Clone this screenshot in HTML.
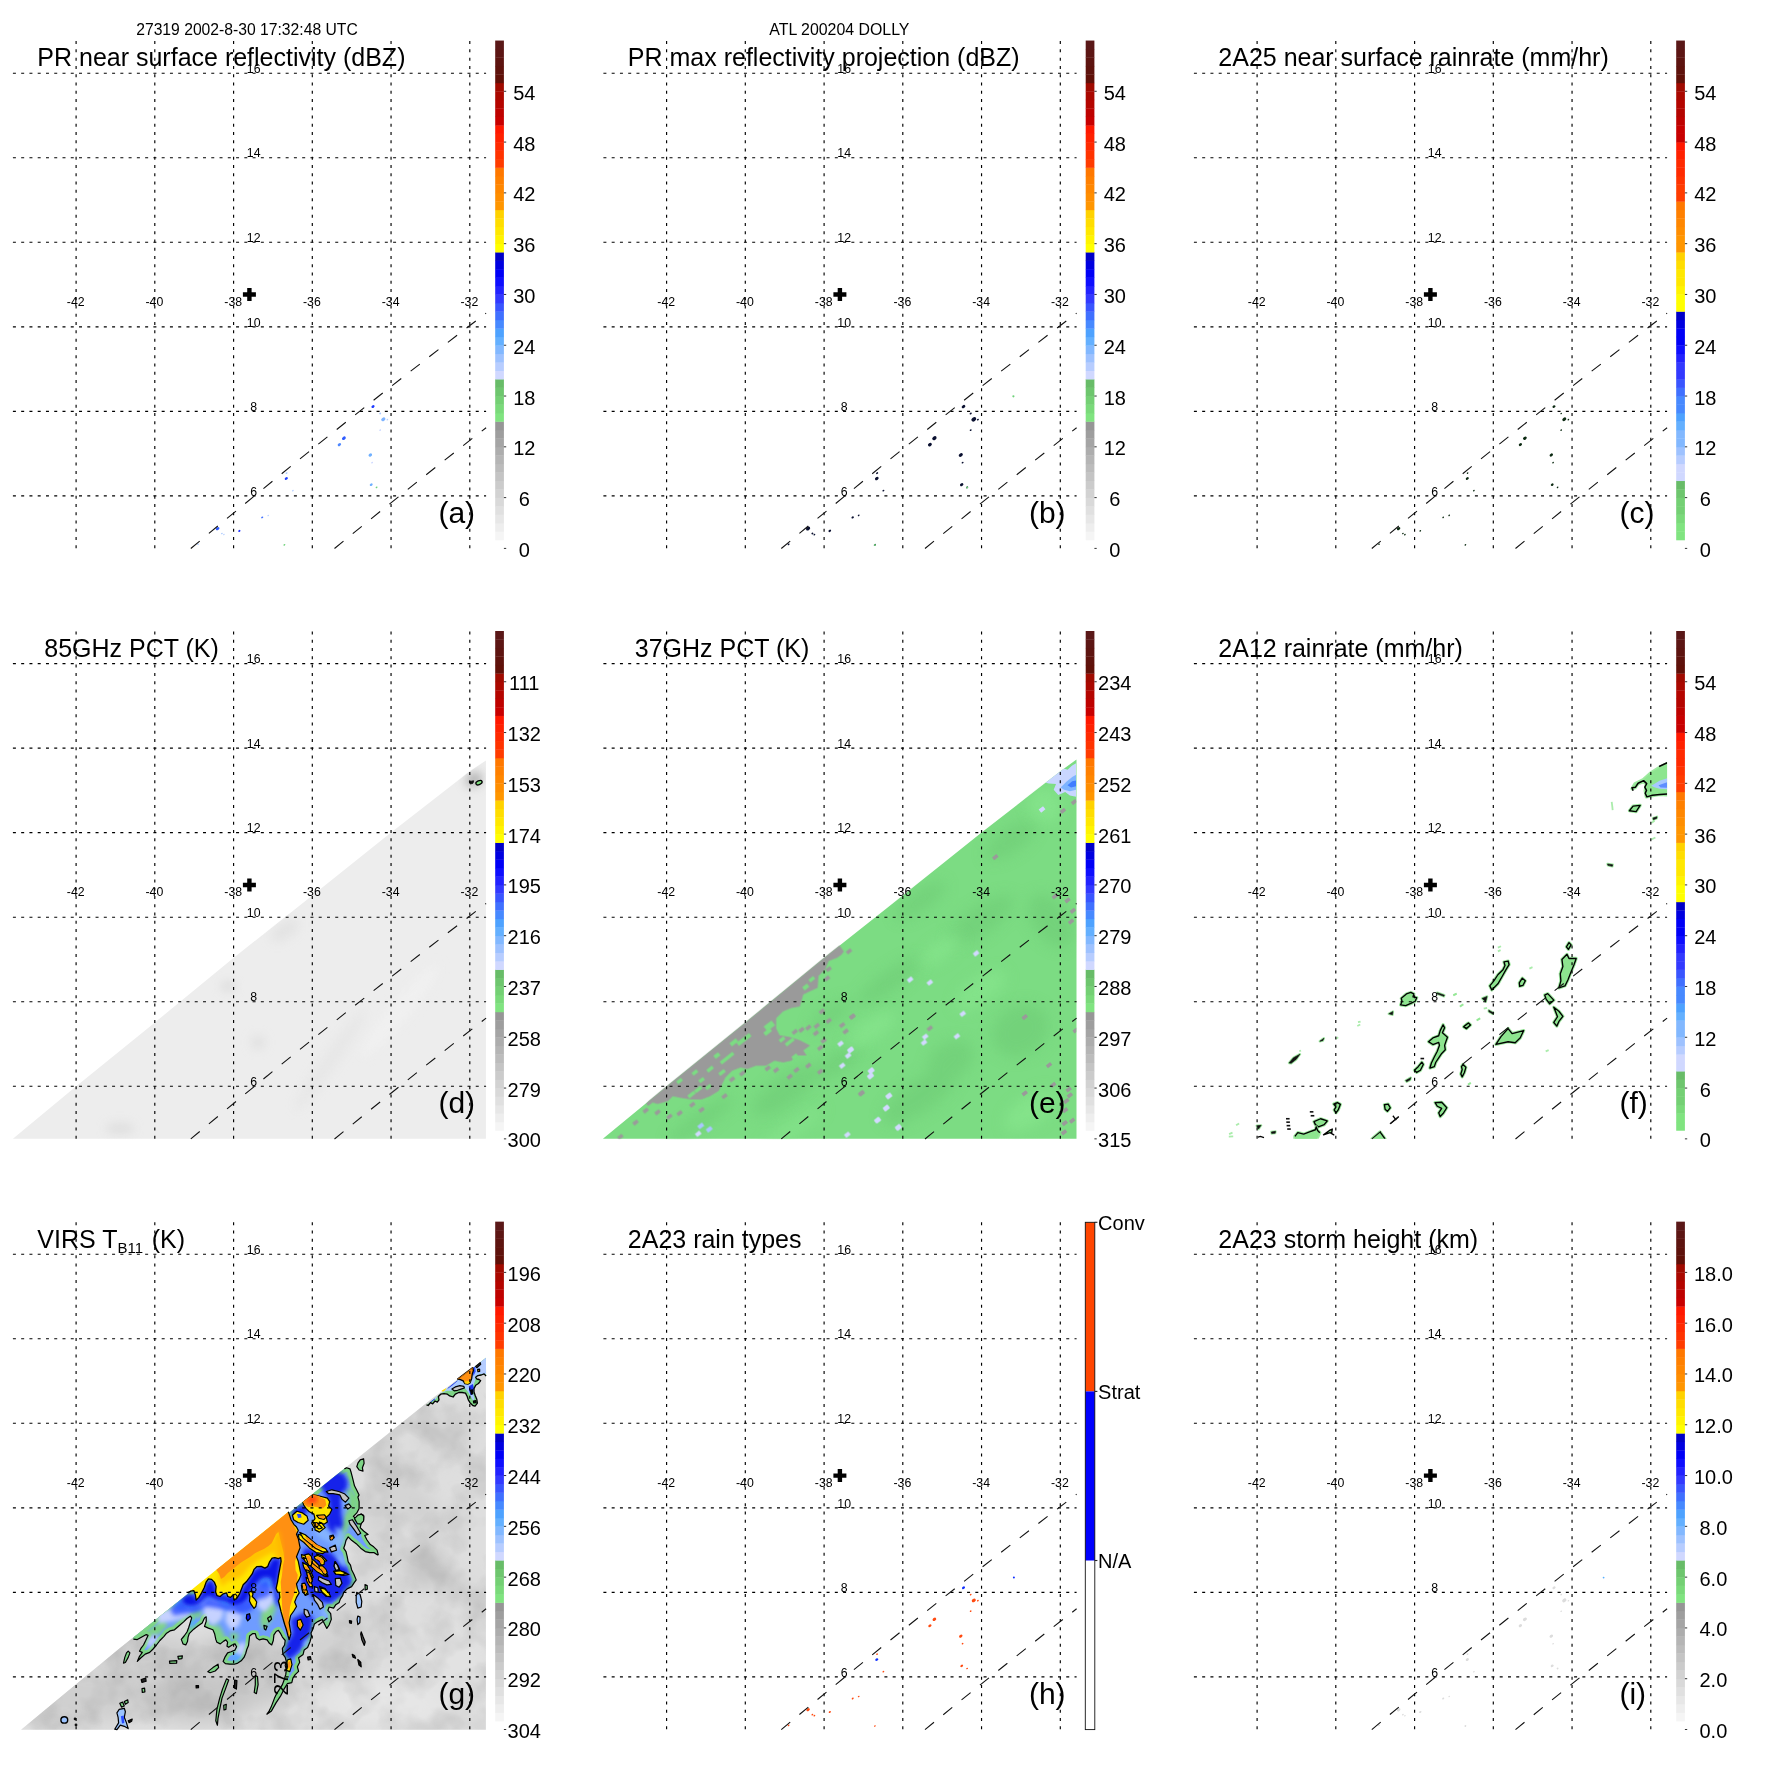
<!DOCTYPE html>
<html><head><meta charset="utf-8"><title>TRMM overpass ATL 200204 DOLLY</title>
<style>html,body{margin:0;padding:0;background:#fff;}svg{display:block;will-change:transform;}text{font-family:"Liberation Sans",sans-serif;fill:#000;}</style></head><body>
<svg width="1771" height="1771" viewBox="0 0 1771 1771">
<rect width="1771" height="1771" fill="#fff"/>
<text x="136.2" y="34.7" font-size="15.7">27319 2002-8-30 17:32:48 UTC</text>
<text x="769.3" y="34.7" font-size="15.9">ATL 200204 DOLLY</text>
<g transform="translate(0.00 0.00)"><!-- panel a -->
<ellipse cx="373.0" cy="406.6" rx="1.72" ry="1.27" fill="#1f3cff" transform="rotate(-35 373.0 406.6)"/>
<ellipse cx="380.2" cy="413.5" rx="1.03" ry="0.77" fill="#a8c8ff" transform="rotate(-35 380.2 413.5)"/>
<ellipse cx="383.3" cy="419.3" rx="2.30" ry="1.70" fill="#7fb4ff" transform="rotate(-35 383.3 419.3)"/>
<ellipse cx="387.4" cy="419.6" rx="0.92" ry="0.68" fill="#b8d0ff" transform="rotate(-35 387.4 419.6)"/>
<ellipse cx="380.2" cy="430.1" rx="0.92" ry="0.68" fill="#c8d4ff" transform="rotate(-35 380.2 430.1)"/>
<ellipse cx="343.9" cy="438.2" rx="2.07" ry="1.53" fill="#2f5cff" transform="rotate(-35 343.9 438.2)"/>
<ellipse cx="339.4" cy="444.6" rx="1.84" ry="1.36" fill="#4f88ff" transform="rotate(-35 339.4 444.6)"/>
<ellipse cx="370.3" cy="455.0" rx="1.95" ry="1.44" fill="#6fb0ff" transform="rotate(-35 370.3 455.0)"/>
<ellipse cx="372.1" cy="462.6" rx="0.92" ry="0.68" fill="#c8d4ff" transform="rotate(-35 372.1 462.6)"/>
<ellipse cx="286.6" cy="473.1" rx="1.03" ry="0.77" fill="#a8c8ff" transform="rotate(-35 286.6 473.1)"/>
<ellipse cx="286.3" cy="478.5" rx="1.72" ry="1.27" fill="#2040ff" transform="rotate(-35 286.3 478.5)"/>
<ellipse cx="292.9" cy="490.6" rx="0.92" ry="0.68" fill="#b8d0ff" transform="rotate(-35 292.9 490.6)"/>
<ellipse cx="371.2" cy="484.7" rx="1.61" ry="1.19" fill="#6fb0ff" transform="rotate(-35 371.2 484.7)"/>
<ellipse cx="376.6" cy="487.4" rx="1.03" ry="0.77" fill="#6fd27a" transform="rotate(-35 376.6 487.4)"/>
<ellipse cx="262.2" cy="517.4" rx="1.15" ry="0.85" fill="#3f70ff" transform="rotate(-35 262.2 517.4)"/>
<ellipse cx="268.2" cy="515.4" rx="0.86" ry="0.64" fill="#b8d0ff" transform="rotate(-35 268.2 515.4)"/>
<ellipse cx="217.6" cy="528.6" rx="1.95" ry="1.44" fill="#2f5cff" transform="rotate(-35 217.6 528.6)"/>
<ellipse cx="221.9" cy="533.5" rx="0.92" ry="0.68" fill="#a8c8ff" transform="rotate(-35 221.9 533.5)"/>
<ellipse cx="223.9" cy="534.6" rx="0.86" ry="0.64" fill="#b8d0ff" transform="rotate(-35 223.9 534.6)"/>
<ellipse cx="239.3" cy="530.9" rx="1.26" ry="0.94" fill="#2030ff" transform="rotate(-35 239.3 530.9)"/>
<ellipse cx="198.1" cy="544.3" rx="0.92" ry="0.68" fill="#a8c8ff" transform="rotate(-35 198.1 544.3)"/>
<ellipse cx="284.4" cy="544.9" rx="1.03" ry="0.77" fill="#6fd27a" transform="rotate(-35 284.4 544.9)"/>
<g stroke="#000" fill="none" stroke-width="1.15" stroke-dasharray="3.0 5.265">
<path d="M76.10 41.10V548.80"/>
<path d="M154.80 41.10V548.80"/>
<path d="M233.60 41.10V548.80"/>
<path d="M312.30 41.10V548.80"/>
<path d="M391.05 41.10V548.80"/>
<path d="M469.80 41.10V548.80"/>
<path d="M12.90 73.20H486.10"/>
<path d="M12.90 157.70H486.10"/>
<path d="M12.90 242.20H486.10"/>
<path d="M12.90 326.80H486.10"/>
<path d="M12.90 411.30H486.10"/>
<path d="M12.90 495.80H486.10"/>
</g>
<g stroke="#111" stroke-width="1.1" stroke-dasharray="11.6 11.94" fill="none">
<path d="M190.8 548.5Q335.8 427.5 486.1 313.1"/>
<path d="M334.5 548.5Q409.6 487.2 486.1 427.7"/>
</g>
<g font-size="12.3" text-anchor="middle">
<text x="75.70" y="306.0">-42</text>
<text x="154.40" y="306.0">-40</text>
<text x="233.20" y="306.0">-38</text>
<text x="311.90" y="306.0">-36</text>
<text x="390.65" y="306.0">-34</text>
<text x="469.40" y="306.0">-32</text>
<text x="253.7" y="72.90">16</text>
<text x="253.7" y="157.40">14</text>
<text x="253.7" y="241.90">12</text>
<text x="253.7" y="326.50">10</text>
<text x="253.7" y="411.00">8</text>
<text x="253.7" y="495.50">6</text>
</g>
<path d="M242.90 292.30h13.00v4.40h-13.00z M247.20 288.00h4.40v13.00h-4.40z" fill="#000"/>
<text x="37.30" y="65.90" font-size="25.0" xml:space="preserve">PR near surface reflectivity (dBZ)</text>
<text x="438.4" y="522.8" font-size="30">(a)</text>
<rect x="495.20" y="531.52" width="8.70" height="8.77" fill="#f5f5f5"/>
<rect x="495.20" y="523.06" width="8.70" height="8.77" fill="#eeeeee"/>
<rect x="495.20" y="514.59" width="8.70" height="8.77" fill="#e7e7e7"/>
<rect x="495.20" y="506.13" width="8.70" height="8.77" fill="#e0e0e0"/>
<rect x="495.20" y="497.66" width="8.70" height="8.77" fill="#d9d9d9"/>
<rect x="495.20" y="489.20" width="8.70" height="8.77" fill="#d2d2d2"/>
<rect x="495.20" y="480.73" width="8.70" height="8.77" fill="#cbcbcb"/>
<rect x="495.20" y="472.27" width="8.70" height="8.77" fill="#c4c4c4"/>
<rect x="495.20" y="463.80" width="8.70" height="8.77" fill="#bcbcbc"/>
<rect x="495.20" y="455.34" width="8.70" height="8.77" fill="#b5b5b5"/>
<rect x="495.20" y="446.87" width="8.70" height="8.77" fill="#adadad"/>
<rect x="495.20" y="438.41" width="8.70" height="8.77" fill="#a5a5a5"/>
<rect x="495.20" y="429.94" width="8.70" height="8.77" fill="#9e9e9e"/>
<rect x="495.20" y="421.48" width="8.70" height="8.77" fill="#969696"/>
<rect x="495.20" y="413.01" width="8.70" height="8.77" fill="#80e480"/>
<rect x="495.20" y="404.55" width="8.70" height="8.77" fill="#7ada7a"/>
<rect x="495.20" y="396.08" width="8.70" height="8.77" fill="#74d074"/>
<rect x="495.20" y="387.62" width="8.70" height="8.77" fill="#6ec66e"/>
<rect x="495.20" y="379.15" width="8.70" height="8.77" fill="#68bc68"/>
<rect x="495.20" y="370.69" width="8.70" height="8.77" fill="#d0d8ff"/>
<rect x="495.20" y="362.22" width="8.70" height="8.77" fill="#b7cdff"/>
<rect x="495.20" y="353.76" width="8.70" height="8.77" fill="#9ec2ff"/>
<rect x="495.20" y="345.29" width="8.70" height="8.77" fill="#82b8ff"/>
<rect x="495.20" y="336.83" width="8.70" height="8.77" fill="#64b0ff"/>
<rect x="495.20" y="328.36" width="8.70" height="8.77" fill="#4ea2ff"/>
<rect x="495.20" y="319.90" width="8.70" height="8.77" fill="#4789ff"/>
<rect x="495.20" y="311.43" width="8.70" height="8.77" fill="#4070ff"/>
<rect x="495.20" y="302.97" width="8.70" height="8.77" fill="#3955ff"/>
<rect x="495.20" y="294.50" width="8.70" height="8.77" fill="#3239ff"/>
<rect x="495.20" y="286.04" width="8.70" height="8.77" fill="#2222ff"/>
<rect x="495.20" y="277.57" width="8.70" height="8.77" fill="#0e0eff"/>
<rect x="495.20" y="269.11" width="8.70" height="8.77" fill="#0000f7"/>
<rect x="495.20" y="260.64" width="8.70" height="8.77" fill="#0000e0"/>
<rect x="495.20" y="252.18" width="8.70" height="8.77" fill="#0000c8"/>
<rect x="495.20" y="243.71" width="8.70" height="8.77" fill="#ffff00"/>
<rect x="495.20" y="235.25" width="8.70" height="8.77" fill="#fff400"/>
<rect x="495.20" y="226.78" width="8.70" height="8.77" fill="#ffe800"/>
<rect x="495.20" y="218.31" width="8.70" height="8.77" fill="#ffdd00"/>
<rect x="495.20" y="209.85" width="8.70" height="8.77" fill="#ffd200"/>
<rect x="495.20" y="201.38" width="8.70" height="8.77" fill="#ff9600"/>
<rect x="495.20" y="192.92" width="8.70" height="8.77" fill="#ff8e00"/>
<rect x="495.20" y="184.46" width="8.70" height="8.77" fill="#ff8700"/>
<rect x="495.20" y="175.99" width="8.70" height="8.77" fill="#ff8000"/>
<rect x="495.20" y="167.53" width="8.70" height="8.77" fill="#ff7800"/>
<rect x="495.20" y="159.06" width="8.70" height="8.77" fill="#ff3c00"/>
<rect x="495.20" y="150.60" width="8.70" height="8.77" fill="#ff3300"/>
<rect x="495.20" y="142.13" width="8.70" height="8.77" fill="#ff2a00"/>
<rect x="495.20" y="133.67" width="8.70" height="8.77" fill="#ff2100"/>
<rect x="495.20" y="125.20" width="8.70" height="8.77" fill="#ff1800"/>
<rect x="495.20" y="116.74" width="8.70" height="8.77" fill="#c80000"/>
<rect x="495.20" y="108.27" width="8.70" height="8.77" fill="#be0200"/>
<rect x="495.20" y="99.81" width="8.70" height="8.77" fill="#b40500"/>
<rect x="495.20" y="91.34" width="8.70" height="8.77" fill="#aa0800"/>
<rect x="495.20" y="82.88" width="8.70" height="8.77" fill="#a00a00"/>
<rect x="495.20" y="74.41" width="8.70" height="8.77" fill="#601008"/>
<rect x="495.20" y="65.95" width="8.70" height="8.77" fill="#5e120c"/>
<rect x="495.20" y="57.48" width="8.70" height="8.77" fill="#5d1410"/>
<rect x="495.20" y="49.02" width="8.70" height="8.77" fill="#5c1614"/>
<rect x="495.20" y="40.55" width="8.70" height="8.77" fill="#5a1818"/>
<rect x="503.90" y="547.90" width="2.3" height="1.0" fill="#333"/>
<text x="524.25" y="556.90" font-size="20.00" text-anchor="middle">0</text>
<rect x="503.90" y="497.11" width="2.3" height="1.0" fill="#333"/>
<text x="524.25" y="506.11" font-size="20.00" text-anchor="middle">6</text>
<rect x="503.90" y="446.32" width="2.3" height="1.0" fill="#333"/>
<text x="524.25" y="455.32" font-size="20.00" text-anchor="middle">12</text>
<rect x="503.90" y="395.53" width="2.3" height="1.0" fill="#333"/>
<text x="524.25" y="404.53" font-size="20.00" text-anchor="middle">18</text>
<rect x="503.90" y="344.74" width="2.3" height="1.0" fill="#333"/>
<text x="524.25" y="353.74" font-size="20.00" text-anchor="middle">24</text>
<rect x="503.90" y="293.95" width="2.3" height="1.0" fill="#333"/>
<text x="524.25" y="302.95" font-size="20.00" text-anchor="middle">30</text>
<rect x="503.90" y="243.16" width="2.3" height="1.0" fill="#333"/>
<text x="524.25" y="252.16" font-size="20.00" text-anchor="middle">36</text>
<rect x="503.90" y="192.37" width="2.3" height="1.0" fill="#333"/>
<text x="524.25" y="201.37" font-size="20.00" text-anchor="middle">42</text>
<rect x="503.90" y="141.58" width="2.3" height="1.0" fill="#333"/>
<text x="524.25" y="150.58" font-size="20.00" text-anchor="middle">48</text>
<rect x="503.90" y="90.79" width="2.3" height="1.0" fill="#333"/>
<text x="524.25" y="99.79" font-size="20.00" text-anchor="middle">54</text>
</g>
<g transform="translate(590.50 0.00)"><!-- panel b -->
<ellipse cx="373.0" cy="406.6" rx="1.98" ry="1.47" fill="#0a1030" transform="rotate(-35 373.0 406.6)"/>
<ellipse cx="380.2" cy="413.5" rx="1.19" ry="0.88" fill="#0a1030" transform="rotate(-35 380.2 413.5)"/>
<ellipse cx="383.3" cy="419.3" rx="2.64" ry="1.95" fill="#0a1030" transform="rotate(-35 383.3 419.3)"/>
<ellipse cx="387.4" cy="419.6" rx="1.06" ry="0.78" fill="#0a1030" transform="rotate(-35 387.4 419.6)"/>
<ellipse cx="380.2" cy="430.1" rx="1.06" ry="0.78" fill="#0a1030" transform="rotate(-35 380.2 430.1)"/>
<ellipse cx="343.9" cy="438.2" rx="2.38" ry="1.76" fill="#0a1030" transform="rotate(-35 343.9 438.2)"/>
<ellipse cx="339.4" cy="444.6" rx="2.12" ry="1.56" fill="#0a1030" transform="rotate(-35 339.4 444.6)"/>
<ellipse cx="370.3" cy="455.0" rx="2.25" ry="1.66" fill="#0a1030" transform="rotate(-35 370.3 455.0)"/>
<ellipse cx="372.1" cy="462.6" rx="1.06" ry="0.78" fill="#0a1030" transform="rotate(-35 372.1 462.6)"/>
<ellipse cx="286.6" cy="473.1" rx="1.19" ry="0.88" fill="#0a1030" transform="rotate(-35 286.6 473.1)"/>
<ellipse cx="286.3" cy="478.5" rx="1.98" ry="1.47" fill="#0a1030" transform="rotate(-35 286.3 478.5)"/>
<ellipse cx="292.9" cy="490.6" rx="1.06" ry="0.78" fill="#0a1030" transform="rotate(-35 292.9 490.6)"/>
<ellipse cx="371.2" cy="484.7" rx="1.85" ry="1.37" fill="#0a1030" transform="rotate(-35 371.2 484.7)"/>
<ellipse cx="376.6" cy="487.4" rx="1.19" ry="0.88" fill="#0a1030" transform="rotate(-35 376.6 487.4)"/>
<ellipse cx="262.2" cy="517.4" rx="1.32" ry="0.98" fill="#0a1030" transform="rotate(-35 262.2 517.4)"/>
<ellipse cx="268.2" cy="515.4" rx="0.99" ry="0.73" fill="#0a1030" transform="rotate(-35 268.2 515.4)"/>
<ellipse cx="217.6" cy="528.6" rx="2.25" ry="1.66" fill="#0a1030" transform="rotate(-35 217.6 528.6)"/>
<ellipse cx="221.9" cy="533.5" rx="1.06" ry="0.78" fill="#0a1030" transform="rotate(-35 221.9 533.5)"/>
<ellipse cx="223.9" cy="534.6" rx="0.99" ry="0.73" fill="#0a1030" transform="rotate(-35 223.9 534.6)"/>
<ellipse cx="239.3" cy="530.9" rx="1.45" ry="1.08" fill="#0a1030" transform="rotate(-35 239.3 530.9)"/>
<ellipse cx="198.1" cy="544.3" rx="1.06" ry="0.78" fill="#0a1030" transform="rotate(-35 198.1 544.3)"/>
<ellipse cx="284.4" cy="544.9" rx="1.19" ry="0.88" fill="#0a1030" transform="rotate(-35 284.4 544.9)"/>
<circle cx="422.9" cy="396.3" r="1.1" fill="#6fd27a"/>
<circle cx="376.6" cy="487.4" r="1.0" fill="#6fd27a"/>
<circle cx="284.4" cy="544.9" r="1.0" fill="#6fd27a"/>
<g stroke="#000" fill="none" stroke-width="1.15" stroke-dasharray="3.0 5.265">
<path d="M76.10 41.10V548.80"/>
<path d="M154.80 41.10V548.80"/>
<path d="M233.60 41.10V548.80"/>
<path d="M312.30 41.10V548.80"/>
<path d="M391.05 41.10V548.80"/>
<path d="M469.80 41.10V548.80"/>
<path d="M12.90 73.20H486.10"/>
<path d="M12.90 157.70H486.10"/>
<path d="M12.90 242.20H486.10"/>
<path d="M12.90 326.80H486.10"/>
<path d="M12.90 411.30H486.10"/>
<path d="M12.90 495.80H486.10"/>
</g>
<g stroke="#111" stroke-width="1.1" stroke-dasharray="11.6 11.94" fill="none">
<path d="M190.8 548.5Q335.8 427.5 486.1 313.1"/>
<path d="M334.5 548.5Q409.6 487.2 486.1 427.7"/>
</g>
<g font-size="12.3" text-anchor="middle">
<text x="75.70" y="306.0">-42</text>
<text x="154.40" y="306.0">-40</text>
<text x="233.20" y="306.0">-38</text>
<text x="311.90" y="306.0">-36</text>
<text x="390.65" y="306.0">-34</text>
<text x="469.40" y="306.0">-32</text>
<text x="253.7" y="72.90">16</text>
<text x="253.7" y="157.40">14</text>
<text x="253.7" y="241.90">12</text>
<text x="253.7" y="326.50">10</text>
<text x="253.7" y="411.00">8</text>
<text x="253.7" y="495.50">6</text>
</g>
<path d="M242.90 292.30h13.00v4.40h-13.00z M247.20 288.00h4.40v13.00h-4.40z" fill="#000"/>
<text x="37.30" y="65.90" font-size="25.0" xml:space="preserve">PR max reflectivity projection (dBZ)</text>
<text x="438.4" y="522.8" font-size="30">(b)</text>
<rect x="495.20" y="531.52" width="8.70" height="8.77" fill="#f5f5f5"/>
<rect x="495.20" y="523.06" width="8.70" height="8.77" fill="#eeeeee"/>
<rect x="495.20" y="514.59" width="8.70" height="8.77" fill="#e7e7e7"/>
<rect x="495.20" y="506.13" width="8.70" height="8.77" fill="#e0e0e0"/>
<rect x="495.20" y="497.66" width="8.70" height="8.77" fill="#d9d9d9"/>
<rect x="495.20" y="489.20" width="8.70" height="8.77" fill="#d2d2d2"/>
<rect x="495.20" y="480.73" width="8.70" height="8.77" fill="#cbcbcb"/>
<rect x="495.20" y="472.27" width="8.70" height="8.77" fill="#c4c4c4"/>
<rect x="495.20" y="463.80" width="8.70" height="8.77" fill="#bcbcbc"/>
<rect x="495.20" y="455.34" width="8.70" height="8.77" fill="#b5b5b5"/>
<rect x="495.20" y="446.87" width="8.70" height="8.77" fill="#adadad"/>
<rect x="495.20" y="438.41" width="8.70" height="8.77" fill="#a5a5a5"/>
<rect x="495.20" y="429.94" width="8.70" height="8.77" fill="#9e9e9e"/>
<rect x="495.20" y="421.48" width="8.70" height="8.77" fill="#969696"/>
<rect x="495.20" y="413.01" width="8.70" height="8.77" fill="#80e480"/>
<rect x="495.20" y="404.55" width="8.70" height="8.77" fill="#7ada7a"/>
<rect x="495.20" y="396.08" width="8.70" height="8.77" fill="#74d074"/>
<rect x="495.20" y="387.62" width="8.70" height="8.77" fill="#6ec66e"/>
<rect x="495.20" y="379.15" width="8.70" height="8.77" fill="#68bc68"/>
<rect x="495.20" y="370.69" width="8.70" height="8.77" fill="#d0d8ff"/>
<rect x="495.20" y="362.22" width="8.70" height="8.77" fill="#b7cdff"/>
<rect x="495.20" y="353.76" width="8.70" height="8.77" fill="#9ec2ff"/>
<rect x="495.20" y="345.29" width="8.70" height="8.77" fill="#82b8ff"/>
<rect x="495.20" y="336.83" width="8.70" height="8.77" fill="#64b0ff"/>
<rect x="495.20" y="328.36" width="8.70" height="8.77" fill="#4ea2ff"/>
<rect x="495.20" y="319.90" width="8.70" height="8.77" fill="#4789ff"/>
<rect x="495.20" y="311.43" width="8.70" height="8.77" fill="#4070ff"/>
<rect x="495.20" y="302.97" width="8.70" height="8.77" fill="#3955ff"/>
<rect x="495.20" y="294.50" width="8.70" height="8.77" fill="#3239ff"/>
<rect x="495.20" y="286.04" width="8.70" height="8.77" fill="#2222ff"/>
<rect x="495.20" y="277.57" width="8.70" height="8.77" fill="#0e0eff"/>
<rect x="495.20" y="269.11" width="8.70" height="8.77" fill="#0000f7"/>
<rect x="495.20" y="260.64" width="8.70" height="8.77" fill="#0000e0"/>
<rect x="495.20" y="252.18" width="8.70" height="8.77" fill="#0000c8"/>
<rect x="495.20" y="243.71" width="8.70" height="8.77" fill="#ffff00"/>
<rect x="495.20" y="235.25" width="8.70" height="8.77" fill="#fff400"/>
<rect x="495.20" y="226.78" width="8.70" height="8.77" fill="#ffe800"/>
<rect x="495.20" y="218.31" width="8.70" height="8.77" fill="#ffdd00"/>
<rect x="495.20" y="209.85" width="8.70" height="8.77" fill="#ffd200"/>
<rect x="495.20" y="201.38" width="8.70" height="8.77" fill="#ff9600"/>
<rect x="495.20" y="192.92" width="8.70" height="8.77" fill="#ff8e00"/>
<rect x="495.20" y="184.46" width="8.70" height="8.77" fill="#ff8700"/>
<rect x="495.20" y="175.99" width="8.70" height="8.77" fill="#ff8000"/>
<rect x="495.20" y="167.53" width="8.70" height="8.77" fill="#ff7800"/>
<rect x="495.20" y="159.06" width="8.70" height="8.77" fill="#ff3c00"/>
<rect x="495.20" y="150.60" width="8.70" height="8.77" fill="#ff3300"/>
<rect x="495.20" y="142.13" width="8.70" height="8.77" fill="#ff2a00"/>
<rect x="495.20" y="133.67" width="8.70" height="8.77" fill="#ff2100"/>
<rect x="495.20" y="125.20" width="8.70" height="8.77" fill="#ff1800"/>
<rect x="495.20" y="116.74" width="8.70" height="8.77" fill="#c80000"/>
<rect x="495.20" y="108.27" width="8.70" height="8.77" fill="#be0200"/>
<rect x="495.20" y="99.81" width="8.70" height="8.77" fill="#b40500"/>
<rect x="495.20" y="91.34" width="8.70" height="8.77" fill="#aa0800"/>
<rect x="495.20" y="82.88" width="8.70" height="8.77" fill="#a00a00"/>
<rect x="495.20" y="74.41" width="8.70" height="8.77" fill="#601008"/>
<rect x="495.20" y="65.95" width="8.70" height="8.77" fill="#5e120c"/>
<rect x="495.20" y="57.48" width="8.70" height="8.77" fill="#5d1410"/>
<rect x="495.20" y="49.02" width="8.70" height="8.77" fill="#5c1614"/>
<rect x="495.20" y="40.55" width="8.70" height="8.77" fill="#5a1818"/>
<rect x="503.90" y="547.90" width="2.3" height="1.0" fill="#333"/>
<text x="524.25" y="556.90" font-size="20.00" text-anchor="middle">0</text>
<rect x="503.90" y="497.11" width="2.3" height="1.0" fill="#333"/>
<text x="524.25" y="506.11" font-size="20.00" text-anchor="middle">6</text>
<rect x="503.90" y="446.32" width="2.3" height="1.0" fill="#333"/>
<text x="524.25" y="455.32" font-size="20.00" text-anchor="middle">12</text>
<rect x="503.90" y="395.53" width="2.3" height="1.0" fill="#333"/>
<text x="524.25" y="404.53" font-size="20.00" text-anchor="middle">18</text>
<rect x="503.90" y="344.74" width="2.3" height="1.0" fill="#333"/>
<text x="524.25" y="353.74" font-size="20.00" text-anchor="middle">24</text>
<rect x="503.90" y="293.95" width="2.3" height="1.0" fill="#333"/>
<text x="524.25" y="302.95" font-size="20.00" text-anchor="middle">30</text>
<rect x="503.90" y="243.16" width="2.3" height="1.0" fill="#333"/>
<text x="524.25" y="252.16" font-size="20.00" text-anchor="middle">36</text>
<rect x="503.90" y="192.37" width="2.3" height="1.0" fill="#333"/>
<text x="524.25" y="201.37" font-size="20.00" text-anchor="middle">42</text>
<rect x="503.90" y="141.58" width="2.3" height="1.0" fill="#333"/>
<text x="524.25" y="150.58" font-size="20.00" text-anchor="middle">48</text>
<rect x="503.90" y="90.79" width="2.3" height="1.0" fill="#333"/>
<text x="524.25" y="99.79" font-size="20.00" text-anchor="middle">54</text>
</g>
<g transform="translate(1181.00 0.00)"><!-- panel c -->
<ellipse cx="373.0" cy="406.6" rx="1.64" ry="1.21" fill="#0c2a12" transform="rotate(-35 373.0 406.6)"/>
<ellipse cx="380.2" cy="413.5" rx="0.92" ry="0.68" fill="#0c2a12" transform="rotate(-35 380.2 413.5)"/>
<ellipse cx="383.3" cy="419.3" rx="2.18" ry="1.61" fill="#0c2a12" transform="rotate(-35 383.3 419.3)"/>
<ellipse cx="387.4" cy="419.6" rx="0.92" ry="0.68" fill="#0c2a12" transform="rotate(-35 387.4 419.6)"/>
<ellipse cx="380.2" cy="430.1" rx="0.92" ry="0.68" fill="#0c2a12" transform="rotate(-35 380.2 430.1)"/>
<ellipse cx="343.9" cy="438.2" rx="1.97" ry="1.45" fill="#0c2a12" transform="rotate(-35 343.9 438.2)"/>
<ellipse cx="339.4" cy="444.6" rx="1.75" ry="1.29" fill="#0c2a12" transform="rotate(-35 339.4 444.6)"/>
<ellipse cx="370.3" cy="455.0" rx="1.86" ry="1.37" fill="#0c2a12" transform="rotate(-35 370.3 455.0)"/>
<ellipse cx="372.1" cy="462.6" rx="0.92" ry="0.68" fill="#0c2a12" transform="rotate(-35 372.1 462.6)"/>
<ellipse cx="286.6" cy="473.1" rx="0.92" ry="0.68" fill="#0c2a12" transform="rotate(-35 286.6 473.1)"/>
<ellipse cx="286.3" cy="478.5" rx="1.64" ry="1.21" fill="#0c2a12" transform="rotate(-35 286.3 478.5)"/>
<ellipse cx="292.9" cy="490.6" rx="0.92" ry="0.68" fill="#0c2a12" transform="rotate(-35 292.9 490.6)"/>
<ellipse cx="371.2" cy="484.7" rx="1.53" ry="1.13" fill="#0c2a12" transform="rotate(-35 371.2 484.7)"/>
<ellipse cx="376.6" cy="487.4" rx="0.92" ry="0.68" fill="#0c2a12" transform="rotate(-35 376.6 487.4)"/>
<ellipse cx="262.2" cy="517.4" rx="0.92" ry="0.68" fill="#0c2a12" transform="rotate(-35 262.2 517.4)"/>
<ellipse cx="268.2" cy="515.4" rx="0.92" ry="0.68" fill="#0c2a12" transform="rotate(-35 268.2 515.4)"/>
<ellipse cx="217.6" cy="528.6" rx="1.86" ry="1.37" fill="#0c2a12" transform="rotate(-35 217.6 528.6)"/>
<ellipse cx="221.9" cy="533.5" rx="0.92" ry="0.68" fill="#0c2a12" transform="rotate(-35 221.9 533.5)"/>
<ellipse cx="223.9" cy="534.6" rx="0.92" ry="0.68" fill="#0c2a12" transform="rotate(-35 223.9 534.6)"/>
<ellipse cx="239.3" cy="530.9" rx="0.92" ry="0.68" fill="#0c2a12" transform="rotate(-35 239.3 530.9)"/>
<ellipse cx="198.1" cy="544.3" rx="0.92" ry="0.68" fill="#0c2a12" transform="rotate(-35 198.1 544.3)"/>
<ellipse cx="284.4" cy="544.9" rx="0.92" ry="0.68" fill="#0c2a12" transform="rotate(-35 284.4 544.9)"/>
<g stroke="#000" fill="none" stroke-width="1.15" stroke-dasharray="3.0 5.265">
<path d="M76.10 41.10V548.80"/>
<path d="M154.80 41.10V548.80"/>
<path d="M233.60 41.10V548.80"/>
<path d="M312.30 41.10V548.80"/>
<path d="M391.05 41.10V548.80"/>
<path d="M469.80 41.10V548.80"/>
<path d="M12.90 73.20H486.10"/>
<path d="M12.90 157.70H486.10"/>
<path d="M12.90 242.20H486.10"/>
<path d="M12.90 326.80H486.10"/>
<path d="M12.90 411.30H486.10"/>
<path d="M12.90 495.80H486.10"/>
</g>
<g stroke="#111" stroke-width="1.1" stroke-dasharray="11.6 11.94" fill="none">
<path d="M190.8 548.5Q335.8 427.5 486.1 313.1"/>
<path d="M334.5 548.5Q409.6 487.2 486.1 427.7"/>
</g>
<g font-size="12.3" text-anchor="middle">
<text x="75.70" y="306.0">-42</text>
<text x="154.40" y="306.0">-40</text>
<text x="233.20" y="306.0">-38</text>
<text x="311.90" y="306.0">-36</text>
<text x="390.65" y="306.0">-34</text>
<text x="469.40" y="306.0">-32</text>
<text x="253.7" y="72.90">16</text>
<text x="253.7" y="157.40">14</text>
<text x="253.7" y="241.90">12</text>
<text x="253.7" y="326.50">10</text>
<text x="253.7" y="411.00">8</text>
<text x="253.7" y="495.50">6</text>
</g>
<path d="M242.90 292.30h13.00v4.40h-13.00z M247.20 288.00h4.40v13.00h-4.40z" fill="#000"/>
<text x="37.30" y="65.90" font-size="25.0" xml:space="preserve">2A25 near surface rainrate (mm/hr)</text>
<text x="438.4" y="522.8" font-size="30">(c)</text>
<rect x="495.20" y="531.52" width="8.70" height="8.77" fill="#80e480"/>
<rect x="495.20" y="523.06" width="8.70" height="8.77" fill="#80e480"/>
<rect x="495.20" y="514.59" width="8.70" height="8.77" fill="#7ada7a"/>
<rect x="495.20" y="506.13" width="8.70" height="8.77" fill="#74d074"/>
<rect x="495.20" y="497.66" width="8.70" height="8.77" fill="#74d074"/>
<rect x="495.20" y="489.20" width="8.70" height="8.77" fill="#6ec66e"/>
<rect x="495.20" y="480.73" width="8.70" height="8.77" fill="#68bc68"/>
<rect x="495.20" y="472.27" width="8.70" height="8.77" fill="#d0d8ff"/>
<rect x="495.20" y="463.80" width="8.70" height="8.77" fill="#d0d8ff"/>
<rect x="495.20" y="455.34" width="8.70" height="8.77" fill="#b7cdff"/>
<rect x="495.20" y="446.87" width="8.70" height="8.77" fill="#9ec2ff"/>
<rect x="495.20" y="438.41" width="8.70" height="8.77" fill="#82b8ff"/>
<rect x="495.20" y="429.94" width="8.70" height="8.77" fill="#82b8ff"/>
<rect x="495.20" y="421.48" width="8.70" height="8.77" fill="#64b0ff"/>
<rect x="495.20" y="413.01" width="8.70" height="8.77" fill="#4ea2ff"/>
<rect x="495.20" y="404.55" width="8.70" height="8.77" fill="#4789ff"/>
<rect x="495.20" y="396.08" width="8.70" height="8.77" fill="#4789ff"/>
<rect x="495.20" y="387.62" width="8.70" height="8.77" fill="#4070ff"/>
<rect x="495.20" y="379.15" width="8.70" height="8.77" fill="#3955ff"/>
<rect x="495.20" y="370.69" width="8.70" height="8.77" fill="#3239ff"/>
<rect x="495.20" y="362.22" width="8.70" height="8.77" fill="#3239ff"/>
<rect x="495.20" y="353.76" width="8.70" height="8.77" fill="#2222ff"/>
<rect x="495.20" y="345.29" width="8.70" height="8.77" fill="#0e0eff"/>
<rect x="495.20" y="336.83" width="8.70" height="8.77" fill="#0000f7"/>
<rect x="495.20" y="328.36" width="8.70" height="8.77" fill="#0000f7"/>
<rect x="495.20" y="319.90" width="8.70" height="8.77" fill="#0000e0"/>
<rect x="495.20" y="311.43" width="8.70" height="8.77" fill="#0000c8"/>
<rect x="495.20" y="302.97" width="8.70" height="8.77" fill="#ffff00"/>
<rect x="495.20" y="294.50" width="8.70" height="8.77" fill="#ffff00"/>
<rect x="495.20" y="286.04" width="8.70" height="8.77" fill="#fff400"/>
<rect x="495.20" y="277.57" width="8.70" height="8.77" fill="#ffe800"/>
<rect x="495.20" y="269.11" width="8.70" height="8.77" fill="#ffe800"/>
<rect x="495.20" y="260.64" width="8.70" height="8.77" fill="#ffdd00"/>
<rect x="495.20" y="252.18" width="8.70" height="8.77" fill="#ffd200"/>
<rect x="495.20" y="243.71" width="8.70" height="8.77" fill="#ff9600"/>
<rect x="495.20" y="235.25" width="8.70" height="8.77" fill="#ff9600"/>
<rect x="495.20" y="226.78" width="8.70" height="8.77" fill="#ff8e00"/>
<rect x="495.20" y="218.31" width="8.70" height="8.77" fill="#ff8700"/>
<rect x="495.20" y="209.85" width="8.70" height="8.77" fill="#ff8000"/>
<rect x="495.20" y="201.38" width="8.70" height="8.77" fill="#ff7800"/>
<rect x="495.20" y="192.92" width="8.70" height="8.77" fill="#ff3c00"/>
<rect x="495.20" y="184.46" width="8.70" height="8.77" fill="#ff3c00"/>
<rect x="495.20" y="175.99" width="8.70" height="8.77" fill="#ff3300"/>
<rect x="495.20" y="167.53" width="8.70" height="8.77" fill="#ff2a00"/>
<rect x="495.20" y="159.06" width="8.70" height="8.77" fill="#ff2a00"/>
<rect x="495.20" y="150.60" width="8.70" height="8.77" fill="#ff2100"/>
<rect x="495.20" y="142.13" width="8.70" height="8.77" fill="#ff1800"/>
<rect x="495.20" y="133.67" width="8.70" height="8.77" fill="#c80000"/>
<rect x="495.20" y="125.20" width="8.70" height="8.77" fill="#c80000"/>
<rect x="495.20" y="116.74" width="8.70" height="8.77" fill="#be0200"/>
<rect x="495.20" y="108.27" width="8.70" height="8.77" fill="#b40500"/>
<rect x="495.20" y="99.81" width="8.70" height="8.77" fill="#b40500"/>
<rect x="495.20" y="91.34" width="8.70" height="8.77" fill="#aa0800"/>
<rect x="495.20" y="82.88" width="8.70" height="8.77" fill="#a00a00"/>
<rect x="495.20" y="74.41" width="8.70" height="8.77" fill="#601008"/>
<rect x="495.20" y="65.95" width="8.70" height="8.77" fill="#5e120c"/>
<rect x="495.20" y="57.48" width="8.70" height="8.77" fill="#5d1410"/>
<rect x="495.20" y="49.02" width="8.70" height="8.77" fill="#5c1614"/>
<rect x="495.20" y="40.55" width="8.70" height="8.77" fill="#5a1818"/>
<rect x="503.90" y="547.90" width="2.3" height="1.0" fill="#333"/>
<text x="524.25" y="556.90" font-size="20.00" text-anchor="middle">0</text>
<rect x="503.90" y="497.11" width="2.3" height="1.0" fill="#333"/>
<text x="524.25" y="506.11" font-size="20.00" text-anchor="middle">6</text>
<rect x="503.90" y="446.32" width="2.3" height="1.0" fill="#333"/>
<text x="524.25" y="455.32" font-size="20.00" text-anchor="middle">12</text>
<rect x="503.90" y="395.53" width="2.3" height="1.0" fill="#333"/>
<text x="524.25" y="404.53" font-size="20.00" text-anchor="middle">18</text>
<rect x="503.90" y="344.74" width="2.3" height="1.0" fill="#333"/>
<text x="524.25" y="353.74" font-size="20.00" text-anchor="middle">24</text>
<rect x="503.90" y="293.95" width="2.3" height="1.0" fill="#333"/>
<text x="524.25" y="302.95" font-size="20.00" text-anchor="middle">30</text>
<rect x="503.90" y="243.16" width="2.3" height="1.0" fill="#333"/>
<text x="524.25" y="252.16" font-size="20.00" text-anchor="middle">36</text>
<rect x="503.90" y="192.37" width="2.3" height="1.0" fill="#333"/>
<text x="524.25" y="201.37" font-size="20.00" text-anchor="middle">42</text>
<rect x="503.90" y="141.58" width="2.3" height="1.0" fill="#333"/>
<text x="524.25" y="150.58" font-size="20.00" text-anchor="middle">48</text>
<rect x="503.90" y="90.79" width="2.3" height="1.0" fill="#333"/>
<text x="524.25" y="99.79" font-size="20.00" text-anchor="middle">54</text>
</g>
<g transform="translate(0.00 590.45)"><!-- panel d -->
<defs><filter id="bd" x="-20%" y="-20%" width="140%" height="140%"><feGaussianBlur stdDeviation="5"/></filter><clipPath id="cd"><path d="M12.9 548.4L75.9 496.0L154.3 432.5L233.4 367.5L312.3 305.1L391.1 242.0L469.5 181.1L485.9 170.0L485.9 548.4Z"/></clipPath></defs>
<path d="M12.9 548.4L75.9 496.0L154.3 432.5L233.4 367.5L312.3 305.1L391.1 242.0L469.5 181.1L485.9 170.0L485.9 548.4Z" fill="#ededed" />
<g clip-path="url(#cd)">
<g filter="url(#bd)">
<ellipse cx="474" cy="189" rx="9" ry="7" fill="#b4b4b4" transform="rotate(-35 474 189)"/>
<ellipse cx="285" cy="340" rx="16" ry="8" fill="#e3e3e3" transform="rotate(-35 285 340)"/>
<ellipse cx="228" cy="396" rx="7" ry="5" fill="#dcdcdc"/>
<ellipse cx="120" cy="538" rx="14" ry="6" fill="#dfdfdf"/>
<ellipse cx="258" cy="452" rx="7" ry="7" fill="#e1e1e1"/>
<ellipse cx="400" cy="420" rx="60" ry="10" fill="#f0f0f0" transform="rotate(-50 400 420)"/>
<ellipse cx="330" cy="470" rx="60" ry="8" fill="#e7e7e7" transform="rotate(-55 330 470)"/>
</g></g>
<ellipse cx="479" cy="192.2" rx="3.3" ry="1.9" fill="#7fdf7f" stroke="#000" stroke-width="1.3" transform="rotate(-25 479 192.2)"/>
<path d="M469.4 191.2l4.2-0.9l-0.6 2.4l-2.6 0.9z" fill="#111" stroke="#111" stroke-width="0.9" stroke-linejoin="round"/>
<g stroke="#000" fill="none" stroke-width="1.15" stroke-dasharray="3.0 5.265">
<path d="M76.10 41.10V548.80"/>
<path d="M154.80 41.10V548.80"/>
<path d="M233.60 41.10V548.80"/>
<path d="M312.30 41.10V548.80"/>
<path d="M391.05 41.10V548.80"/>
<path d="M469.80 41.10V548.80"/>
<path d="M12.90 73.20H486.10"/>
<path d="M12.90 157.70H486.10"/>
<path d="M12.90 242.20H486.10"/>
<path d="M12.90 326.80H486.10"/>
<path d="M12.90 411.30H486.10"/>
<path d="M12.90 495.80H486.10"/>
</g>
<g stroke="#111" stroke-width="1.1" stroke-dasharray="11.6 11.94" fill="none">
<path d="M190.8 548.5Q335.8 427.5 486.1 313.1"/>
<path d="M334.5 548.5Q409.6 487.2 486.1 427.7"/>
</g>
<g font-size="12.3" text-anchor="middle">
<text x="75.70" y="306.0">-42</text>
<text x="154.40" y="306.0">-40</text>
<text x="233.20" y="306.0">-38</text>
<text x="311.90" y="306.0">-36</text>
<text x="390.65" y="306.0">-34</text>
<text x="469.40" y="306.0">-32</text>
<text x="253.7" y="72.90">16</text>
<text x="253.7" y="157.40">14</text>
<text x="253.7" y="241.90">12</text>
<text x="253.7" y="326.50">10</text>
<text x="253.7" y="411.00">8</text>
<text x="253.7" y="495.50">6</text>
</g>
<path d="M242.90 292.30h13.00v4.40h-13.00z M247.20 288.00h4.40v13.00h-4.40z" fill="#000"/>
<text x="37.30" y="66.50" font-size="25.0" xml:space="preserve"> 85GHz PCT (K)</text>
<text x="438.4" y="522.8" font-size="30">(d)</text>
<rect x="495.20" y="531.52" width="8.70" height="8.77" fill="#f5f5f5"/>
<rect x="495.20" y="523.06" width="8.70" height="8.77" fill="#eeeeee"/>
<rect x="495.20" y="514.59" width="8.70" height="8.77" fill="#e7e7e7"/>
<rect x="495.20" y="506.13" width="8.70" height="8.77" fill="#e0e0e0"/>
<rect x="495.20" y="497.66" width="8.70" height="8.77" fill="#d9d9d9"/>
<rect x="495.20" y="489.20" width="8.70" height="8.77" fill="#d2d2d2"/>
<rect x="495.20" y="480.73" width="8.70" height="8.77" fill="#cbcbcb"/>
<rect x="495.20" y="472.27" width="8.70" height="8.77" fill="#c4c4c4"/>
<rect x="495.20" y="463.80" width="8.70" height="8.77" fill="#bcbcbc"/>
<rect x="495.20" y="455.34" width="8.70" height="8.77" fill="#b5b5b5"/>
<rect x="495.20" y="446.87" width="8.70" height="8.77" fill="#adadad"/>
<rect x="495.20" y="438.41" width="8.70" height="8.77" fill="#a5a5a5"/>
<rect x="495.20" y="429.94" width="8.70" height="8.77" fill="#9e9e9e"/>
<rect x="495.20" y="421.48" width="8.70" height="8.77" fill="#969696"/>
<rect x="495.20" y="413.01" width="8.70" height="8.77" fill="#80e480"/>
<rect x="495.20" y="404.55" width="8.70" height="8.77" fill="#7ada7a"/>
<rect x="495.20" y="396.08" width="8.70" height="8.77" fill="#74d074"/>
<rect x="495.20" y="387.62" width="8.70" height="8.77" fill="#6ec66e"/>
<rect x="495.20" y="379.15" width="8.70" height="8.77" fill="#68bc68"/>
<rect x="495.20" y="370.69" width="8.70" height="8.77" fill="#d0d8ff"/>
<rect x="495.20" y="362.22" width="8.70" height="8.77" fill="#b7cdff"/>
<rect x="495.20" y="353.76" width="8.70" height="8.77" fill="#9ec2ff"/>
<rect x="495.20" y="345.29" width="8.70" height="8.77" fill="#82b8ff"/>
<rect x="495.20" y="336.83" width="8.70" height="8.77" fill="#64b0ff"/>
<rect x="495.20" y="328.36" width="8.70" height="8.77" fill="#4ea2ff"/>
<rect x="495.20" y="319.90" width="8.70" height="8.77" fill="#4789ff"/>
<rect x="495.20" y="311.43" width="8.70" height="8.77" fill="#4070ff"/>
<rect x="495.20" y="302.97" width="8.70" height="8.77" fill="#3955ff"/>
<rect x="495.20" y="294.50" width="8.70" height="8.77" fill="#3239ff"/>
<rect x="495.20" y="286.04" width="8.70" height="8.77" fill="#2222ff"/>
<rect x="495.20" y="277.57" width="8.70" height="8.77" fill="#0e0eff"/>
<rect x="495.20" y="269.11" width="8.70" height="8.77" fill="#0000f7"/>
<rect x="495.20" y="260.64" width="8.70" height="8.77" fill="#0000e0"/>
<rect x="495.20" y="252.18" width="8.70" height="8.77" fill="#0000c8"/>
<rect x="495.20" y="243.71" width="8.70" height="8.77" fill="#ffff00"/>
<rect x="495.20" y="235.25" width="8.70" height="8.77" fill="#fff400"/>
<rect x="495.20" y="226.78" width="8.70" height="8.77" fill="#ffe800"/>
<rect x="495.20" y="218.31" width="8.70" height="8.77" fill="#ffdd00"/>
<rect x="495.20" y="209.85" width="8.70" height="8.77" fill="#ffd200"/>
<rect x="495.20" y="201.38" width="8.70" height="8.77" fill="#ff9600"/>
<rect x="495.20" y="192.92" width="8.70" height="8.77" fill="#ff8e00"/>
<rect x="495.20" y="184.46" width="8.70" height="8.77" fill="#ff8700"/>
<rect x="495.20" y="175.99" width="8.70" height="8.77" fill="#ff8000"/>
<rect x="495.20" y="167.53" width="8.70" height="8.77" fill="#ff7800"/>
<rect x="495.20" y="159.06" width="8.70" height="8.77" fill="#ff3c00"/>
<rect x="495.20" y="150.60" width="8.70" height="8.77" fill="#ff3300"/>
<rect x="495.20" y="142.13" width="8.70" height="8.77" fill="#ff2a00"/>
<rect x="495.20" y="133.67" width="8.70" height="8.77" fill="#ff2100"/>
<rect x="495.20" y="125.20" width="8.70" height="8.77" fill="#ff1800"/>
<rect x="495.20" y="116.74" width="8.70" height="8.77" fill="#c80000"/>
<rect x="495.20" y="108.27" width="8.70" height="8.77" fill="#be0200"/>
<rect x="495.20" y="99.81" width="8.70" height="8.77" fill="#b40500"/>
<rect x="495.20" y="91.34" width="8.70" height="8.77" fill="#aa0800"/>
<rect x="495.20" y="82.88" width="8.70" height="8.77" fill="#a00a00"/>
<rect x="495.20" y="74.41" width="8.70" height="8.77" fill="#601008"/>
<rect x="495.20" y="65.95" width="8.70" height="8.77" fill="#5e120c"/>
<rect x="495.20" y="57.48" width="8.70" height="8.77" fill="#5d1410"/>
<rect x="495.20" y="49.02" width="8.70" height="8.77" fill="#5c1614"/>
<rect x="495.20" y="40.55" width="8.70" height="8.77" fill="#5a1818"/>
<rect x="503.90" y="547.90" width="2.3" height="1.0" fill="#333"/>
<text x="524.25" y="556.90" font-size="20.00" text-anchor="middle">300</text>
<rect x="503.90" y="497.11" width="2.3" height="1.0" fill="#333"/>
<text x="524.25" y="506.11" font-size="20.00" text-anchor="middle">279</text>
<rect x="503.90" y="446.32" width="2.3" height="1.0" fill="#333"/>
<text x="524.25" y="455.32" font-size="20.00" text-anchor="middle">258</text>
<rect x="503.90" y="395.53" width="2.3" height="1.0" fill="#333"/>
<text x="524.25" y="404.53" font-size="20.00" text-anchor="middle">237</text>
<rect x="503.90" y="344.74" width="2.3" height="1.0" fill="#333"/>
<text x="524.25" y="353.74" font-size="20.00" text-anchor="middle">216</text>
<rect x="503.90" y="293.95" width="2.3" height="1.0" fill="#333"/>
<text x="524.25" y="302.95" font-size="20.00" text-anchor="middle">195</text>
<rect x="503.90" y="243.16" width="2.3" height="1.0" fill="#333"/>
<text x="524.25" y="252.16" font-size="20.00" text-anchor="middle">174</text>
<rect x="503.90" y="192.37" width="2.3" height="1.0" fill="#333"/>
<text x="524.25" y="201.37" font-size="20.00" text-anchor="middle">153</text>
<rect x="503.90" y="141.58" width="2.3" height="1.0" fill="#333"/>
<text x="524.25" y="150.58" font-size="20.00" text-anchor="middle">132</text>
<rect x="503.90" y="90.79" width="2.3" height="1.0" fill="#333"/>
<text x="524.25" y="99.79" font-size="20.00" text-anchor="middle">111</text>
</g>
<g transform="translate(590.50 590.45)"><!-- panel e -->
<defs><filter id="be" x="-20%" y="-20%" width="140%" height="140%"><feGaussianBlur stdDeviation="7"/></filter><clipPath id="ce"><path d="M12.4 548.4L75.9 496.0L154.3 432.5L233.4 367.5L312.3 305.1L391.1 242.0L469.5 181.1L486.0 169.0L486.0 548.4Z"/></clipPath></defs>
<path d="M12.4 548.4L75.9 496.0L154.3 432.5L233.4 367.5L312.3 305.1L391.1 242.0L469.5 181.1L486.0 169.0L486.0 548.4Z" fill="#7cdc83" />
<g clip-path="url(#ce)">
<g filter="url(#be)" fill="#72d079" opacity="0.85">
<ellipse cx="195" cy="500" rx="40" ry="14" transform="rotate(-35 195 500)"/>
<ellipse cx="330" cy="505" rx="45" ry="16" transform="rotate(-35 330 505)"/>
<ellipse cx="250" cy="470" rx="30" ry="10" transform="rotate(-35 250 470)"/>
<ellipse cx="390" cy="330" rx="40" ry="14" transform="rotate(-35 390 330)"/>
<ellipse cx="330" cy="310" rx="30" ry="10" transform="rotate(-35 330 310)"/>
<ellipse cx="420" cy="250" rx="30" ry="12" transform="rotate(-35 420 250)"/>
<ellipse cx="300" cy="390" rx="40" ry="10" transform="rotate(-35 300 390)"/>
<ellipse cx="430" cy="440" rx="30" ry="25" transform="rotate(-35 430 440)"/>
<ellipse cx="360" cy="470" rx="25" ry="18" transform="rotate(-35 360 470)"/>
<ellipse cx="110" cy="530" rx="40" ry="8" transform="rotate(-35 110 530)"/>
<ellipse cx="460" cy="330" rx="18" ry="30" transform="rotate(-35 460 330)"/>
<ellipse cx="240" cy="425" rx="25" ry="8" transform="rotate(-35 240 425)"/>
</g>
<g filter="url(#be)" fill="#86e58c" opacity="0.8">
<ellipse cx="280" cy="440" rx="30" ry="10" transform="rotate(-35 280 440)"/>
<ellipse cx="390" cy="400" rx="30" ry="12" transform="rotate(-35 390 400)"/>
<ellipse cx="200" cy="540" rx="40" ry="6" transform="rotate(-35 200 540)"/>
<ellipse cx="440" cy="520" rx="30" ry="14" transform="rotate(-35 440 520)"/>
<ellipse cx="350" cy="360" rx="25" ry="8" transform="rotate(-35 350 360)"/>
<ellipse cx="455" cy="215" rx="16" ry="18" transform="rotate(-35 455 215)"/>
</g>
<path d="M51.9 509.1L246.7 351.6L253.4 360.9L250.9 364.3L246.7 367.2L238.2 370.5L234.8 378.7L228.0 385.5L227.2 397.3L219.6 400.7L212.8 404.1L209.4 415.9L200.9 417.6L192.5 421.0L185.7 427.8L185.7 438.0L189.1 444.7L199.2 446.4L209.4 449.8L219.6 454.9L212.8 460.0L216.2 465.1L206.0 465.1L200.9 470.2L192.5 471.9L184.0 470.2L175.5 475.2L165.4 475.2L156.9 478.6L150.1 476.9L141.6 480.3L134.9 487.1L131.5 493.9L128.1 500.6L119.6 505.7L111.1 509.1L101.0 509.1L90.8 507.4L82.3 505.7L77.3 510.8L67.1 513.4Z" fill="#9a9a9a" />
<rect x="145.5" y="447.0" width="16.0" height="4.0" fill="#7cdc83" transform="rotate(-38 153.5 449.0)"/>
<rect x="139.3" y="449.9" width="8.0" height="4.0" fill="#7cdc83" transform="rotate(-38 143.3 451.9)"/>
<rect x="173.9" y="432.4" width="10.0" height="6.0" fill="#7cdc83" transform="rotate(-38 178.9 435.4)"/>
<rect x="173.2" y="439.4" width="8.0" height="4.0" fill="#7cdc83" transform="rotate(-38 177.2 441.4)"/>
<rect x="128.6" y="465.9" width="16.0" height="3.5" fill="#7cdc83" transform="rotate(-38 136.6 467.6)"/>
<rect x="123.4" y="463.1" width="6.0" height="4.0" fill="#7cdc83" transform="rotate(-38 126.4 465.1)"/>
<rect x="108.1" y="487.9" width="6.0" height="3.5" fill="#7cdc83" transform="rotate(-38 111.1 489.6)"/>
<rect x="101.4" y="480.3" width="6.0" height="3.5" fill="#7cdc83" transform="rotate(-38 104.4 482.0)"/>
<rect x="116.1" y="476.9" width="7.0" height="3.5" fill="#7cdc83" transform="rotate(-38 119.6 478.6)"/>
<rect x="103.8" y="497.2" width="8.0" height="3.5" fill="#7cdc83" transform="rotate(-38 107.8 499.0)"/>
<rect x="86.1" y="488.7" width="6.0" height="3.5" fill="#7cdc83" transform="rotate(-38 89.1 490.5)"/>
<rect x="114.9" y="494.7" width="6.0" height="3.5" fill="#7cdc83" transform="rotate(-38 117.9 496.4)"/>
<rect x="212.3" y="394.5" width="6.0" height="4.0" fill="#7cdc83" transform="rotate(-38 215.3 396.5)"/>
<rect x="218.3" y="387.1" width="6.0" height="3.5" fill="#7cdc83" transform="rotate(-38 221.3 388.8)"/>
<rect x="194.2" y="449.8" width="10.0" height="3.5" fill="#7cdc83" transform="rotate(-38 199.2 451.5)"/>
<rect x="188.6" y="447.2" width="6.0" height="3.5" fill="#7cdc83" transform="rotate(-38 191.6 449.0)"/>
<rect x="201.3" y="464.2" width="6.0" height="3.5" fill="#7cdc83" transform="rotate(-38 204.3 465.9)"/>
<rect x="128.0" y="480.3" width="7.0" height="3.5" fill="#7cdc83" transform="rotate(-38 131.5 482.0)"/>
<rect x="97.0" y="502.3" width="8.0" height="3.5" fill="#7cdc83" transform="rotate(-38 101.0 504.0)"/>
<rect x="228.7" y="419.2" width="5.5" height="3.6" fill="#9a9a9a" transform="rotate(-38 231.4 421.0)"/>
<rect x="235.4" y="428.5" width="5.5" height="3.6" fill="#9a9a9a" transform="rotate(-38 238.2 430.3)"/>
<rect x="259.2" y="424.3" width="5.5" height="3.6" fill="#9a9a9a" transform="rotate(-38 261.9 426.1)"/>
<rect x="249.0" y="432.8" width="5.5" height="3.6" fill="#9a9a9a" transform="rotate(-38 251.7 434.6)"/>
<rect x="223.6" y="433.6" width="5.5" height="3.6" fill="#9a9a9a" transform="rotate(-38 226.3 435.4)"/>
<rect x="215.1" y="435.3" width="5.5" height="3.6" fill="#9a9a9a" transform="rotate(-38 217.9 437.1)"/>
<rect x="208.3" y="437.5" width="5.5" height="3.6" fill="#9a9a9a" transform="rotate(-38 211.1 439.3)"/>
<rect x="201.6" y="439.6" width="5.5" height="3.6" fill="#9a9a9a" transform="rotate(-38 204.3 441.4)"/>
<rect x="252.4" y="439.2" width="5.5" height="3.6" fill="#9a9a9a" transform="rotate(-38 255.1 441.0)"/>
<rect x="222.7" y="440.9" width="5.5" height="3.6" fill="#9a9a9a" transform="rotate(-38 225.5 442.7)"/>
<rect x="230.4" y="448.4" width="5.5" height="3.6" fill="#9a9a9a" transform="rotate(-38 233.1 450.2)"/>
<rect x="227.0" y="455.7" width="5.5" height="3.6" fill="#9a9a9a" transform="rotate(-38 229.7 457.5)"/>
<rect x="215.1" y="473.4" width="5.5" height="3.6" fill="#9a9a9a" transform="rotate(-38 217.9 475.2)"/>
<rect x="227.0" y="479.4" width="5.5" height="3.6" fill="#9a9a9a" transform="rotate(-38 229.7 481.2)"/>
<rect x="203.3" y="477.7" width="5.5" height="3.6" fill="#9a9a9a" transform="rotate(-38 206.0 479.5)"/>
<rect x="196.5" y="484.4" width="5.5" height="3.6" fill="#9a9a9a" transform="rotate(-38 199.2 486.2)"/>
<rect x="182.9" y="477.7" width="5.5" height="3.6" fill="#9a9a9a" transform="rotate(-38 185.7 479.5)"/>
<rect x="174.5" y="476.0" width="5.5" height="3.6" fill="#9a9a9a" transform="rotate(-38 177.2 477.8)"/>
<rect x="149.1" y="481.1" width="5.5" height="3.6" fill="#9a9a9a" transform="rotate(-38 151.8 482.9)"/>
<rect x="138.9" y="487.0" width="5.5" height="3.6" fill="#9a9a9a" transform="rotate(-38 141.6 488.8)"/>
<rect x="131.3" y="503.9" width="5.5" height="3.6" fill="#9a9a9a" transform="rotate(-38 134.0 505.7)"/>
<rect x="108.4" y="517.5" width="5.5" height="3.6" fill="#9a9a9a" transform="rotate(-38 111.1 519.3)"/>
<rect x="99.1" y="512.4" width="5.5" height="3.6" fill="#9a9a9a" transform="rotate(-38 101.8 514.2)"/>
<rect x="86.4" y="520.9" width="5.5" height="3.6" fill="#9a9a9a" transform="rotate(-38 89.1 522.7)"/>
<rect x="76.2" y="524.3" width="5.5" height="3.6" fill="#9a9a9a" transform="rotate(-38 79.0 526.1)"/>
<rect x="64.3" y="520.0" width="5.5" height="3.6" fill="#9a9a9a" transform="rotate(-38 67.1 521.8)"/>
<rect x="55.9" y="510.7" width="5.5" height="3.6" fill="#9a9a9a" transform="rotate(-38 58.6 512.5)"/>
<rect x="52.5" y="518.3" width="5.5" height="3.6" fill="#9a9a9a" transform="rotate(-38 55.2 520.1)"/>
<rect x="42.3" y="530.2" width="5.5" height="3.6" fill="#9a9a9a" transform="rotate(-38 45.1 532.0)"/>
<rect x="268.5" y="500.9" width="5.5" height="3.6" fill="#9a9a9a" transform="rotate(-38 271.2 502.7)"/>
<rect x="255.8" y="359.1" width="5.5" height="3.6" fill="#9a9a9a" transform="rotate(-38 258.5 360.9)"/>
<rect x="235.4" y="376.9" width="5.5" height="3.6" fill="#9a9a9a" transform="rotate(-38 238.2 378.7)"/>
<rect x="233.8" y="386.2" width="5.5" height="3.6" fill="#9a9a9a" transform="rotate(-38 236.5 388.0)"/>
<rect x="27.1" y="544.6" width="5.5" height="3.6" fill="#9a9a9a" transform="rotate(-38 29.8 546.4)"/>
<rect x="247.3" y="451.2" width="5.5" height="4.0" fill="#d2d9ff" transform="rotate(-38 250.1 453.2)"/>
<rect x="257.5" y="457.1" width="5.5" height="4.0" fill="#d2d9ff" transform="rotate(-38 260.2 459.1)"/>
<rect x="254.9" y="463.1" width="5.5" height="4.0" fill="#d2d9ff" transform="rotate(-38 257.7 465.1)"/>
<rect x="249.0" y="473.2" width="5.5" height="4.0" fill="#d2d9ff" transform="rotate(-38 251.7 475.2)"/>
<rect x="277.8" y="478.3" width="5.5" height="4.0" fill="#d2d9ff" transform="rotate(-38 280.5 480.3)"/>
<rect x="277.5" y="483.4" width="5.5" height="4.0" fill="#d2d9ff" transform="rotate(-38 280.2 485.4)"/>
<rect x="295.6" y="503.7" width="5.5" height="4.0" fill="#d2d9ff" transform="rotate(-38 298.3 505.7)"/>
<rect x="293.0" y="515.6" width="5.5" height="4.0" fill="#d2d9ff" transform="rotate(-38 295.8 517.6)"/>
<rect x="284.6" y="527.8" width="5.5" height="4.0" fill="#d2d9ff" transform="rotate(-38 287.3 529.8)"/>
<rect x="254.1" y="542.2" width="5.5" height="4.0" fill="#d2d9ff" transform="rotate(-38 256.8 544.2)"/>
<rect x="304.9" y="534.6" width="5.5" height="4.0" fill="#d2d9ff" transform="rotate(-38 307.7 536.6)"/>
<rect x="105.0" y="541.3" width="5.5" height="4.0" fill="#d2d9ff" transform="rotate(-38 107.8 543.3)"/>
<rect x="107.3" y="533.4" width="6.0" height="4.0" fill="#a9c6ff" transform="rotate(-38 110.3 535.4)"/>
<rect x="115.8" y="536.8" width="6.0" height="4.0" fill="#a9c6ff" transform="rotate(-38 118.8 538.8)"/>
<rect x="382.9" y="360.9" width="5.5" height="4.0" fill="#d2d9ff" transform="rotate(-38 385.6 362.9)"/>
<rect x="316.9" y="387.1" width="5.5" height="4.0" fill="#d2d9ff" transform="rotate(-38 319.7 389.1)"/>
<rect x="336.6" y="390.1" width="5.5" height="4.0" fill="#d2d9ff" transform="rotate(-38 339.3 392.1)"/>
<rect x="369.5" y="421.3" width="5.5" height="4.0" fill="#d2d9ff" transform="rotate(-38 372.2 423.3)"/>
<rect x="332.0" y="444.2" width="5.5" height="4.0" fill="#d2d9ff" transform="rotate(-38 334.7 446.2)"/>
<rect x="330.8" y="450.0" width="5.5" height="4.0" fill="#d2d9ff" transform="rotate(-38 333.6 452.0)"/>
<rect x="363.7" y="443.8" width="5.5" height="4.0" fill="#d2d9ff" transform="rotate(-38 366.4 445.8)"/>
<rect x="278.0" y="478.0" width="5.5" height="4.0" fill="#d2d9ff" transform="rotate(-38 280.8 480.0)"/>
<rect x="277.1" y="483.6" width="5.5" height="4.0" fill="#d2d9ff" transform="rotate(-38 279.9 485.6)"/>
<rect x="295.6" y="503.3" width="5.5" height="4.0" fill="#d2d9ff" transform="rotate(-38 298.4 505.3)"/>
<rect x="293.1" y="515.5" width="5.5" height="4.0" fill="#d2d9ff" transform="rotate(-38 295.8 517.5)"/>
<rect x="284.1" y="527.6" width="5.5" height="4.0" fill="#d2d9ff" transform="rotate(-38 286.8 529.6)"/>
<rect x="305.3" y="535.2" width="5.5" height="4.0" fill="#d2d9ff" transform="rotate(-38 308.1 537.2)"/>
<rect x="257.2" y="457.7" width="5.5" height="4.0" fill="#d2d9ff" transform="rotate(-38 260.0 459.7)"/>
<rect x="448.8" y="217.0" width="5.5" height="4.0" fill="#d2d9ff" transform="rotate(-38 451.6 219.0)"/>
<rect x="402.1" y="264.9" width="5.5" height="3.6" fill="#9a9a9a" transform="rotate(-38 404.8 266.7)"/>
<rect x="461.6" y="304.2" width="5.5" height="3.6" fill="#9a9a9a" transform="rotate(-38 464.3 306.0)"/>
<rect x="474.3" y="308.1" width="5.5" height="3.6" fill="#9a9a9a" transform="rotate(-38 477.0 309.9)"/>
<rect x="479.6" y="318.5" width="5.5" height="3.6" fill="#9a9a9a" transform="rotate(-38 482.4 320.3)"/>
<rect x="477.8" y="329.4" width="5.5" height="3.6" fill="#9a9a9a" transform="rotate(-38 480.5 331.2)"/>
<rect x="431.5" y="424.8" width="5.5" height="3.6" fill="#9a9a9a" transform="rotate(-38 434.2 426.6)"/>
<rect x="336.6" y="436.1" width="5.5" height="3.6" fill="#9a9a9a" transform="rotate(-38 339.3 437.9)"/>
<rect x="259.1" y="424.3" width="5.5" height="3.6" fill="#9a9a9a" transform="rotate(-38 261.8 426.1)"/>
<rect x="455.8" y="472.9" width="5.5" height="3.6" fill="#9a9a9a" transform="rotate(-38 458.5 474.7)"/>
<rect x="459.9" y="492.6" width="5.5" height="3.6" fill="#9a9a9a" transform="rotate(-38 462.7 494.4)"/>
<rect x="431.5" y="501.1" width="5.5" height="3.6" fill="#9a9a9a" transform="rotate(-38 434.2 502.9)"/>
<rect x="267.9" y="501.1" width="5.5" height="3.6" fill="#9a9a9a" transform="rotate(-38 270.6 502.9)"/>
<rect x="482.4" y="438.2" width="5.5" height="3.6" fill="#9a9a9a" transform="rotate(-38 485.1 440.0)"/>
<rect x="475.4" y="497.2" width="5.5" height="3.6" fill="#9a9a9a" transform="rotate(-38 478.2 499.0)"/>
<rect x="473.1" y="508.8" width="5.5" height="3.6" fill="#9a9a9a" transform="rotate(-38 475.9 510.6)"/>
<rect x="472.0" y="518.0" width="5.5" height="3.6" fill="#9a9a9a" transform="rotate(-38 474.7 519.8)"/>
<rect x="471.5" y="530.8" width="5.5" height="3.6" fill="#9a9a9a" transform="rotate(-38 474.3 532.6)"/>
<rect x="478.9" y="528.4" width="5.5" height="3.6" fill="#9a9a9a" transform="rotate(-38 481.7 530.2)"/>
<rect x="470.8" y="540.0" width="5.5" height="3.6" fill="#9a9a9a" transform="rotate(-38 473.6 541.8)"/>
<rect x="480.8" y="209.8" width="5.5" height="3.6" fill="#9a9a9a" transform="rotate(-38 483.5 211.6)"/>
<rect x="469.7" y="218.6" width="5.5" height="3.6" fill="#9a9a9a" transform="rotate(-38 472.4 220.4)"/>
<rect x="476.6" y="503.0" width="5.5" height="3.6" fill="#9a9a9a" transform="rotate(-38 479.4 504.8)"/>
<path d="M455.1 192.4L463.2 184.3L471.3 177.3L477.0 179.2L481.7 175.0L485.6 172.7L485.6 206.2L479.4 205.1L474.7 201.6L467.8 204.6L463.2 199.3L465.5 193.5L458.5 193.1Z" fill="#c9d6ff" />
<path d="M470.1 197.0L475.9 191.2L481.7 186.6L485.6 184.3L485.6 199.3L479.4 200.9L473.6 199.3Z" fill="#7db4ff" />
<path d="M477.0 194.7L481.7 190.7L485.6 190.0L485.6 195.8L480.5 197.0Z" fill="#3f7dff" />
</g>
<g stroke="#000" fill="none" stroke-width="1.15" stroke-dasharray="3.0 5.265">
<path d="M76.10 41.10V548.80"/>
<path d="M154.80 41.10V548.80"/>
<path d="M233.60 41.10V548.80"/>
<path d="M312.30 41.10V548.80"/>
<path d="M391.05 41.10V548.80"/>
<path d="M469.80 41.10V548.80"/>
<path d="M12.90 73.20H486.10"/>
<path d="M12.90 157.70H486.10"/>
<path d="M12.90 242.20H486.10"/>
<path d="M12.90 326.80H486.10"/>
<path d="M12.90 411.30H486.10"/>
<path d="M12.90 495.80H486.10"/>
</g>
<g stroke="#111" stroke-width="1.1" stroke-dasharray="11.6 11.94" fill="none">
<path d="M190.8 548.5Q335.8 427.5 486.1 313.1"/>
<path d="M334.5 548.5Q409.6 487.2 486.1 427.7"/>
</g>
<g font-size="12.3" text-anchor="middle">
<text x="75.70" y="306.0">-42</text>
<text x="154.40" y="306.0">-40</text>
<text x="233.20" y="306.0">-38</text>
<text x="311.90" y="306.0">-36</text>
<text x="390.65" y="306.0">-34</text>
<text x="469.40" y="306.0">-32</text>
<text x="253.7" y="72.90">16</text>
<text x="253.7" y="157.40">14</text>
<text x="253.7" y="241.90">12</text>
<text x="253.7" y="326.50">10</text>
<text x="253.7" y="411.00">8</text>
<text x="253.7" y="495.50">6</text>
</g>
<path d="M242.90 292.30h13.00v4.40h-13.00z M247.20 288.00h4.40v13.00h-4.40z" fill="#000"/>
<text x="37.30" y="66.50" font-size="25.0" xml:space="preserve"> 37GHz PCT (K)</text>
<text x="438.4" y="522.8" font-size="30">(e)</text>
<rect x="495.20" y="531.52" width="8.70" height="8.77" fill="#f5f5f5"/>
<rect x="495.20" y="523.06" width="8.70" height="8.77" fill="#eeeeee"/>
<rect x="495.20" y="514.59" width="8.70" height="8.77" fill="#e7e7e7"/>
<rect x="495.20" y="506.13" width="8.70" height="8.77" fill="#e0e0e0"/>
<rect x="495.20" y="497.66" width="8.70" height="8.77" fill="#d9d9d9"/>
<rect x="495.20" y="489.20" width="8.70" height="8.77" fill="#d2d2d2"/>
<rect x="495.20" y="480.73" width="8.70" height="8.77" fill="#cbcbcb"/>
<rect x="495.20" y="472.27" width="8.70" height="8.77" fill="#c4c4c4"/>
<rect x="495.20" y="463.80" width="8.70" height="8.77" fill="#bcbcbc"/>
<rect x="495.20" y="455.34" width="8.70" height="8.77" fill="#b5b5b5"/>
<rect x="495.20" y="446.87" width="8.70" height="8.77" fill="#adadad"/>
<rect x="495.20" y="438.41" width="8.70" height="8.77" fill="#a5a5a5"/>
<rect x="495.20" y="429.94" width="8.70" height="8.77" fill="#9e9e9e"/>
<rect x="495.20" y="421.48" width="8.70" height="8.77" fill="#969696"/>
<rect x="495.20" y="413.01" width="8.70" height="8.77" fill="#80e480"/>
<rect x="495.20" y="404.55" width="8.70" height="8.77" fill="#7ada7a"/>
<rect x="495.20" y="396.08" width="8.70" height="8.77" fill="#74d074"/>
<rect x="495.20" y="387.62" width="8.70" height="8.77" fill="#6ec66e"/>
<rect x="495.20" y="379.15" width="8.70" height="8.77" fill="#68bc68"/>
<rect x="495.20" y="370.69" width="8.70" height="8.77" fill="#d0d8ff"/>
<rect x="495.20" y="362.22" width="8.70" height="8.77" fill="#b7cdff"/>
<rect x="495.20" y="353.76" width="8.70" height="8.77" fill="#9ec2ff"/>
<rect x="495.20" y="345.29" width="8.70" height="8.77" fill="#82b8ff"/>
<rect x="495.20" y="336.83" width="8.70" height="8.77" fill="#64b0ff"/>
<rect x="495.20" y="328.36" width="8.70" height="8.77" fill="#4ea2ff"/>
<rect x="495.20" y="319.90" width="8.70" height="8.77" fill="#4789ff"/>
<rect x="495.20" y="311.43" width="8.70" height="8.77" fill="#4070ff"/>
<rect x="495.20" y="302.97" width="8.70" height="8.77" fill="#3955ff"/>
<rect x="495.20" y="294.50" width="8.70" height="8.77" fill="#3239ff"/>
<rect x="495.20" y="286.04" width="8.70" height="8.77" fill="#2222ff"/>
<rect x="495.20" y="277.57" width="8.70" height="8.77" fill="#0e0eff"/>
<rect x="495.20" y="269.11" width="8.70" height="8.77" fill="#0000f7"/>
<rect x="495.20" y="260.64" width="8.70" height="8.77" fill="#0000e0"/>
<rect x="495.20" y="252.18" width="8.70" height="8.77" fill="#0000c8"/>
<rect x="495.20" y="243.71" width="8.70" height="8.77" fill="#ffff00"/>
<rect x="495.20" y="235.25" width="8.70" height="8.77" fill="#fff400"/>
<rect x="495.20" y="226.78" width="8.70" height="8.77" fill="#ffe800"/>
<rect x="495.20" y="218.31" width="8.70" height="8.77" fill="#ffdd00"/>
<rect x="495.20" y="209.85" width="8.70" height="8.77" fill="#ffd200"/>
<rect x="495.20" y="201.38" width="8.70" height="8.77" fill="#ff9600"/>
<rect x="495.20" y="192.92" width="8.70" height="8.77" fill="#ff8e00"/>
<rect x="495.20" y="184.46" width="8.70" height="8.77" fill="#ff8700"/>
<rect x="495.20" y="175.99" width="8.70" height="8.77" fill="#ff8000"/>
<rect x="495.20" y="167.53" width="8.70" height="8.77" fill="#ff7800"/>
<rect x="495.20" y="159.06" width="8.70" height="8.77" fill="#ff3c00"/>
<rect x="495.20" y="150.60" width="8.70" height="8.77" fill="#ff3300"/>
<rect x="495.20" y="142.13" width="8.70" height="8.77" fill="#ff2a00"/>
<rect x="495.20" y="133.67" width="8.70" height="8.77" fill="#ff2100"/>
<rect x="495.20" y="125.20" width="8.70" height="8.77" fill="#ff1800"/>
<rect x="495.20" y="116.74" width="8.70" height="8.77" fill="#c80000"/>
<rect x="495.20" y="108.27" width="8.70" height="8.77" fill="#be0200"/>
<rect x="495.20" y="99.81" width="8.70" height="8.77" fill="#b40500"/>
<rect x="495.20" y="91.34" width="8.70" height="8.77" fill="#aa0800"/>
<rect x="495.20" y="82.88" width="8.70" height="8.77" fill="#a00a00"/>
<rect x="495.20" y="74.41" width="8.70" height="8.77" fill="#601008"/>
<rect x="495.20" y="65.95" width="8.70" height="8.77" fill="#5e120c"/>
<rect x="495.20" y="57.48" width="8.70" height="8.77" fill="#5d1410"/>
<rect x="495.20" y="49.02" width="8.70" height="8.77" fill="#5c1614"/>
<rect x="495.20" y="40.55" width="8.70" height="8.77" fill="#5a1818"/>
<rect x="503.90" y="547.90" width="2.3" height="1.0" fill="#333"/>
<text x="524.25" y="556.90" font-size="20.00" text-anchor="middle">315</text>
<rect x="503.90" y="497.11" width="2.3" height="1.0" fill="#333"/>
<text x="524.25" y="506.11" font-size="20.00" text-anchor="middle">306</text>
<rect x="503.90" y="446.32" width="2.3" height="1.0" fill="#333"/>
<text x="524.25" y="455.32" font-size="20.00" text-anchor="middle">297</text>
<rect x="503.90" y="395.53" width="2.3" height="1.0" fill="#333"/>
<text x="524.25" y="404.53" font-size="20.00" text-anchor="middle">288</text>
<rect x="503.90" y="344.74" width="2.3" height="1.0" fill="#333"/>
<text x="524.25" y="353.74" font-size="20.00" text-anchor="middle">279</text>
<rect x="503.90" y="293.95" width="2.3" height="1.0" fill="#333"/>
<text x="524.25" y="302.95" font-size="20.00" text-anchor="middle">270</text>
<rect x="503.90" y="243.16" width="2.3" height="1.0" fill="#333"/>
<text x="524.25" y="252.16" font-size="20.00" text-anchor="middle">261</text>
<rect x="503.90" y="192.37" width="2.3" height="1.0" fill="#333"/>
<text x="524.25" y="201.37" font-size="20.00" text-anchor="middle">252</text>
<rect x="503.90" y="141.58" width="2.3" height="1.0" fill="#333"/>
<text x="524.25" y="150.58" font-size="20.00" text-anchor="middle">243</text>
<rect x="503.90" y="90.79" width="2.3" height="1.0" fill="#333"/>
<text x="524.25" y="99.79" font-size="20.00" text-anchor="middle">234</text>
</g>
<g transform="translate(1181.00 590.45)"><!-- panel f -->
<path d="M220.3 407.9L225.4 403.5L229.8 402.0L232.8 403.5L232.0 406.4L235.7 407.2L234.2 410.8L229.8 413.0L224.7 415.2L219.6 414.5L221.0 410.8Z" fill="#8de58f" stroke="#8de58f" stroke-width="3.2" stroke-linejoin="round" opacity="0.85"/>
<path d="M262.1 434.3L263.6 437.3L261.4 442.4L266.5 446.8L265.1 450.5L263.6 454.9L264.3 459.3L260.7 463.0L257.7 467.4L254.8 471.8L253.3 476.2L248.9 477.6L250.4 472.5L253.3 466.6L256.3 460.8L258.5 454.9L257.7 451.9L251.9 454.1L247.5 451.2L251.9 447.5L257.7 445.3L259.2 440.2Z" fill="#8de58f" stroke="#8de58f" stroke-width="3.2" stroke-linejoin="round" opacity="0.85"/>
<path d="M240.8 471.8L242.3 474.0L239.4 479.8L235.7 482.0L233.5 479.8L237.2 476.2Z" fill="#8de58f" stroke="#8de58f" stroke-width="3.2" stroke-linejoin="round" opacity="0.85"/>
<path d="M282.0 474.0L284.9 476.9L283.4 482.0L281.2 486.4L279.8 483.5L281.2 479.1L280.5 476.2Z" fill="#8de58f" stroke="#8de58f" stroke-width="3.2" stroke-linejoin="round" opacity="0.85"/>
<path d="M282.7 436.5L287.1 433.2L288.3 434.6L285.3 438.0Z" fill="#8de58f" stroke="#8de58f" stroke-width="3.2" stroke-linejoin="round" opacity="0.85"/>
<path d="M203.4 514.3L207.1 513.6L209.3 517.3L206.4 520.9L204.1 518.7Z" fill="#8de58f" stroke="#8de58f" stroke-width="3.2" stroke-linejoin="round" opacity="0.85"/>
<path d="M254.1 512.1L260.7 511.8L265.8 517.3L262.1 523.1L259.2 526.1L257.7 522.4L260.7 518.0L256.3 515.8Z" fill="#8de58f" stroke="#8de58f" stroke-width="3.2" stroke-linejoin="round" opacity="0.85"/>
<path d="M152.8 513.6L156.4 512.1L159.4 513.9L157.2 519.5L155.0 522.4L153.2 519.5L155.0 516.5Z" fill="#8de58f" stroke="#8de58f" stroke-width="3.2" stroke-linejoin="round" opacity="0.85"/>
<path d="M133.0 531.2L139.6 528.3L146.2 530.5L143.2 534.2L137.4 536.4L134.4 534.2Z" fill="#8de58f" stroke="#8de58f" stroke-width="3.2" stroke-linejoin="round" opacity="0.85"/>
<path d="M448.4 220.3L452.1 215.6L459.2 215.0L455.1 221.1Z" fill="#8de58f" stroke="#8de58f" stroke-width="3.2" stroke-linejoin="round" opacity="0.85"/>
<path d="M385.4 356.4L388.0 352.2L390.1 354.4L387.4 358.9Z" fill="#8de58f" stroke="#8de58f" stroke-width="3.2" stroke-linejoin="round" opacity="0.85"/>
<path d="M380.9 369.0L386.0 363.9L388.0 368.0L395.2 368.0L393.1 374.1L390.1 381.2L387.0 389.3L384.0 395.4L377.9 397.5L379.9 390.4L379.3 383.2L381.9 376.1Z" fill="#8de58f" stroke="#8de58f" stroke-width="3.2" stroke-linejoin="round" opacity="0.85"/>
<path d="M323.0 371.5L327.1 370.6L328.1 374.1L325.0 379.2L321.0 386.3L316.9 393.4L310.8 399.5L308.8 395.4L312.9 390.4L316.9 384.3L322.0 379.2L324.0 375.1Z" fill="#8de58f" stroke="#8de58f" stroke-width="3.2" stroke-linejoin="round" opacity="0.85"/>
<path d="M338.3 392.4L341.3 387.7L344.3 390.4L341.9 395.0L338.7 395.8Z" fill="#8de58f" stroke="#8de58f" stroke-width="3.2" stroke-linejoin="round" opacity="0.85"/>
<path d="M363.7 404.6L366.7 403.2L372.8 409.7L368.7 413.3L365.1 408.6Z" fill="#8de58f" stroke="#8de58f" stroke-width="3.2" stroke-linejoin="round" opacity="0.85"/>
<path d="M372.8 416.8L377.9 420.8L381.9 425.9L377.9 431.0L375.8 435.7L372.8 432.0L376.5 426.3L374.8 421.9Z" fill="#8de58f" stroke="#8de58f" stroke-width="3.2" stroke-linejoin="round" opacity="0.85"/>
<path d="M314.9 454.0L320.0 446.2L327.1 438.1L331.1 443.2L342.7 440.1L339.3 447.3L334.2 452.3L327.1 451.3Z" fill="#8de58f" stroke="#8de58f" stroke-width="3.2" stroke-linejoin="round" opacity="0.85"/>
<path d="M283.0 436.1L287.4 432.6L289.5 434.5L285.4 438.1Z" fill="#8de58f" stroke="#8de58f" stroke-width="3.2" stroke-linejoin="round" opacity="0.85"/>
<path d="M220.3 407.9L225.4 403.5L229.8 402.0L232.8 403.5L232.0 406.4L235.7 407.2L234.2 410.8L229.8 413.0L224.7 415.2L219.6 414.5L221.0 410.8Z" fill="#8de58f" stroke="#000" stroke-width="1.35" stroke-linejoin="round" />
<path d="M262.1 434.3L263.6 437.3L261.4 442.4L266.5 446.8L265.1 450.5L263.6 454.9L264.3 459.3L260.7 463.0L257.7 467.4L254.8 471.8L253.3 476.2L248.9 477.6L250.4 472.5L253.3 466.6L256.3 460.8L258.5 454.9L257.7 451.9L251.9 454.1L247.5 451.2L251.9 447.5L257.7 445.3L259.2 440.2Z" fill="#8de58f" stroke="#000" stroke-width="1.35" stroke-linejoin="round" />
<path d="M240.8 471.8L242.3 474.0L239.4 479.8L235.7 482.0L233.5 479.8L237.2 476.2Z" fill="#8de58f" stroke="#000" stroke-width="1.35" stroke-linejoin="round" />
<path d="M282.0 474.0L284.9 476.9L283.4 482.0L281.2 486.4L279.8 483.5L281.2 479.1L280.5 476.2Z" fill="#8de58f" stroke="#000" stroke-width="1.35" stroke-linejoin="round" />
<path d="M282.7 436.5L287.1 433.2L288.3 434.6L285.3 438.0Z" fill="#8de58f" stroke="#000" stroke-width="1.35" stroke-linejoin="round" />
<path d="M203.4 514.3L207.1 513.6L209.3 517.3L206.4 520.9L204.1 518.7Z" fill="#8de58f" stroke="#000" stroke-width="1.35" stroke-linejoin="round" />
<path d="M254.1 512.1L260.7 511.8L265.8 517.3L262.1 523.1L259.2 526.1L257.7 522.4L260.7 518.0L256.3 515.8Z" fill="#8de58f" stroke="#000" stroke-width="1.35" stroke-linejoin="round" />
<path d="M152.8 513.6L156.4 512.1L159.4 513.9L157.2 519.5L155.0 522.4L153.2 519.5L155.0 516.5Z" fill="#8de58f" stroke="#000" stroke-width="1.35" stroke-linejoin="round" />
<path d="M133.0 531.2L139.6 528.3L146.2 530.5L143.2 534.2L137.4 536.4L134.4 534.2Z" fill="#8de58f" stroke="#000" stroke-width="1.35" stroke-linejoin="round" />
<path d="M448.4 220.3L452.1 215.6L459.2 215.0L455.1 221.1Z" fill="#8de58f" stroke="#000" stroke-width="1.35" stroke-linejoin="round" />
<path d="M385.4 356.4L388.0 352.2L390.1 354.4L387.4 358.9Z" fill="#8de58f" stroke="#000" stroke-width="1.35" stroke-linejoin="round" />
<path d="M380.9 369.0L386.0 363.9L388.0 368.0L395.2 368.0L393.1 374.1L390.1 381.2L387.0 389.3L384.0 395.4L377.9 397.5L379.9 390.4L379.3 383.2L381.9 376.1Z" fill="#8de58f" stroke="#000" stroke-width="1.35" stroke-linejoin="round" />
<path d="M323.0 371.5L327.1 370.6L328.1 374.1L325.0 379.2L321.0 386.3L316.9 393.4L310.8 399.5L308.8 395.4L312.9 390.4L316.9 384.3L322.0 379.2L324.0 375.1Z" fill="#8de58f" stroke="#000" stroke-width="1.35" stroke-linejoin="round" />
<path d="M338.3 392.4L341.3 387.7L344.3 390.4L341.9 395.0L338.7 395.8Z" fill="#8de58f" stroke="#000" stroke-width="1.35" stroke-linejoin="round" />
<path d="M363.7 404.6L366.7 403.2L372.8 409.7L368.7 413.3L365.1 408.6Z" fill="#8de58f" stroke="#000" stroke-width="1.35" stroke-linejoin="round" />
<path d="M372.8 416.8L377.9 420.8L381.9 425.9L377.9 431.0L375.8 435.7L372.8 432.0L376.5 426.3L374.8 421.9Z" fill="#8de58f" stroke="#000" stroke-width="1.35" stroke-linejoin="round" />
<path d="M314.9 454.0L320.0 446.2L327.1 438.1L331.1 443.2L342.7 440.1L339.3 447.3L334.2 452.3L327.1 451.3Z" fill="#8de58f" stroke="#000" stroke-width="1.35" stroke-linejoin="round" />
<path d="M283.0 436.1L287.4 432.6L289.5 434.5L285.4 438.1Z" fill="#8de58f" stroke="#000" stroke-width="1.35" stroke-linejoin="round" />
<clipPath id="cf"><rect x="12" y="41" width="474.1" height="507.4"/></clipPath><g clip-path="url(#cf)">
<path d="M113.9 548.5L113.9 545.9L116.8 542.2L122.7 543.7L128.5 541.5L134.4 539.3L135.2 536.4L136.6 540.0L138.8 542.2L135.9 548.5Z" fill="#8de58f" stroke="#8de58f" stroke-width="3.2" stroke-linejoin="round" opacity="0.85"/>
<path d="M113.9 548.5L113.9 545.9L116.8 542.2L122.7 543.7L128.5 541.5L134.4 539.3L135.2 536.4L136.6 540.0L138.8 542.2L135.9 548.5Z" fill="#8de58f"/>
<path d="M113.9 545.9L116.8 542.2L122.7 543.7L128.5 541.5L134.4 539.3L135.2 536.4L136.6 540.0L138.8 542.2" fill="none" stroke="#000" stroke-width="1.35" stroke-linejoin="round"/>
<path d="M190.9 548.5L199.0 541.5L204.1 548.5Z" fill="#8de58f" stroke="#8de58f" stroke-width="3.2" stroke-linejoin="round" opacity="0.85"/>
<path d="M190.9 548.5L199.0 541.5L204.1 548.5Z" fill="#8de58f"/>
<path d="M199.0 541.5L204.1 548.5" fill="none" stroke="#000" stroke-width="1.35" stroke-linejoin="round"/>
<path d="M142.5 544.4L148.4 540.0L151.3 538.6L150.6 543.0L152.8 544.4L149.1 542.2Z" fill="#8de58f" stroke="#000" stroke-width="1.35" stroke-linejoin="round" />
<path d="M451.0 198.3L454.1 193.2L462.2 189.2L470.3 182.1L478.5 177.0L486.2 172.9L486.2 204.4L478.5 204.0L470.3 205.4L465.3 206.4L464.2 200.4L465.3 193.2L462.2 191.2L457.1 193.2L454.1 197.3Z" fill="#8de58f" stroke="#8de58f" stroke-width="3.2" stroke-linejoin="round" opacity="0.85"/>
<path d="M451.0 198.3L454.1 193.2L462.2 189.2L470.3 182.1L478.5 177.0L486.2 172.9L486.2 204.4L478.5 204.0L470.3 205.4L465.3 206.4L464.2 200.4L465.3 193.2L462.2 191.2L457.1 193.2L454.1 197.3Z" fill="#8de58f"/>
<path d="M470.3 195.3L478.5 190.2L486.2 187.8L486.2 198.7L478.5 198.3L473.4 196.7Z" fill="#a8c8ff" />
<path d="M477.5 194.7L486.2 191.8L486.2 197.3L479.5 197.1Z" fill="#5e8eff" />
<path d="M452.1 200.4L451.0 197.3L454.5 196.7L457.1 192.8L462.6 190.2L465.7 193.2L463.8 196.7L465.5 199.9L464.2 202.8L465.9 206.4L471.4 204.8L478.9 204.0L486.2 203.6" fill="none" stroke="#000" stroke-width="1.5" stroke-linejoin="round"/>
<path d="M478.1 176.0L486.2 172.3" fill="none" stroke="#000" stroke-width="1.5"/>
</g>
<path d="M207.8 423.3L211.9 421.1L211.5 424.3Z" fill="#8de58f" stroke="#8de58f" stroke-width="2.4" stroke-linejoin="round" opacity="0.8"/>
<path d="M207.8 423.3L211.9 421.1L211.5 424.3Z" fill="#111" stroke="#111" stroke-width="0.6" stroke-linejoin="round" />
<path d="M138.8 450.8L142.9 447.8L141.8 450.2Z" fill="#8de58f" stroke="#8de58f" stroke-width="2.4" stroke-linejoin="round" opacity="0.8"/>
<path d="M138.8 450.8L142.9 447.8L141.8 450.2Z" fill="#111" stroke="#111" stroke-width="0.6" stroke-linejoin="round" />
<path d="M108.0 472.5L112.4 467.4L119.0 463.7L115.3 468.8L110.2 472.8Z" fill="#8de58f" stroke="#8de58f" stroke-width="2.4" stroke-linejoin="round" opacity="0.8"/>
<path d="M108.0 472.5L112.4 467.4L119.0 463.7L115.3 468.8L110.2 472.8Z" fill="#111" stroke="#111" stroke-width="0.6" stroke-linejoin="round" />
<path d="M224.7 490.1L229.8 487.2L229.1 489.4L225.7 491.3Z" fill="#8de58f" stroke="#8de58f" stroke-width="2.4" stroke-linejoin="round" opacity="0.8"/>
<path d="M224.7 490.1L229.8 487.2L229.1 489.4L225.7 491.3Z" fill="#111" stroke="#111" stroke-width="0.6" stroke-linejoin="round" />
<path d="M75.7 535.3L80.1 534.9L77.5 538.6Z" fill="#8de58f" stroke="#8de58f" stroke-width="2.4" stroke-linejoin="round" opacity="0.8"/>
<path d="M75.7 535.3L80.1 534.9L77.5 538.6Z" fill="#111" stroke="#111" stroke-width="0.6" stroke-linejoin="round" />
<path d="M90.4 541.5L94.5 540.9L94.2 542.7L90.7 543.0Z" fill="#8de58f" stroke="#8de58f" stroke-width="2.4" stroke-linejoin="round" opacity="0.8"/>
<path d="M90.4 541.5L94.5 540.9L94.2 542.7L90.7 543.0Z" fill="#111" stroke="#111" stroke-width="0.6" stroke-linejoin="round" />
<path d="M256.3 402.3L263.3 404.7L262.9 405.9L256.6 403.5Z" fill="#8de58f" stroke="#8de58f" stroke-width="2.4" stroke-linejoin="round" opacity="0.8"/>
<path d="M256.3 402.3L263.3 404.7L262.9 405.9L256.6 403.5Z" fill="#111" stroke="#111" stroke-width="0.6" stroke-linejoin="round" />
<path d="M301.1 408.0L306.1 406.0L304.7 411.3Z" fill="#8de58f" stroke="#8de58f" stroke-width="2.4" stroke-linejoin="round" opacity="0.8"/>
<path d="M301.1 408.0L306.1 406.0L304.7 411.3Z" fill="#111" stroke="#111" stroke-width="0.6" stroke-linejoin="round" />
<path d="M426.6 273.5L431.7 274.3L431.3 275.9L426.9 274.9Z" fill="#8de58f" stroke="#8de58f" stroke-width="2.4" stroke-linejoin="round" opacity="0.8"/>
<path d="M426.6 273.5L431.7 274.3L431.3 275.9L426.9 274.9Z" fill="#111" stroke="#111" stroke-width="0.6" stroke-linejoin="round" />
<path d="M307.8 419.8L312.2 422.3L311.8 423.5L307.8 421.2Z" fill="#8de58f" stroke="#8de58f" stroke-width="2.4" stroke-linejoin="round" opacity="0.8"/>
<path d="M307.8 419.8L312.2 422.3L311.8 423.5L307.8 421.2Z" fill="#111" stroke="#111" stroke-width="0.6" stroke-linejoin="round" />
<path d="M472.0 227.6L476.0 226.4L475.6 228.0L472.4 229.2Z" fill="#8de58f" stroke="#8de58f" stroke-width="2.4" stroke-linejoin="round" opacity="0.8"/>
<path d="M472.0 227.6L476.0 226.4L475.6 228.0L472.4 229.2Z" fill="#111" stroke="#111" stroke-width="0.6" stroke-linejoin="round" />
<rect x="105.0" y="527.5" width="3.6" height="1.6" fill="#111"/>
<rect x="105.3" y="530.9" width="3.6" height="1.6" fill="#111"/>
<rect x="105.6" y="534.4" width="3.6" height="1.6" fill="#111"/>
<rect x="106.2" y="537.8" width="3.6" height="1.6" fill="#111"/>
<rect x="128.8" y="520.6" width="3.6" height="1.6" fill="#111"/>
<rect x="129.7" y="524.5" width="3.6" height="1.6" fill="#111"/>
<rect x="239.5" y="467.3" width="3.6" height="1.6" fill="#111"/>
<path d="M209.3 533.4L217.4 526.5" fill="none" stroke="#000" stroke-width="1.3"/>
<path d="M211.9 525.3L215.2 529.7" fill="none" stroke="#000" stroke-width="1.3"/>
<path d="M76.9 546.6L79.4 545.9L83.0 547.1" fill="none" stroke="#000" stroke-width="1.3"/>
<path d="M177.0 431.7L179.6 431.1" fill="none" stroke="#8de58f" stroke-width="1.8" opacity="0.75"/>
<path d="M176.3 435.5L179.2 434.0" fill="none" stroke="#8de58f" stroke-width="1.8" opacity="0.75"/>
<path d="M55.1 534.9L58.1 533.0" fill="none" stroke="#8de58f" stroke-width="1.8" opacity="0.75"/>
<path d="M48.1 543.7L51.5 542.2" fill="none" stroke="#8de58f" stroke-width="1.8" opacity="0.75"/>
<path d="M47.8 546.2L52.2 545.9" fill="none" stroke="#8de58f" stroke-width="1.8" opacity="0.75"/>
<path d="M155.0 448.3L157.2 446.8" fill="none" stroke="#8de58f" stroke-width="1.8" opacity="0.75"/>
<path d="M272.4 405.0L275.6 403.2" fill="none" stroke="#8de58f" stroke-width="1.8" opacity="0.75"/>
<path d="M279.0 416.4L282.0 414.1" fill="none" stroke="#8de58f" stroke-width="1.8" opacity="0.75"/>
<path d="M295.9 429.9L299.0 427.7" fill="none" stroke="#8de58f" stroke-width="1.8" opacity="0.75"/>
<path d="M287.1 494.2L289.7 492.3" fill="none" stroke="#8de58f" stroke-width="1.8" opacity="0.75"/>
<path d="M118.3 460.8L120.0 460.0" fill="none" stroke="#8de58f" stroke-width="1.8" opacity="0.75"/>
<path d="M316.9 357.2L320.0 355.8" fill="none" stroke="#8de58f" stroke-width="1.8" opacity="0.75"/>
<path d="M316.9 360.9L319.6 359.7" fill="none" stroke="#8de58f" stroke-width="1.8" opacity="0.75"/>
<path d="M348.4 378.2L351.5 376.7" fill="none" stroke="#8de58f" stroke-width="1.8" opacity="0.75"/>
<path d="M364.7 460.9L367.7 459.6" fill="none" stroke="#8de58f" stroke-width="1.8" opacity="0.75"/>
<path d="M287.0 494.0L289.9 492.6" fill="none" stroke="#8de58f" stroke-width="1.8" opacity="0.75"/>
<path d="M272.2 404.6L275.7 403.2" fill="none" stroke="#8de58f" stroke-width="1.8" opacity="0.75"/>
<path d="M278.9 415.8L282.4 413.7" fill="none" stroke="#8de58f" stroke-width="1.8" opacity="0.75"/>
<path d="M295.6 430.0L299.2 427.9" fill="none" stroke="#8de58f" stroke-width="1.8" opacity="0.75"/>
<path d="M470.3 249.1L474.4 247.1" fill="none" stroke="#8de58f" stroke-width="1.8" opacity="0.75"/>
<path d="M430.7 211.5L431.7 219.7" fill="none" stroke="#8de58f" stroke-width="1.8" opacity="0.75"/>
<path d="M470.3 232.5L473.6 230.4" fill="none" stroke="#8de58f" stroke-width="1.8" opacity="0.75"/>
<path d="M302.7 418.2L306.1 417.4" fill="none" stroke="#8de58f" stroke-width="1.8" opacity="0.75"/>
<g stroke="#000" fill="none" stroke-width="1.15" stroke-dasharray="3.0 5.265">
<path d="M76.10 41.10V548.80"/>
<path d="M154.80 41.10V548.80"/>
<path d="M233.60 41.10V548.80"/>
<path d="M312.30 41.10V548.80"/>
<path d="M391.05 41.10V548.80"/>
<path d="M469.80 41.10V548.80"/>
<path d="M12.90 73.20H486.10"/>
<path d="M12.90 157.70H486.10"/>
<path d="M12.90 242.20H486.10"/>
<path d="M12.90 326.80H486.10"/>
<path d="M12.90 411.30H486.10"/>
<path d="M12.90 495.80H486.10"/>
</g>
<g stroke="#111" stroke-width="1.1" stroke-dasharray="11.6 11.94" fill="none">
<path d="M190.8 548.5Q335.8 427.5 486.1 313.1"/>
<path d="M334.5 548.5Q409.6 487.2 486.1 427.7"/>
</g>
<g font-size="12.3" text-anchor="middle">
<text x="75.70" y="306.0">-42</text>
<text x="154.40" y="306.0">-40</text>
<text x="233.20" y="306.0">-38</text>
<text x="311.90" y="306.0">-36</text>
<text x="390.65" y="306.0">-34</text>
<text x="469.40" y="306.0">-32</text>
<text x="253.7" y="72.90">16</text>
<text x="253.7" y="157.40">14</text>
<text x="253.7" y="241.90">12</text>
<text x="253.7" y="326.50">10</text>
<text x="253.7" y="411.00">8</text>
<text x="253.7" y="495.50">6</text>
</g>
<path d="M242.90 292.30h13.00v4.40h-13.00z M247.20 288.00h4.40v13.00h-4.40z" fill="#000"/>
<text x="37.30" y="66.50" font-size="25.0" xml:space="preserve">2A12 rainrate (mm/hr)</text>
<text x="438.4" y="522.8" font-size="30">(f)</text>
<rect x="495.20" y="531.52" width="8.70" height="8.77" fill="#80e480"/>
<rect x="495.20" y="523.06" width="8.70" height="8.77" fill="#80e480"/>
<rect x="495.20" y="514.59" width="8.70" height="8.77" fill="#7ada7a"/>
<rect x="495.20" y="506.13" width="8.70" height="8.77" fill="#74d074"/>
<rect x="495.20" y="497.66" width="8.70" height="8.77" fill="#74d074"/>
<rect x="495.20" y="489.20" width="8.70" height="8.77" fill="#6ec66e"/>
<rect x="495.20" y="480.73" width="8.70" height="8.77" fill="#68bc68"/>
<rect x="495.20" y="472.27" width="8.70" height="8.77" fill="#d0d8ff"/>
<rect x="495.20" y="463.80" width="8.70" height="8.77" fill="#d0d8ff"/>
<rect x="495.20" y="455.34" width="8.70" height="8.77" fill="#b7cdff"/>
<rect x="495.20" y="446.87" width="8.70" height="8.77" fill="#9ec2ff"/>
<rect x="495.20" y="438.41" width="8.70" height="8.77" fill="#82b8ff"/>
<rect x="495.20" y="429.94" width="8.70" height="8.77" fill="#82b8ff"/>
<rect x="495.20" y="421.48" width="8.70" height="8.77" fill="#64b0ff"/>
<rect x="495.20" y="413.01" width="8.70" height="8.77" fill="#4ea2ff"/>
<rect x="495.20" y="404.55" width="8.70" height="8.77" fill="#4789ff"/>
<rect x="495.20" y="396.08" width="8.70" height="8.77" fill="#4789ff"/>
<rect x="495.20" y="387.62" width="8.70" height="8.77" fill="#4070ff"/>
<rect x="495.20" y="379.15" width="8.70" height="8.77" fill="#3955ff"/>
<rect x="495.20" y="370.69" width="8.70" height="8.77" fill="#3239ff"/>
<rect x="495.20" y="362.22" width="8.70" height="8.77" fill="#3239ff"/>
<rect x="495.20" y="353.76" width="8.70" height="8.77" fill="#2222ff"/>
<rect x="495.20" y="345.29" width="8.70" height="8.77" fill="#0e0eff"/>
<rect x="495.20" y="336.83" width="8.70" height="8.77" fill="#0000f7"/>
<rect x="495.20" y="328.36" width="8.70" height="8.77" fill="#0000f7"/>
<rect x="495.20" y="319.90" width="8.70" height="8.77" fill="#0000e0"/>
<rect x="495.20" y="311.43" width="8.70" height="8.77" fill="#0000c8"/>
<rect x="495.20" y="302.97" width="8.70" height="8.77" fill="#ffff00"/>
<rect x="495.20" y="294.50" width="8.70" height="8.77" fill="#ffff00"/>
<rect x="495.20" y="286.04" width="8.70" height="8.77" fill="#fff400"/>
<rect x="495.20" y="277.57" width="8.70" height="8.77" fill="#ffe800"/>
<rect x="495.20" y="269.11" width="8.70" height="8.77" fill="#ffe800"/>
<rect x="495.20" y="260.64" width="8.70" height="8.77" fill="#ffdd00"/>
<rect x="495.20" y="252.18" width="8.70" height="8.77" fill="#ffd200"/>
<rect x="495.20" y="243.71" width="8.70" height="8.77" fill="#ff9600"/>
<rect x="495.20" y="235.25" width="8.70" height="8.77" fill="#ff9600"/>
<rect x="495.20" y="226.78" width="8.70" height="8.77" fill="#ff8e00"/>
<rect x="495.20" y="218.31" width="8.70" height="8.77" fill="#ff8700"/>
<rect x="495.20" y="209.85" width="8.70" height="8.77" fill="#ff8000"/>
<rect x="495.20" y="201.38" width="8.70" height="8.77" fill="#ff7800"/>
<rect x="495.20" y="192.92" width="8.70" height="8.77" fill="#ff3c00"/>
<rect x="495.20" y="184.46" width="8.70" height="8.77" fill="#ff3c00"/>
<rect x="495.20" y="175.99" width="8.70" height="8.77" fill="#ff3300"/>
<rect x="495.20" y="167.53" width="8.70" height="8.77" fill="#ff2a00"/>
<rect x="495.20" y="159.06" width="8.70" height="8.77" fill="#ff2a00"/>
<rect x="495.20" y="150.60" width="8.70" height="8.77" fill="#ff2100"/>
<rect x="495.20" y="142.13" width="8.70" height="8.77" fill="#ff1800"/>
<rect x="495.20" y="133.67" width="8.70" height="8.77" fill="#c80000"/>
<rect x="495.20" y="125.20" width="8.70" height="8.77" fill="#c80000"/>
<rect x="495.20" y="116.74" width="8.70" height="8.77" fill="#be0200"/>
<rect x="495.20" y="108.27" width="8.70" height="8.77" fill="#b40500"/>
<rect x="495.20" y="99.81" width="8.70" height="8.77" fill="#b40500"/>
<rect x="495.20" y="91.34" width="8.70" height="8.77" fill="#aa0800"/>
<rect x="495.20" y="82.88" width="8.70" height="8.77" fill="#a00a00"/>
<rect x="495.20" y="74.41" width="8.70" height="8.77" fill="#601008"/>
<rect x="495.20" y="65.95" width="8.70" height="8.77" fill="#5e120c"/>
<rect x="495.20" y="57.48" width="8.70" height="8.77" fill="#5d1410"/>
<rect x="495.20" y="49.02" width="8.70" height="8.77" fill="#5c1614"/>
<rect x="495.20" y="40.55" width="8.70" height="8.77" fill="#5a1818"/>
<rect x="503.90" y="547.90" width="2.3" height="1.0" fill="#333"/>
<text x="524.25" y="556.90" font-size="20.00" text-anchor="middle">0</text>
<rect x="503.90" y="497.11" width="2.3" height="1.0" fill="#333"/>
<text x="524.25" y="506.11" font-size="20.00" text-anchor="middle">6</text>
<rect x="503.90" y="446.32" width="2.3" height="1.0" fill="#333"/>
<text x="524.25" y="455.32" font-size="20.00" text-anchor="middle">12</text>
<rect x="503.90" y="395.53" width="2.3" height="1.0" fill="#333"/>
<text x="524.25" y="404.53" font-size="20.00" text-anchor="middle">18</text>
<rect x="503.90" y="344.74" width="2.3" height="1.0" fill="#333"/>
<text x="524.25" y="353.74" font-size="20.00" text-anchor="middle">24</text>
<rect x="503.90" y="293.95" width="2.3" height="1.0" fill="#333"/>
<text x="524.25" y="302.95" font-size="20.00" text-anchor="middle">30</text>
<rect x="503.90" y="243.16" width="2.3" height="1.0" fill="#333"/>
<text x="524.25" y="252.16" font-size="20.00" text-anchor="middle">36</text>
<rect x="503.90" y="192.37" width="2.3" height="1.0" fill="#333"/>
<text x="524.25" y="201.37" font-size="20.00" text-anchor="middle">42</text>
<rect x="503.90" y="141.58" width="2.3" height="1.0" fill="#333"/>
<text x="524.25" y="150.58" font-size="20.00" text-anchor="middle">48</text>
<rect x="503.90" y="90.79" width="2.3" height="1.0" fill="#333"/>
<text x="524.25" y="99.79" font-size="20.00" text-anchor="middle">54</text>
</g>
<g transform="translate(0.00 1181.10)"><!-- panel g -->
<defs><filter id="bg2" x="-10%" y="-10%" width="120%" height="120%"><feGaussianBlur stdDeviation="2"/></filter><filter id="bg4" x="-10%" y="-10%" width="120%" height="120%"><feGaussianBlur stdDeviation="4"/></filter><filter id="bg9" x="-20%" y="-20%" width="140%" height="140%"><feGaussianBlur stdDeviation="9"/></filter><filter id="ng" x="0" y="0" width="100%" height="100%"><feTurbulence type="fractalNoise" baseFrequency="0.03" numOctaves="3" seed="7" result="n"/><feColorMatrix in="n" type="matrix" values="0 0 0 0 0  0 0 0 0 0  0 0 0 0 0  1.3 0 0 0 -0.5"/><feComposite in2="SourceGraphic" operator="in"/></filter><clipPath id="cg"><path d="M21.0 548.7L120.0 467.0L342.7 288.9L430.2 218.9L485.9 176.7L485.9 548.7Z"/></clipPath><clipPath id="cgo"><path d="M133.4 456.3L343.2 288.5L344.4 287.8L346.6 286.7L350.0 287.8L351.1 291.2L352.3 295.7L353.4 300.2L354.5 304.7L356.8 309.2L359.1 313.8L357.9 316.0L359.1 320.5L359.1 327.3L356.8 331.8L353.4 335.2L355.7 337.5L357.9 334.1L361.3 333.0L363.6 334.1L363.6 338.6L361.3 342.0L360.2 346.5L363.6 349.9L368.1 353.3L364.7 354.4L367.0 358.9L370.3 363.5L373.7 365.7L377.1 369.1L378.2 373.6L377.6 373.9L374.2 371.6L369.7 371.6L365.2 370.5L360.7 367.1L356.2 362.6L351.6 359.2L348.2 355.8L346.0 359.2L344.9 363.7L343.7 367.1L346.0 370.5L347.1 375.0L348.2 380.7L350.5 384.1L351.6 388.6L353.9 393.1L356.2 398.8L353.9 402.1L351.6 405.5L347.1 407.8L343.7 411.2L342.6 414.6L340.3 418.0L339.2 421.3L335.8 423.6L333.6 427.0L329.1 425.9L327.9 429.2L330.7 432.6L331.3 438.3L329.1 443.9L326.8 447.3L324.5 442.8L322.3 438.3L317.8 440.5L314.4 442.8L313.2 447.3L311.0 451.8L311.5 455.2L309.9 460.9L307.6 466.5L304.2 468.8L303.1 473.3L298.6 476.7L299.7 481.2L297.4 485.7L298.6 490.2L295.2 493.6L292.9 497.0L291.8 501.5L287.3 502.6L283.9 508.3L280.5 515.1L276.0 521.8L271.5 529.8L266.9 533.1L268.8 530.6L271.1 526.0L272.8 521.5L274.5 517.0L276.7 512.5L279.6 508.0L282.4 503.5L284.1 498.9L285.8 493.3L286.3 488.8L285.2 484.3L286.3 480.3L285.2 476.3L282.9 473.0L282.4 467.3L284.6 463.9L285.2 459.4L282.4 456.0L280.7 452.6L278.4 449.2L276.2 450.4L273.9 453.8L273.3 459.4L271.7 463.9L269.4 462.2L267.1 458.8L263.2 457.7L259.2 458.8L256.4 456.6L255.3 452.6L252.5 452.6L249.6 454.9L249.1 459.4L248.5 464.5L246.8 468.4L245.7 472.4L244.0 476.3L241.2 479.7L237.8 482.0L234.4 483.1L229.9 483.1L225.4 482.6L223.1 480.3L224.8 476.3L227.6 471.8L231.0 470.7L235.0 469.0L236.6 465.6L235.0 462.8L232.1 463.9L228.7 466.2L227.0 465.1L227.6 461.1L225.9 458.8L223.7 460.0L220.3 462.8L216.9 461.1L215.8 458.3L214.6 452.6L212.9 448.7L208.4 447.0L204.5 445.3L206.2 440.2L206.2 435.7L204.5 436.8L202.2 441.9L198.2 444.7L193.7 448.1L189.2 452.6L188.1 456.0L187.5 460.5L185.8 463.9L183.0 462.8L181.3 458.3L184.1 454.9L187.0 450.9L188.7 446.4L190.3 441.3L191.7 436.8L190.3 435.1L187.0 437.4L183.6 440.8L179.1 444.7L174.5 448.7L170.0 449.8L166.6 452.1L163.8 455.5L159.9 459.4L156.5 463.9L153.1 467.9L149.7 471.3L145.2 473.0L140.7 476.9L137.3 480.3L139.5 475.2L142.3 471.3L139.5 470.1L140.9 467.3L143.5 463.9L145.7 459.4L148.0 454.3L146.3 453.5L141.8 456.0L137.3 458.5L133.4 458.1Z"/></clipPath><clipPath id="cgy"><path d="M187.6 411.8L190.8 410.0L193.9 409.6L195.3 413.6L196.2 419.0L198.9 416.3L201.6 411.8L204.3 406.4L206.1 401.0L208.4 397.8L211.6 398.3L214.3 401.0L216.1 405.5L215.6 410.9L217.0 414.5L220.1 415.4L223.3 412.7L226.5 411.8L227.8 415.4L230.5 416.3L233.2 413.6L234.1 419.0L236.8 417.2L239.6 412.7L241.4 408.2L243.2 403.7L246.8 400.1L249.5 396.5L252.2 392.8L254.0 388.3L256.7 385.6L261.2 385.2L264.9 387.0L267.6 385.6L269.4 381.1L272.1 377.0L274.8 376.6L278.4 377.5L280.7 376.6L281.1 380.2L279.8 387.4L278.4 394.7L277.5 401.0L276.1 407.3L277.5 410.9L279.3 411.8L279.8 416.3L278.4 419.9L279.8 425.4L281.1 430.8L282.9 437.1L284.7 443.4L286.5 448.9L287.9 454.3L289.2 458.6L290.9 452.5L290.0 447.0L289.1 441.6L290.6 434.4L293.8 429.9L296.5 425.4L294.7 420.9L296.5 416.3L299.2 411.8L297.4 407.3L296.5 402.8L299.2 398.3L301.0 393.8L300.1 389.2L299.2 384.7L298.3 380.2L296.5 375.7L298.3 371.2L300.1 366.7L299.2 362.1L298.3 357.6L296.5 353.1L298.3 349.5L296.5 345.9L293.8 343.2L291.0 338.6L289.2 333.2L288.3 330.7Z"/></clipPath></defs>
<path d="M21.0 548.7L120.0 467.0L342.7 288.9L430.2 218.9L485.9 176.7L485.9 548.7Z" fill="#dedede" />
<g clip-path="url(#cg)">
<g filter="url(#bg9)">
<ellipse cx="90" cy="515" rx="70" ry="26" fill="#cfcfcf"/>
<ellipse cx="200" cy="515" rx="60" ry="26" fill="#c6c6c6"/>
<ellipse cx="150" cy="470" rx="50" ry="16" fill="#cdcdcd"/>
<ellipse cx="265" cy="490" rx="28" ry="36" fill="#cacaca"/>
<ellipse cx="330" cy="470" rx="30" ry="26" fill="#d2d2d2"/>
<ellipse cx="425" cy="385" rx="22" ry="22" fill="#c6c6c6"/>
<ellipse cx="445" cy="250" rx="30" ry="30" fill="#d6d6d6"/>
<ellipse cx="400" cy="300" rx="25" ry="20" fill="#d4d4d4"/>
<ellipse cx="390" cy="522" rx="70" ry="24" fill="#e6e6e6"/>
<ellipse cx="455" cy="480" rx="30" ry="50" fill="#e2e2e2"/>
<ellipse cx="300" cy="535" rx="40" ry="12" fill="#e2e2e2"/>
<ellipse cx="350" cy="440" rx="14" ry="20" fill="#d0d0d0"/>
<ellipse cx="420" cy="330" rx="18" ry="16" fill="#d0d0d0"/>
<ellipse cx="470" cy="420" rx="14" ry="30" fill="#dadada"/>
<ellipse cx="60" cy="540" rx="30" ry="8" fill="#d4d4d4"/>
<ellipse cx="230" cy="470" rx="30" ry="14" fill="#c4c4c4"/>
<ellipse cx="380" cy="330" rx="16" ry="30" fill="#d2d2d2"/>
</g>
<rect x="12" y="170" width="476" height="380" fill="#808080" filter="url(#ng)" opacity="0.17"/>
</g>
<path d="M133.4 456.3L343.2 288.5L344.4 287.8L346.6 286.7L350.0 287.8L351.1 291.2L352.3 295.7L353.4 300.2L354.5 304.7L356.8 309.2L359.1 313.8L357.9 316.0L359.1 320.5L359.1 327.3L356.8 331.8L353.4 335.2L355.7 337.5L357.9 334.1L361.3 333.0L363.6 334.1L363.6 338.6L361.3 342.0L360.2 346.5L363.6 349.9L368.1 353.3L364.7 354.4L367.0 358.9L370.3 363.5L373.7 365.7L377.1 369.1L378.2 373.6L377.6 373.9L374.2 371.6L369.7 371.6L365.2 370.5L360.7 367.1L356.2 362.6L351.6 359.2L348.2 355.8L346.0 359.2L344.9 363.7L343.7 367.1L346.0 370.5L347.1 375.0L348.2 380.7L350.5 384.1L351.6 388.6L353.9 393.1L356.2 398.8L353.9 402.1L351.6 405.5L347.1 407.8L343.7 411.2L342.6 414.6L340.3 418.0L339.2 421.3L335.8 423.6L333.6 427.0L329.1 425.9L327.9 429.2L330.7 432.6L331.3 438.3L329.1 443.9L326.8 447.3L324.5 442.8L322.3 438.3L317.8 440.5L314.4 442.8L313.2 447.3L311.0 451.8L311.5 455.2L309.9 460.9L307.6 466.5L304.2 468.8L303.1 473.3L298.6 476.7L299.7 481.2L297.4 485.7L298.6 490.2L295.2 493.6L292.9 497.0L291.8 501.5L287.3 502.6L283.9 508.3L280.5 515.1L276.0 521.8L271.5 529.8L266.9 533.1L268.8 530.6L271.1 526.0L272.8 521.5L274.5 517.0L276.7 512.5L279.6 508.0L282.4 503.5L284.1 498.9L285.8 493.3L286.3 488.8L285.2 484.3L286.3 480.3L285.2 476.3L282.9 473.0L282.4 467.3L284.6 463.9L285.2 459.4L282.4 456.0L280.7 452.6L278.4 449.2L276.2 450.4L273.9 453.8L273.3 459.4L271.7 463.9L269.4 462.2L267.1 458.8L263.2 457.7L259.2 458.8L256.4 456.6L255.3 452.6L252.5 452.6L249.6 454.9L249.1 459.4L248.5 464.5L246.8 468.4L245.7 472.4L244.0 476.3L241.2 479.7L237.8 482.0L234.4 483.1L229.9 483.1L225.4 482.6L223.1 480.3L224.8 476.3L227.6 471.8L231.0 470.7L235.0 469.0L236.6 465.6L235.0 462.8L232.1 463.9L228.7 466.2L227.0 465.1L227.6 461.1L225.9 458.8L223.7 460.0L220.3 462.8L216.9 461.1L215.8 458.3L214.6 452.6L212.9 448.7L208.4 447.0L204.5 445.3L206.2 440.2L206.2 435.7L204.5 436.8L202.2 441.9L198.2 444.7L193.7 448.1L189.2 452.6L188.1 456.0L187.5 460.5L185.8 463.9L183.0 462.8L181.3 458.3L184.1 454.9L187.0 450.9L188.7 446.4L190.3 441.3L191.7 436.8L190.3 435.1L187.0 437.4L183.6 440.8L179.1 444.7L174.5 448.7L170.0 449.8L166.6 452.1L163.8 455.5L159.9 459.4L156.5 463.9L153.1 467.9L149.7 471.3L145.2 473.0L140.7 476.9L137.3 480.3L139.5 475.2L142.3 471.3L139.5 470.1L140.9 467.3L143.5 463.9L145.7 459.4L148.0 454.3L146.3 453.5L141.8 456.0L137.3 458.5L133.4 458.1Z" fill="#7ed486" />
<g clip-path="url(#cgo)">
<path d="M133.4 456.3L343.2 288.5L344.4 287.8L346.6 286.7L350.0 287.8L351.1 291.2L352.3 295.7L353.4 300.2L354.5 304.7L356.8 309.2L359.1 313.8L357.9 316.0L359.1 320.5L359.1 327.3L356.8 331.8L353.4 335.2L355.7 337.5L357.9 334.1L361.3 333.0L363.6 334.1L363.6 338.6L361.3 342.0L360.2 346.5L363.6 349.9L368.1 353.3L364.7 354.4L367.0 358.9L370.3 363.5L373.7 365.7L377.1 369.1L378.2 373.6L377.6 373.9L374.2 371.6L369.7 371.6L365.2 370.5L360.7 367.1L356.2 362.6L351.6 359.2L348.2 355.8L346.0 359.2L344.9 363.7L343.7 367.1L346.0 370.5L347.1 375.0L348.2 380.7L350.5 384.1L351.6 388.6L353.9 393.1L356.2 398.8L353.9 402.1L351.6 405.5L347.1 407.8L343.7 411.2L342.6 414.6L340.3 418.0L339.2 421.3L335.8 423.6L333.6 427.0L329.1 425.9L327.9 429.2L330.7 432.6L331.3 438.3L329.1 443.9L326.8 447.3L324.5 442.8L322.3 438.3L317.8 440.5L314.4 442.8L313.2 447.3L311.0 451.8L311.5 455.2L309.9 460.9L307.6 466.5L304.2 468.8L303.1 473.3L298.6 476.7L299.7 481.2L297.4 485.7L298.6 490.2L295.2 493.6L292.9 497.0L291.8 501.5L287.3 502.6L283.9 508.3L280.5 515.1L276.0 521.8L271.5 529.8L266.9 533.1L268.8 530.6L271.1 526.0L272.8 521.5L274.5 517.0L276.7 512.5L279.6 508.0L282.4 503.5L284.1 498.9L285.8 493.3L286.3 488.8L285.2 484.3L286.3 480.3L285.2 476.3L282.9 473.0L282.4 467.3L284.6 463.9L285.2 459.4L282.4 456.0L280.7 452.6L278.4 449.2L276.2 450.4L273.9 453.8L273.3 459.4L271.7 463.9L269.4 462.2L267.1 458.8L263.2 457.7L259.2 458.8L256.4 456.6L255.3 452.6L252.5 452.6L249.6 454.9L249.1 459.4L248.5 464.5L246.8 468.4L245.7 472.4L244.0 476.3L241.2 479.7L237.8 482.0L234.4 483.1L229.9 483.1L225.4 482.6L223.1 480.3L224.8 476.3L227.6 471.8L231.0 470.7L235.0 469.0L236.6 465.6L235.0 462.8L232.1 463.9L228.7 466.2L227.0 465.1L227.6 461.1L225.9 458.8L223.7 460.0L220.3 462.8L216.9 461.1L215.8 458.3L214.6 452.6L212.9 448.7L208.4 447.0L204.5 445.3L206.2 440.2L206.2 435.7L204.5 436.8L202.2 441.9L198.2 444.7L193.7 448.1L189.2 452.6L188.1 456.0L187.5 460.5L185.8 463.9L183.0 462.8L181.3 458.3L184.1 454.9L187.0 450.9L188.7 446.4L190.3 441.3L191.7 436.8L190.3 435.1L187.0 437.4L183.6 440.8L179.1 444.7L174.5 448.7L170.0 449.8L166.6 452.1L163.8 455.5L159.9 459.4L156.5 463.9L153.1 467.9L149.7 471.3L145.2 473.0L140.7 476.9L137.3 480.3L139.5 475.2L142.3 471.3L139.5 470.1L140.9 467.3L143.5 463.9L145.7 459.4L148.0 454.3L146.3 453.5L141.8 456.0L137.3 458.5L133.4 458.1Z" fill="#6f9cff" stroke="#7ed486" stroke-width="7" stroke-linejoin="round"/>
<g fill="#7ed486" filter="url(#bg2)">
<path d="M133.4 457.1L154.2 444.7L163.2 438.0L167.8 444.7L158.7 453.8L148.6 454.9L142.9 460.5L137.3 460.5Z"/>
<path d="M167.8 449.2L190.3 431.2L201.6 428.9L201.6 435.7L190.3 438.0L179.1 447.0L172.3 451.5Z"/>
<path d="M205.0 442.5L219.7 444.7L224.2 453.8L228.7 460.5L224.2 465.1L216.3 460.5L212.9 449.2Z"/>
<path d="M261.5 431.2L271.7 419.9L276.2 426.7L271.7 438.0L267.1 444.7L262.6 449.2L260.4 440.2Z"/>
<path d="M212.9 436.8L217.4 435.7L217.4 440.2L212.9 440.2Z"/>
<path d="M229.9 451.5L238.9 452.6L236.6 460.5L231.0 458.3Z"/>
<path d="M338.7 309.2L352.3 308.1L357.9 316.0L357.9 327.3L352.3 337.5L347.8 347.6L343.2 358.9L336.5 364.6L338.7 352.2L343.2 338.6L347.8 327.3L347.8 318.3Z"/>
<path d="M343.2 288.9L352.3 291.2L356.8 307.0L352.3 309.2L347.8 298.0Z"/>
</g>
<g fill="#c6d2ff" filter="url(#bg2)">
<path d="M156.5 431.2L172.3 426.7L185.8 426.7L192.6 431.2L185.8 436.8L172.3 440.2L158.7 442.5Z"/>
<path d="M201.6 422.1L215.2 419.9L224.2 426.7L222.0 438.0L212.9 444.7L205.0 438.0Z"/>
<path d="M226.5 428.9L235.5 426.7L242.3 433.4L238.9 444.7L231.0 449.2L225.4 440.2Z"/>
<path d="M255.8 406.3L267.1 401.8L273.9 408.6L272.8 422.1L264.9 431.2L258.1 426.7L254.7 415.4Z"/>
<path d="M238.9 462.8L245.7 460.5L244.6 471.8L238.9 476.3L234.4 471.8Z"/>
<path d="M147.4 458.3L154.2 453.8L158.7 456.0L153.1 463.9L147.4 467.3Z"/>
</g>
<g fill="#55a8ff" filter="url(#bg2)">
<path d="M172.3 422.1L185.8 415.4L197.1 417.6L192.6 426.7L179.1 428.9Z"/>
<path d="M217.4 413.1L228.7 412.0L235.5 419.9L226.5 426.7L219.7 422.1Z"/>
<path d="M255.8 396.2L269.4 391.6L276.2 397.3L273.9 406.3L262.6 406.3Z"/>
<path d="M185.8 440.2L194.9 436.8L197.1 442.5L190.3 448.1Z"/>
<path d="M233.3 471.8L242.3 475.2L237.8 480.9L231.0 478.6Z"/>
</g>
<path d="M180.8 418.1L187.6 412.3L195.3 414.1L196.2 419.5L201.6 412.3L206.1 401.4L211.6 398.7L215.6 405.5L217.0 415.0L223.3 413.2L227.8 415.9L233.2 414.1L236.8 417.7L241.4 408.7L246.8 400.5L254.0 388.8L261.2 385.6L267.6 386.1L272.1 377.5L280.7 377.0L279.8 387.9L277.5 401.4L276.6 410.9L279.8 416.3L279.8 425.4L277.5 423.6L273.9 411.8L271.2 398.3L267.6 396.5L262.1 397.4L256.7 402.8L251.3 410.0L247.7 419.0L242.3 423.6L236.8 425.4L231.4 424.5L226.0 420.9L220.6 419.9L215.2 419.0L209.7 415.4L206.1 416.3L200.7 421.8L195.3 425.4L188.1 425.4L182.6 423.6Z" fill="#0b12e6" filter="url(#bg2)"/>
<path d="M170.0 427.2L180.8 419.0L188.1 426.3L200.7 423.6L207.9 417.2L220.6 420.9L233.2 425.4L247.7 419.9L256.7 403.7L267.6 397.4L272.1 411.8L265.8 416.3L256.7 419.0L251.3 429.9L240.5 432.6L227.8 429.0L217.0 427.2L206.1 425.4L197.1 430.8L184.5 432.6L173.6 434.4Z" fill="#2a4cff" filter="url(#bg2)" opacity="0.8"/>
<g fill="#1522ea" filter="url(#bg2)">
<path d="M317.3 300.2L334.2 290.0L343.2 292.3L347.8 300.2L345.5 311.5L343.2 322.8L341.0 331.8L343.2 343.1L338.7 354.4L333.1 360.1L328.6 348.8L325.2 336.3L329.7 327.3L328.6 318.3L322.9 309.2Z"/>
<path d="M291.3 329.6L302.6 322.8L309.4 327.3L302.6 336.3L294.7 340.9Z"/>
<path d="M290.7 438.3L304.2 431.5L313.2 436.0L311.0 451.8L304.2 463.1L297.4 472.2L288.4 478.9L283.9 472.2L287.3 460.9L292.9 451.8Z"/>
<path d="M304.2 367.1L329.1 370.5L347.1 386.3L351.6 402.1L340.3 415.7L329.1 422.5L313.2 418.0L301.9 402.1L299.7 384.1Z"/>
</g>
<g fill="#86b6ff" filter="url(#bg2)" opacity="0.9">
<path d="M313.2 350.2L322.3 345.7L333.6 352.5L342.6 363.7L338.1 368.3L329.1 361.5L320.0 357.0Z"/>
<path d="M335.8 372.8L343.7 376.2L347.1 386.3L340.3 384.1Z"/>
<path d="M303.1 460.9L308.7 456.3L309.9 463.1L304.2 468.8Z"/>
<path d="M320.0 424.7L329.1 431.5L327.9 440.5L322.3 436.0Z"/>
<path d="M343.2 309.2L348.9 312.6L347.8 322.8L343.2 331.8L341.0 320.5Z"/>
<path d="M334.2 345.4L343.2 348.8L345.5 361.2L338.7 364.6Z"/>
</g>
</g>
<path d="M187.6 411.8L190.8 410.0L193.9 409.6L195.3 413.6L196.2 419.0L198.9 416.3L201.6 411.8L204.3 406.4L206.1 401.0L208.4 397.8L211.6 398.3L214.3 401.0L216.1 405.5L215.6 410.9L217.0 414.5L220.1 415.4L223.3 412.7L226.5 411.8L227.8 415.4L230.5 416.3L233.2 413.6L234.1 419.0L236.8 417.2L239.6 412.7L241.4 408.2L243.2 403.7L246.8 400.1L249.5 396.5L252.2 392.8L254.0 388.3L256.7 385.6L261.2 385.2L264.9 387.0L267.6 385.6L269.4 381.1L272.1 377.0L274.8 376.6L278.4 377.5L280.7 376.6L281.1 380.2L279.8 387.4L278.4 394.7L277.5 401.0L276.1 407.3L277.5 410.9L279.3 411.8L279.8 416.3L278.4 419.9L279.8 425.4L281.1 430.8L282.9 437.1L284.7 443.4L286.5 448.9L287.9 454.3L289.2 458.6L290.9 452.5L290.0 447.0L289.1 441.6L290.6 434.4L293.8 429.9L296.5 425.4L294.7 420.9L296.5 416.3L299.2 411.8L297.4 407.3L296.5 402.8L299.2 398.3L301.0 393.8L300.1 389.2L299.2 384.7L298.3 380.2L296.5 375.7L298.3 371.2L300.1 366.7L299.2 362.1L298.3 357.6L296.5 353.1L298.3 349.5L296.5 345.9L293.8 343.2L291.0 338.6L289.2 333.2L288.3 330.7Z" fill="#ffe600" />
<g clip-path="url(#cgy)">
<path d="M218.8 389.2L233.2 380.2L251.3 369.4L269.4 360.3L279.3 349.5L283.8 362.1L284.7 380.2L282.0 398.3L273.9 371.2L267.6 373.9L256.7 380.2L249.5 385.6L242.3 394.7L235.0 398.3L227.8 400.1L222.4 405.5L218.8 398.3Z" fill="#ffc400" filter="url(#bg2)"/>
<path d="M216.1 388.5L288.3 330.7L289.2 335.0L292.0 341.4L296.5 349.5L298.3 357.6L299.6 366.7L296.5 375.7L295.1 380.2L295.6 389.2L297.8 393.8L296.5 402.8L294.7 411.8L292.0 419.0L290.1 425.4L289.2 434.4L288.5 441.6L289.4 448.0L289.4 457.0L287.4 452.5L285.6 445.2L283.8 438.0L282.5 430.8L282.0 423.6L281.6 416.3L281.1 407.3L280.7 401.0L282.0 393.8L282.9 384.7L284.3 378.4L283.4 371.2L281.6 363.9L279.8 356.7L278.4 350.8L276.1 353.1L273.9 357.6L271.6 362.1L268.5 364.8L263.9 368.0L259.4 369.8L254.9 372.1L250.4 375.7L245.9 378.4L241.4 381.1L236.8 384.7L232.3 388.3L227.8 391.9L224.2 396.0L221.0 397.8L219.2 392.8Z" fill="#ff9012"/>
<path d="M276.6 352.2L279.3 349.5L281.6 362.1L283.8 373.0L282.0 380.2L279.8 367.6L277.9 358.5Z" fill="#ffb000" filter="url(#bg2)"/>
</g>
<path d="M187.6 411.8L190.8 410.0L193.9 409.6L195.3 413.6L196.2 419.0L198.9 416.3L201.6 411.8L204.3 406.4L206.1 401.0L208.4 397.8L211.6 398.3L214.3 401.0L216.1 405.5L215.6 410.9L217.0 414.5L220.1 415.4L223.3 412.7L226.5 411.8L227.8 415.4L230.5 416.3L233.2 413.6L234.1 419.0L236.8 417.2L239.6 412.7L241.4 408.2L243.2 403.7L246.8 400.1L249.5 396.5L252.2 392.8L254.0 388.3L256.7 385.6L261.2 385.2L264.9 387.0L267.6 385.6L269.4 381.1L272.1 377.0L274.8 376.6L278.4 377.5L280.7 376.6L281.1 380.2L279.8 387.4L278.4 394.7L277.5 401.0L276.1 407.3L277.5 410.9L279.3 411.8L279.8 416.3L278.4 419.9L279.8 425.4L281.1 430.8L282.9 437.1L284.7 443.4L286.5 448.9L287.9 454.3L289.2 458.6L290.9 452.5" fill="none" stroke="#000" stroke-width="1.3" stroke-linejoin="round"/>
<path d="M290.9 452.5L290.0 447.0L289.1 441.6L290.6 434.4L293.8 429.9L296.5 425.4L294.7 420.9L296.5 416.3L299.2 411.8L297.4 407.3L296.5 402.8L299.2 398.3L301.0 393.8L300.1 389.2L299.2 384.7L298.3 380.2L296.5 375.7L298.3 371.2L300.1 366.7L299.2 362.1L298.3 357.6L296.5 353.1L298.3 349.5L296.5 345.9L293.8 343.2L291.0 338.6L289.2 333.2L288.3 330.7" fill="none" stroke="#000" stroke-width="1.2" stroke-linejoin="round"/>
<path d="M344.4 287.8L346.6 286.7L350.0 287.8L351.1 291.2L352.3 295.7L353.4 300.2L354.5 304.7L356.8 309.2L359.1 313.8L357.9 316.0L359.1 320.5L359.1 327.3L356.8 331.8L353.4 335.2L355.7 337.5L357.9 334.1L361.3 333.0L363.6 334.1L363.6 338.6L361.3 342.0L360.2 346.5L363.6 349.9L368.1 353.3L364.7 354.4L367.0 358.9L370.3 363.5L373.7 365.7L377.1 369.1L378.2 373.6L377.6 373.9L374.2 371.6L369.7 371.6L365.2 370.5L360.7 367.1L356.2 362.6L351.6 359.2L348.2 355.8L346.0 359.2L344.9 363.7L343.7 367.1L346.0 370.5L347.1 375.0L348.2 380.7L350.5 384.1L351.6 388.6L353.9 393.1L356.2 398.8L353.9 402.1L351.6 405.5L347.1 407.8L343.7 411.2L342.6 414.6L340.3 418.0L339.2 421.3L335.8 423.6L333.6 427.0L329.1 425.9L327.9 429.2L330.7 432.6L331.3 438.3L329.1 443.9L326.8 447.3L324.5 442.8L322.3 438.3L317.8 440.5L314.4 442.8L313.2 447.3L311.0 451.8L311.5 455.2L309.9 460.9L307.6 466.5L304.2 468.8L303.1 473.3L298.6 476.7L299.7 481.2L297.4 485.7L298.6 490.2L295.2 493.6L292.9 497.0L291.8 501.5L287.3 502.6L283.9 508.3L280.5 515.1L276.0 521.8L271.5 529.8L266.9 533.1L268.8 530.6L271.1 526.0L272.8 521.5L274.5 517.0L276.7 512.5L279.6 508.0L282.4 503.5L284.1 498.9L285.8 493.3L286.3 488.8L285.2 484.3L286.3 480.3L285.2 476.3L282.9 473.0L282.4 467.3L284.6 463.9L285.2 459.4L282.4 456.0L280.7 452.6L278.4 449.2L276.2 450.4L273.9 453.8L273.3 459.4L271.7 463.9L269.4 462.2L267.1 458.8L263.2 457.7L259.2 458.8L256.4 456.6L255.3 452.6L252.5 452.6L249.6 454.9L249.1 459.4L248.5 464.5L246.8 468.4L245.7 472.4L244.0 476.3L241.2 479.7L237.8 482.0L234.4 483.1L229.9 483.1L225.4 482.6L223.1 480.3L224.8 476.3L227.6 471.8L231.0 470.7L235.0 469.0L236.6 465.6L235.0 462.8L232.1 463.9L228.7 466.2L227.0 465.1L227.6 461.1L225.9 458.8L223.7 460.0L220.3 462.8L216.9 461.1L215.8 458.3L214.6 452.6L212.9 448.7L208.4 447.0L204.5 445.3L206.2 440.2L206.2 435.7L204.5 436.8L202.2 441.9L198.2 444.7L193.7 448.1L189.2 452.6L188.1 456.0L187.5 460.5L185.8 463.9L183.0 462.8L181.3 458.3L184.1 454.9L187.0 450.9L188.7 446.4L190.3 441.3L191.7 436.8L190.3 435.1L187.0 437.4L183.6 440.8L179.1 444.7L174.5 448.7L170.0 449.8L166.6 452.1L163.8 455.5L159.9 459.4L156.5 463.9L153.1 467.9L149.7 471.3L145.2 473.0L140.7 476.9L137.3 480.3L139.5 475.2L142.3 471.3L139.5 470.1L140.9 467.3L143.5 463.9L145.7 459.4L148.0 454.3L146.3 453.5L141.8 456.0L137.3 458.5L133.4 458.1" fill="none" stroke="#000" stroke-width="1.2" stroke-linejoin="round"/>
<g clip-path="url(#cg)">
<path d="M302.6 320.5L312.7 313.5L319.5 314.9L327.4 317.1L329.7 320.5L328.6 325.1L331.9 328.4L329.7 333.0L326.3 336.3L327.4 340.9L324.0 343.1L319.5 340.9L317.3 345.4L313.9 346.5L311.6 342.0L315.0 337.5L313.9 333.0L309.4 330.7L306.0 327.3L303.7 323.9Z" fill="#ffe600" stroke="#000" stroke-width="1.2" stroke-linejoin="round" />
<path d="M302.6 320.5L312.7 313.5L318.4 314.9L325.2 318.3L326.3 323.9L322.9 327.3L317.3 326.2L312.7 325.1L308.2 326.2L304.8 323.9Z" fill="#ff9012" />
<path d="M305.4 318.8L312.2 314.3L316.1 316.0L317.3 320.5L312.7 322.2L308.2 321.7Z" fill="#ff3a10" filter="url(#bg2)"/>
<path d="M292.4 334.1L296.9 330.1L302.6 331.8L307.1 335.2L308.2 339.2L303.7 343.1L298.1 341.4L293.6 338.6Z" fill="#ffe600" stroke="#000" stroke-width="1.2" stroke-linejoin="round" />
<path d="M296.9 333.0L300.9 333.0L301.5 336.3L298.1 336.9Z" fill="#2a4cff" />
<path d="M315.0 343.1L321.8 342.0L325.2 346.5L319.5 351.0L315.0 348.8Z" fill="#ffe600" stroke="#000" stroke-width="1.2" stroke-linejoin="round" />
<path d="M329.7 355.0L333.1 353.9L334.2 356.7L331.4 358.4Z" fill="#ff9012" stroke="#000" stroke-width="1.2" stroke-linejoin="round" />
<path d="M298.1 353.3L302.6 354.4L308.2 360.1L313.9 365.7L320.7 368.0L326.3 370.2L322.9 372.5L316.1 371.4L309.4 366.8L303.7 361.2L299.2 357.8Z" fill="#ffe600" stroke="#000" stroke-width="1.2" stroke-linejoin="round" />
<path d="M303.0 357.3L305.8 358.0L309.3 361.5L312.8 365.0L317.0 366.4L320.5 367.8L318.4 369.2L314.2 368.5L310.0 365.7L306.5 362.2L303.7 360.1Z" fill="#ff9012" />
<path d="M301.5 373.6L308.2 375.3L313.9 379.3L319.5 384.9L325.2 390.6L328.0 395.6L324.0 395.1L318.4 388.3L312.7 383.8L306.0 379.3L302.0 377.0Z" fill="#ffe600" stroke="#000" stroke-width="1.2" stroke-linejoin="round" />
<path d="M306.4 377.5L310.6 378.6L314.1 381.0L317.6 384.5L321.1 388.0L322.9 391.2L320.4 390.8L316.9 386.6L313.4 383.8L309.2 381.0L306.8 379.6Z" fill="#ff9012" />
<path d="M302.6 381.5L307.1 383.8L310.5 389.4L313.3 396.2L310.5 397.3L307.1 391.7L303.7 386.0Z" fill="#ffe600" stroke="#000" stroke-width="1.2" stroke-linejoin="round" />
<path d="M304.6 384.5L307.4 385.9L309.5 389.4L311.2 393.6L309.5 394.3L307.4 390.8L305.3 387.3Z" fill="#ff9012" />
<path d="M334.2 390.0L343.2 390.6L348.9 393.4L343.2 394.2L335.3 392.8Z" fill="#ffe600" stroke="#000" stroke-width="1.2" stroke-linejoin="round" />
<path d="M301.5 404.1L305.4 406.4L308.2 413.1L305.4 414.3L302.6 409.8Z" fill="#ffe600" stroke="#000" stroke-width="1.2" stroke-linejoin="round" />
<path d="M302.7 406.2L305.1 407.6L306.9 411.8L305.1 412.5L303.4 409.7Z" fill="#ff9012" />
<path d="M306.0 396.2L309.9 398.5L312.7 405.2L309.9 405.8L307.1 400.7Z" fill="#ffe600" stroke="#000" stroke-width="1.2" stroke-linejoin="round" />
<path d="M307.2 398.1L309.6 399.5L311.4 403.7L309.6 404.1L307.9 400.9Z" fill="#ff9012" />
<path d="M319.5 405.2L325.2 407.5L329.7 414.3L326.3 415.4L321.8 410.9Z" fill="#ffe600" stroke="#000" stroke-width="1.2" stroke-linejoin="round" />
<path d="M299.7 351.3L305.3 353.6L311.0 358.7L317.8 364.3L325.7 367.7L327.9 371.1L322.3 370.5L315.5 367.1L308.7 361.5L303.1 357.0Z" fill="#ffe600" stroke="#000" stroke-width="1.2" stroke-linejoin="round" />
<path d="M305.0 355.5L308.5 356.9L312.0 360.0L316.2 363.5L321.1 365.6L322.5 367.7L319.0 367.4L314.8 365.3L310.6 361.8L307.1 359.0Z" fill="#ff9012" />
<path d="M313.2 341.2L317.8 342.3L322.3 346.8L318.9 347.9L314.9 345.1Z" fill="#ffe600" stroke="#000" stroke-width="1.2" stroke-linejoin="round" />
<path d="M303.1 376.2L308.7 378.4L313.2 382.9L318.9 387.5L325.7 390.8L327.9 394.2L322.3 393.7L316.6 390.3L311.0 385.2L305.3 380.7Z" fill="#ffe600" stroke="#000" stroke-width="1.2" stroke-linejoin="round" />
<path d="M307.7 379.9L311.2 381.3L314.0 384.1L317.5 386.9L321.7 389.0L323.1 391.1L319.6 390.8L316.1 388.7L312.6 385.5L309.1 382.7Z" fill="#ff9012" />
<path d="M305.9 388.6L309.3 389.7L311.5 395.4L312.1 400.4L309.3 401.0L307.6 395.4Z" fill="#ffe600" stroke="#000" stroke-width="1.2" stroke-linejoin="round" />
<path d="M307.2 391.1L309.3 391.8L310.7 395.3L311.0 398.4L309.3 398.8L308.2 395.3Z" fill="#ff9012" />
<path d="M333.6 390.3L340.3 389.7L346.0 392.0L342.6 393.7L335.8 392.9Z" fill="#ffe600" stroke="#000" stroke-width="1.2" stroke-linejoin="round" />
<path d="M301.4 404.4L305.3 405.5L307.6 411.2L305.3 414.0L302.5 410.0Z" fill="#ffe600" stroke="#000" stroke-width="1.2" stroke-linejoin="round" />
<path d="M302.5 406.2L305.0 406.9L306.4 410.4L305.0 412.1L303.2 409.7Z" fill="#ff9012" />
<path d="M320.0 406.7L324.5 407.8L329.1 412.3L330.7 415.7L326.8 415.1L322.3 411.2Z" fill="#ffe600" stroke="#000" stroke-width="1.2" stroke-linejoin="round" />
<path d="M316.6 372.8L322.3 375.0L326.8 379.6L323.4 380.7L318.9 377.3Z" fill="#ffe600" stroke="#000" stroke-width="1.2" stroke-linejoin="round" />
<path d="M318.5 374.4L322.0 375.8L324.8 378.6L322.7 379.3L319.9 377.2Z" fill="#ff9012" />
<path d="M297.4 439.4L300.8 438.3L303.1 443.9L300.3 449.0L297.4 445.1Z" fill="#ffe600" stroke="#000" stroke-width="1.2" stroke-linejoin="round" />
<path d="M298.3 440.8L300.4 440.1L301.8 443.6L300.1 446.8L298.3 444.3Z" fill="#ff9012" />
<path d="M287.3 478.9L290.7 477.8L292.0 483.5L289.8 490.5L286.4 489.3L286.8 483.5Z" fill="#ffe600" stroke="#000" stroke-width="1.2" stroke-linejoin="round" />
<path d="M288.2 480.6L290.2 480.1L290.7 484.0L289.0 488.0L287.8 485.7Z" fill="#ff9012" />
<path d="M304.8 373.8L308.7 372.7L311.5 375.5L312.1 379.5L311.5 384.0L308.7 384.6L307.6 380.6L305.9 376.7Z" fill="#ffe600" stroke="#000" stroke-width="1.2" stroke-linejoin="round" />
<path d="M306.0 375.2L308.8 374.4L310.7 376.4L311.1 379.2L310.7 382.3L308.8 382.7L308.0 380.0L306.8 377.2Z" fill="#ff9012" />
<path d="M314.4 375.5L317.7 374.4L321.7 376.1L324.5 379.5L324.0 383.4L321.1 384.0L320.0 380.6L317.2 378.4L314.9 377.8Z" fill="#ffe600" stroke="#000" stroke-width="1.2" stroke-linejoin="round" />
<path d="M315.9 376.5L318.3 375.7L321.0 376.9L323.0 379.3L322.6 382.1L320.6 382.5L319.9 380.1L317.9 378.5L316.3 378.1Z" fill="#ff9012" />
<path d="M318.9 385.1L322.3 384.6L325.7 388.0L327.3 391.3L325.7 393.6L323.4 392.5L321.7 389.1L319.4 387.4Z" fill="#ffe600" stroke="#000" stroke-width="1.2" stroke-linejoin="round" />
<path d="M320.1 386.3L322.5 385.9L324.9 388.2L326.1 390.6L324.9 392.2L323.3 391.4L322.1 389.0L320.5 387.9Z" fill="#ff9012" />
<path d="M306.7 391.3L308.7 390.8L310.4 394.7L312.1 399.2L311.5 402.1L309.6 401.5L308.2 397.0Z" fill="#ffe600" stroke="#000" stroke-width="1.2" stroke-linejoin="round" />
<path d="M307.6 392.9L309.0 392.5L310.2 395.3L311.4 398.5L311.0 400.4L309.6 400.1L308.6 396.9Z" fill="#ff9012" />
<path d="M329.9 356.9L332.4 354.6L333.8 355.8L332.4 358.6L330.5 358.9Z" fill="#ffe600" stroke="#000" stroke-width="1.2" stroke-linejoin="round" />
<path d="M330.5 356.9L332.2 355.3L333.2 356.1L332.2 358.1L330.9 358.3Z" fill="#ff9012" />
<path d="M315.2 342.2L316.9 341.4L318.3 343.9L317.2 345.9L315.8 344.5Z" fill="#ffe600" stroke="#000" stroke-width="1.2" stroke-linejoin="round" />
<path d="M315.6 342.6L316.8 342.0L317.8 343.8L317.0 345.2L316.0 344.2Z" fill="#ff9012" />
<path d="M316.6 334.3L324.5 333.7L326.2 336.0L324.0 338.3L318.9 337.1Z" fill="#ffe600" stroke="#000" stroke-width="1.2" stroke-linejoin="round" />
<path d="M318.2 334.8L323.8 334.4L325.0 336.0L323.4 337.6L319.8 336.8Z" fill="#ff9012" />
<path d="M301.9 402.6L304.8 402.1L306.5 406.0L305.9 408.9L303.1 408.9Z" fill="#ffe600" stroke="#000" stroke-width="1.2" stroke-linejoin="round" />
<path d="M302.7 403.6L304.7 403.2L305.8 405.9L305.5 407.9L303.5 407.9Z" fill="#ff9012" />
</g>
<path d="M248.6 411.4L251.3 410.0L253.1 412.7L252.2 415.4L254.9 418.1L256.7 420.9L255.8 425.4L254.0 427.2L251.3 423.6L249.5 419.9L249.9 415.4Z" fill="#ffe600" stroke="#000" stroke-width="1.2" stroke-linejoin="round" />
<path d="M233.2 414.1L235.5 412.9L237.3 415.4L235.9 418.1L233.7 417.7Z" fill="#ffe600" stroke="#000" stroke-width="1.2" stroke-linejoin="round" />
<path d="M246.8 433.5L249.5 432.6L250.4 437.1L247.7 439.8L246.3 437.1Z" fill="#0b12e6" stroke="#000" stroke-width="1.2" stroke-linejoin="round" />
<path d="M267.6 437.1L270.7 434.9L271.6 438.0L268.9 440.7Z" fill="#7ed486" stroke="#000" stroke-width="1.2" stroke-linejoin="round" />
<path d="M263.9 444.3L267.1 445.2L265.8 448.9L264.4 448.0Z" fill="#7ed486" stroke="#000" stroke-width="1.2" stroke-linejoin="round" />
<path d="M326.3 310.4L331.9 308.7L338.7 310.4L344.4 312.6L348.9 317.1L345.5 321.1L342.1 318.3L339.9 313.8L333.1 312.6L328.6 312.6Z" fill="#c4c4c4" stroke="#000" stroke-width="1.2" stroke-linejoin="round" />
<path d="M344.9 324.5L348.9 322.8L351.1 325.6L347.8 327.9Z" fill="#c4c4c4" stroke="#000" stroke-width="1.2" stroke-linejoin="round" />
<path d="M348.9 339.7L352.3 338.6L356.8 345.4L360.7 352.2L357.9 353.9L353.4 347.6L350.0 343.1Z" fill="#c4c4c4" stroke="#000" stroke-width="1.2" stroke-linejoin="round" />
<path d="M329.7 366.8L335.3 364.0L336.5 369.1L331.4 370.8Z" fill="#c4c4c4" stroke="#000" stroke-width="1.2" stroke-linejoin="round" />
<path d="M335.3 380.4L338.2 384.9L339.9 389.4L335.9 388.9L334.2 384.9Z" fill="#c4c4c4" stroke="#000" stroke-width="1.2" stroke-linejoin="round" />
<path d="M318.9 395.4L323.4 397.6L329.1 399.9L331.3 403.3L326.8 403.8L322.3 401.6L318.3 398.8Z" fill="#c4c4c4" stroke="#000" stroke-width="1.2" stroke-linejoin="round" />
<path d="M335.3 397.6L340.3 397.1L342.0 402.1L339.2 406.1L335.8 404.4Z" fill="#c4c4c4" stroke="#000" stroke-width="1.2" stroke-linejoin="round" />
<path d="M314.4 405.5L317.8 406.7L318.3 411.2L314.9 410.6Z" fill="#c4c4c4" stroke="#000" stroke-width="1.2" stroke-linejoin="round" />
<path d="M313.2 413.4L317.8 416.8L322.3 421.3L323.4 425.9L320.0 428.1L317.8 423.6L314.4 419.1Z" fill="#c4c4c4" stroke="#000" stroke-width="1.2" stroke-linejoin="round" />
<path d="M304.2 428.1L307.6 429.2L309.9 434.9L306.5 436.0L304.2 432.6Z" fill="#c4c4c4" stroke="#000" stroke-width="1.2" stroke-linejoin="round" />
<path d="M334.7 380.7L337.5 384.1L339.2 388.6L335.8 389.2L334.1 385.2Z" fill="#c4c4c4" stroke="#000" stroke-width="1.2" stroke-linejoin="round" />
<path d="M357.9 282.1L360.2 278.8L363.6 277.6L364.1 282.1L362.4 286.7L363.0 290.0L359.1 288.9L356.8 285.5Z" fill="#7ed486" stroke="#000" stroke-width="1.2" stroke-linejoin="round" />
<path d="M354.5 337.5L357.9 334.1L361.3 333.0L363.8 335.2L363.6 339.7L360.7 343.1L357.4 342.6Z" fill="#7ed486" stroke="#000" stroke-width="1.2" stroke-linejoin="round" />
<path d="M356.7 411.2L360.1 413.4L361.8 420.2L361.2 425.9L357.8 427.0L356.2 421.3L356.2 415.7Z" fill="#9cc4ff" stroke="#000" stroke-width="1.2" stroke-linejoin="round" />
<path d="M365.0 403.5L367.2 404.4L367.4 408.0L365.2 408.9Z" fill="#7ed486" stroke="#000" stroke-width="1.2" stroke-linejoin="round" />
<path d="M357.8 434.9L360.1 436.0L359.8 441.7L357.8 443.4L357.1 438.3Z" fill="#9cc4ff" stroke="#000" stroke-width="1.2" stroke-linejoin="round" />
<path d="M361.2 450.7L362.9 455.2L365.2 460.9L364.3 464.3L361.8 458.6L360.7 453.0Z" fill="#555" stroke="#000" stroke-width="1.2" stroke-linejoin="round" />
<path d="M352.2 473.3L354.5 474.4L355.6 477.2L353.0 476.1Z" fill="#111" stroke="#000" stroke-width="1.2" stroke-linejoin="round" />
<path d="M357.8 478.4L360.7 481.2L361.2 485.7L359.0 484.0Z" fill="#111" stroke="#000" stroke-width="1.2" stroke-linejoin="round" />
<path d="M349.4 439.4L351.6 440.0L351.4 442.2L349.6 441.9Z" fill="#111" stroke="#000" stroke-width="1.2" stroke-linejoin="round" />
<path d="M307.6 476.1L310.4 475.5L311.0 478.4L308.2 478.9Z" fill="#333" stroke="#000" stroke-width="1.2" stroke-linejoin="round" />
<path d="M128.2 470.1L129.9 471.8L128.2 476.3L125.4 481.4L123.5 482.0L124.8 476.3L126.5 471.8Z" fill="#7ed486" stroke="#000" stroke-width="1.2" stroke-linejoin="round" />
<path d="M177.9 475.2L182.4 474.7L181.9 477.5L178.5 478.0Z" fill="#7ed486" stroke="#000" stroke-width="1.2" stroke-linejoin="round" />
<path d="M169.5 480.0L176.8 479.5L176.6 482.0L169.8 482.2Z" fill="#7ed486" stroke="#000" stroke-width="1.2" stroke-linejoin="round" />
<path d="M207.8 490.5L212.9 486.5L218.0 483.1L218.6 486.5L215.2 489.9L210.1 491.6Z" fill="#7ed486" stroke="#000" stroke-width="1.2" stroke-linejoin="round" />
<path d="M226.5 497.8L228.7 498.9L225.4 508.0L222.0 517.0L219.7 528.3L218.0 537.3L217.4 544.1L215.8 539.6L216.9 528.3L219.7 517.0L222.5 508.0Z" fill="#7ed486" stroke="#000" stroke-width="1.2" stroke-linejoin="round" />
<path d="M255.3 494.4L257.5 495.5L258.1 503.5L256.4 512.5L254.2 511.4L255.3 503.5Z" fill="#7ed486" stroke="#000" stroke-width="1.2" stroke-linejoin="round" />
<path d="M234.6 498.9L236.9 499.5L236.4 508.0L234.4 506.8Z" fill="#222" stroke="#000" stroke-width="1.2" stroke-linejoin="round" />
<path d="M142.0 507.4L144.6 507.1L144.9 510.8L142.3 511.4Z" fill="#7ed486" stroke="#000" stroke-width="1.2" stroke-linejoin="round" />
<path d="M141.2 498.4L145.7 496.9L146.1 500.1L142.0 501.4Z" fill="#222" stroke="#000" stroke-width="1.2" stroke-linejoin="round" />
<path d="M223.7 524.3L226.3 523.2L225.9 528.3L224.0 528.9Z" fill="#7ed486" stroke="#000" stroke-width="1.2" stroke-linejoin="round" />
<path d="M196.0 504.6L198.5 504.4L198.5 506.6L196.2 506.8Z" fill="#111" stroke="#000" stroke-width="1.2" stroke-linejoin="round" />
<path d="M116.9 531.7L119.2 528.3L124.3 527.2L125.4 530.6L124.3 536.2L126.5 541.8L128.2 547.5L124.3 545.2L120.3 544.1L116.9 548.6L114.7 548.1L118.6 541.8L118.1 536.2Z" fill="#9cc4ff" stroke="#000" stroke-width="1.2" stroke-linejoin="round" />
<path d="M120.9 535.1L123.7 534.5L124.3 541.8L122.0 542.4Z" fill="#2a4cff" />
<path d="M119.8 522.1L122.6 521.0L124.3 524.9L121.5 526.0Z" fill="#7ed486" stroke="#000" stroke-width="1.2" stroke-linejoin="round" />
<path d="M124.3 520.4L127.7 518.7L128.2 521.5L125.4 523.2Z" fill="#7ed486" stroke="#000" stroke-width="1.2" stroke-linejoin="round" />
<path d="M128.2 539.6L132.2 537.9L131.6 540.2L129.1 541.6Z" fill="#111" stroke="#000" stroke-width="1.2" stroke-linejoin="round" />
<ellipse cx="64.3" cy="538.8" rx="3.4" ry="3.2" fill="#9cc4ff" stroke="#000" stroke-width="1.4"/>
<circle cx="75" cy="537.8" r="1.3" fill="#111"/><circle cx="76" cy="543.8" r="1.4" fill="#111"/>
<clipPath id="cgc"><path d="M426.5 223.8L428.2 224.4L430.5 221.6L432.7 222.7L435.0 219.9L437.3 221.0L439.0 218.8L438.4 215.4L440.7 213.1L444.0 212.5L447.4 213.1L449.7 214.8L453.1 215.9L455.3 213.1L458.7 211.4L462.1 211.4L465.5 212.0L467.2 215.4L468.3 218.8L470.0 221.6L472.8 224.4L475.1 225.0L477.4 222.1L476.8 218.2L475.1 214.2L474.0 210.8L474.0 207.5L475.7 204.1L478.5 202.4L480.7 199.6L479.1 198.4L476.8 197.9L475.7 196.2L477.9 194.5L481.3 193.9L484.1 192.8L486.1 195.0L485.9 176.7Z"/></clipPath>
<path d="M426.5 223.8L428.2 224.4L430.5 221.6L432.7 222.7L435.0 219.9L437.3 221.0L439.0 218.8L438.4 215.4L440.7 213.1L444.0 212.5L447.4 213.1L449.7 214.8L453.1 215.9L455.3 213.1L458.7 211.4L462.1 211.4L465.5 212.0L467.2 215.4L468.3 218.8L470.0 221.6L472.8 224.4L475.1 225.0L477.4 222.1L476.8 218.2L475.1 214.2L474.0 210.8L474.0 207.5L475.7 204.1L478.5 202.4L480.7 199.6L479.1 198.4L476.8 197.9L475.7 196.2L477.9 194.5L481.3 193.9L484.1 192.8L486.1 195.0L485.9 176.7Z" fill="#7ed486" />
<g clip-path="url(#cgc)">
<path d="M426.5 223.3L439.5 213.1L456.5 198.4L473.4 185.4L486.1 175.8L486.1 192.8L481.3 192.8L475.7 195.0L475.1 199.6L473.4 204.1L472.3 209.7L474.5 217.6L473.4 219.9L470.0 214.2L467.2 209.7L463.2 205.2L456.5 208.6L450.8 209.7L446.9 209.7L442.9 211.4L439.5 212.0L436.1 217.6L431.6 220.4Z" fill="#a9c9ff" />
<path d="M446.3 206.3L450.8 202.9L456.5 198.4L457.6 199.6L452.5 204.1L448.0 207.5Z" fill="#1020e8" />
<path d="M468.9 205.2L472.8 202.9L474.0 207.5L472.8 213.1L470.6 214.2L469.2 209.7Z" fill="#1a34f0" />
<path d="M429.4 219.9L433.9 216.5L435.0 218.2L431.1 221.0Z" fill="#1020e8" />
<path d="M472.8 186.0L475.1 185.4L475.7 190.5L473.4 195.0L472.8 190.5Z" fill="#2a4cff" />
<path d="M477.9 183.7L486.1 177.5L486.1 190.5L481.3 191.6L479.1 188.3Z" fill="#b4ccff" />
</g>
<path d="M451.9 208.0L455.3 205.8L459.9 204.6L463.8 205.2L464.4 206.9L461.0 208.0L457.6 209.2L454.2 209.7Z" fill="#c4c4c4" stroke="#000" stroke-width="1.2" stroke-linejoin="round" />
<path d="M457.6 197.9L472.8 186.5L473.4 189.4L472.3 192.8L471.7 197.3L470.0 201.8L467.8 203.1L464.9 202.5L463.2 199.7L460.4 198.5Z" fill="#ff9012" stroke="#000" stroke-width="1.3" stroke-linejoin="round" />
<path d="M457.6 197.9L472.8 186.5L473.2 186.8L458.2 198.2Z" fill="#ff9012" />
<path d="M464.1 200.4L470.6 199.6L470.0 201.7L467.8 202.8L465.0 202.3Z" fill="#ffd000" />
<path d="M441.5 209.7L446.3 206.9L445.2 209.2L442.9 210.6Z" fill="#ffe000" />
<path d="M477.6 188.3L479.6 188.0L479.7 190.2L477.9 190.5Z" fill="#e0a000" stroke="#000" stroke-width="1.2" stroke-linejoin="round" />
<path d="M473.4 219.9L475.9 219.6L476.1 221.6L473.7 221.7Z" fill="#111" stroke="#000" stroke-width="1.2" stroke-linejoin="round" />
<path d="M470.6 209.2L472.3 208.6L472.8 212.5L471.3 213.1Z" fill="#000" stroke="#000" stroke-width="1.2" stroke-linejoin="round" />
<path d="M475.7 185.4L480.2 181.5L480.7 183.2L476.8 186.6Z" fill="#444" stroke="#000" stroke-width="1.2" stroke-linejoin="round" />
<path d="M426.5 223.8L428.2 224.4L430.5 221.6L432.7 222.7L435.0 219.9L437.3 221.0L439.0 218.8L438.4 215.4L440.7 213.1L444.0 212.5L447.4 213.1L449.7 214.8L453.1 215.9L455.3 213.1L458.7 211.4L462.1 211.4L465.5 212.0L467.2 215.4L468.3 218.8L470.0 221.6L472.8 224.4L475.1 225.0L477.4 222.1L476.8 218.2L475.1 214.2L474.0 210.8L474.0 207.5L475.7 204.1L478.5 202.4L480.7 199.6L479.1 198.4L476.8 197.9L475.7 196.2L477.9 194.5L481.3 193.9L484.1 192.8L486.1 195.0" fill="none" stroke="#000" stroke-width="1.3" stroke-linejoin="round"/>
<text x="0" y="0" font-size="21" transform="translate(287.6 514.5) rotate(-90)">273</text>
<g stroke="#000" fill="none" stroke-width="1.15" stroke-dasharray="3.0 5.265">
<path d="M76.10 41.10V548.80"/>
<path d="M154.80 41.10V548.80"/>
<path d="M233.60 41.10V548.80"/>
<path d="M312.30 41.10V548.80"/>
<path d="M391.05 41.10V548.80"/>
<path d="M469.80 41.10V548.80"/>
<path d="M12.90 73.20H486.10"/>
<path d="M12.90 157.70H486.10"/>
<path d="M12.90 242.20H486.10"/>
<path d="M12.90 326.80H486.10"/>
<path d="M12.90 411.30H486.10"/>
<path d="M12.90 495.80H486.10"/>
</g>
<g stroke="#111" stroke-width="1.1" stroke-dasharray="11.6 11.94" fill="none">
<path d="M190.8 548.5Q335.8 427.5 486.1 313.1"/>
<path d="M334.5 548.5Q409.6 487.2 486.1 427.7"/>
</g>
<g font-size="12.3" text-anchor="middle">
<text x="75.70" y="306.0">-42</text>
<text x="154.40" y="306.0">-40</text>
<text x="233.20" y="306.0">-38</text>
<text x="311.90" y="306.0">-36</text>
<text x="390.65" y="306.0">-34</text>
<text x="469.40" y="306.0">-32</text>
<text x="253.7" y="72.90">16</text>
<text x="253.7" y="157.40">14</text>
<text x="253.7" y="241.90">12</text>
<text x="253.7" y="326.50">10</text>
<text x="253.7" y="411.00">8</text>
<text x="253.7" y="495.50">6</text>
</g>
<path d="M242.90 292.30h13.00v4.40h-13.00z M247.20 288.00h4.40v13.00h-4.40z" fill="#000"/>
<text x="37.3" y="66.5" font-size="25.0" xml:space="preserve">VIRS T<tspan font-size="15" dy="5.6">B11</tspan><tspan dy="-5.6" dx="1.8"> (K)</tspan></text>
<text x="438.4" y="522.8" font-size="30">(g)</text>
<rect x="495.20" y="531.52" width="8.70" height="8.77" fill="#f5f5f5"/>
<rect x="495.20" y="523.06" width="8.70" height="8.77" fill="#eeeeee"/>
<rect x="495.20" y="514.59" width="8.70" height="8.77" fill="#e7e7e7"/>
<rect x="495.20" y="506.13" width="8.70" height="8.77" fill="#e0e0e0"/>
<rect x="495.20" y="497.66" width="8.70" height="8.77" fill="#d9d9d9"/>
<rect x="495.20" y="489.20" width="8.70" height="8.77" fill="#d2d2d2"/>
<rect x="495.20" y="480.73" width="8.70" height="8.77" fill="#cbcbcb"/>
<rect x="495.20" y="472.27" width="8.70" height="8.77" fill="#c4c4c4"/>
<rect x="495.20" y="463.80" width="8.70" height="8.77" fill="#bcbcbc"/>
<rect x="495.20" y="455.34" width="8.70" height="8.77" fill="#b5b5b5"/>
<rect x="495.20" y="446.87" width="8.70" height="8.77" fill="#adadad"/>
<rect x="495.20" y="438.41" width="8.70" height="8.77" fill="#a5a5a5"/>
<rect x="495.20" y="429.94" width="8.70" height="8.77" fill="#9e9e9e"/>
<rect x="495.20" y="421.48" width="8.70" height="8.77" fill="#969696"/>
<rect x="495.20" y="413.01" width="8.70" height="8.77" fill="#80e480"/>
<rect x="495.20" y="404.55" width="8.70" height="8.77" fill="#7ada7a"/>
<rect x="495.20" y="396.08" width="8.70" height="8.77" fill="#74d074"/>
<rect x="495.20" y="387.62" width="8.70" height="8.77" fill="#6ec66e"/>
<rect x="495.20" y="379.15" width="8.70" height="8.77" fill="#68bc68"/>
<rect x="495.20" y="370.69" width="8.70" height="8.77" fill="#d0d8ff"/>
<rect x="495.20" y="362.22" width="8.70" height="8.77" fill="#b7cdff"/>
<rect x="495.20" y="353.76" width="8.70" height="8.77" fill="#9ec2ff"/>
<rect x="495.20" y="345.29" width="8.70" height="8.77" fill="#82b8ff"/>
<rect x="495.20" y="336.83" width="8.70" height="8.77" fill="#64b0ff"/>
<rect x="495.20" y="328.36" width="8.70" height="8.77" fill="#4ea2ff"/>
<rect x="495.20" y="319.90" width="8.70" height="8.77" fill="#4789ff"/>
<rect x="495.20" y="311.43" width="8.70" height="8.77" fill="#4070ff"/>
<rect x="495.20" y="302.97" width="8.70" height="8.77" fill="#3955ff"/>
<rect x="495.20" y="294.50" width="8.70" height="8.77" fill="#3239ff"/>
<rect x="495.20" y="286.04" width="8.70" height="8.77" fill="#2222ff"/>
<rect x="495.20" y="277.57" width="8.70" height="8.77" fill="#0e0eff"/>
<rect x="495.20" y="269.11" width="8.70" height="8.77" fill="#0000f7"/>
<rect x="495.20" y="260.64" width="8.70" height="8.77" fill="#0000e0"/>
<rect x="495.20" y="252.18" width="8.70" height="8.77" fill="#0000c8"/>
<rect x="495.20" y="243.71" width="8.70" height="8.77" fill="#ffff00"/>
<rect x="495.20" y="235.25" width="8.70" height="8.77" fill="#fff400"/>
<rect x="495.20" y="226.78" width="8.70" height="8.77" fill="#ffe800"/>
<rect x="495.20" y="218.31" width="8.70" height="8.77" fill="#ffdd00"/>
<rect x="495.20" y="209.85" width="8.70" height="8.77" fill="#ffd200"/>
<rect x="495.20" y="201.38" width="8.70" height="8.77" fill="#ff9600"/>
<rect x="495.20" y="192.92" width="8.70" height="8.77" fill="#ff8e00"/>
<rect x="495.20" y="184.46" width="8.70" height="8.77" fill="#ff8700"/>
<rect x="495.20" y="175.99" width="8.70" height="8.77" fill="#ff8000"/>
<rect x="495.20" y="167.53" width="8.70" height="8.77" fill="#ff7800"/>
<rect x="495.20" y="159.06" width="8.70" height="8.77" fill="#ff3c00"/>
<rect x="495.20" y="150.60" width="8.70" height="8.77" fill="#ff3300"/>
<rect x="495.20" y="142.13" width="8.70" height="8.77" fill="#ff2a00"/>
<rect x="495.20" y="133.67" width="8.70" height="8.77" fill="#ff2100"/>
<rect x="495.20" y="125.20" width="8.70" height="8.77" fill="#ff1800"/>
<rect x="495.20" y="116.74" width="8.70" height="8.77" fill="#c80000"/>
<rect x="495.20" y="108.27" width="8.70" height="8.77" fill="#be0200"/>
<rect x="495.20" y="99.81" width="8.70" height="8.77" fill="#b40500"/>
<rect x="495.20" y="91.34" width="8.70" height="8.77" fill="#aa0800"/>
<rect x="495.20" y="82.88" width="8.70" height="8.77" fill="#a00a00"/>
<rect x="495.20" y="74.41" width="8.70" height="8.77" fill="#601008"/>
<rect x="495.20" y="65.95" width="8.70" height="8.77" fill="#5e120c"/>
<rect x="495.20" y="57.48" width="8.70" height="8.77" fill="#5d1410"/>
<rect x="495.20" y="49.02" width="8.70" height="8.77" fill="#5c1614"/>
<rect x="495.20" y="40.55" width="8.70" height="8.77" fill="#5a1818"/>
<rect x="503.90" y="547.90" width="2.3" height="1.0" fill="#333"/>
<text x="524.25" y="556.90" font-size="20.00" text-anchor="middle">304</text>
<rect x="503.90" y="497.11" width="2.3" height="1.0" fill="#333"/>
<text x="524.25" y="506.11" font-size="20.00" text-anchor="middle">292</text>
<rect x="503.90" y="446.32" width="2.3" height="1.0" fill="#333"/>
<text x="524.25" y="455.32" font-size="20.00" text-anchor="middle">280</text>
<rect x="503.90" y="395.53" width="2.3" height="1.0" fill="#333"/>
<text x="524.25" y="404.53" font-size="20.00" text-anchor="middle">268</text>
<rect x="503.90" y="344.74" width="2.3" height="1.0" fill="#333"/>
<text x="524.25" y="353.74" font-size="20.00" text-anchor="middle">256</text>
<rect x="503.90" y="293.95" width="2.3" height="1.0" fill="#333"/>
<text x="524.25" y="302.95" font-size="20.00" text-anchor="middle">244</text>
<rect x="503.90" y="243.16" width="2.3" height="1.0" fill="#333"/>
<text x="524.25" y="252.16" font-size="20.00" text-anchor="middle">232</text>
<rect x="503.90" y="192.37" width="2.3" height="1.0" fill="#333"/>
<text x="524.25" y="201.37" font-size="20.00" text-anchor="middle">220</text>
<rect x="503.90" y="141.58" width="2.3" height="1.0" fill="#333"/>
<text x="524.25" y="150.58" font-size="20.00" text-anchor="middle">208</text>
<rect x="503.90" y="90.79" width="2.3" height="1.0" fill="#333"/>
<text x="524.25" y="99.79" font-size="20.00" text-anchor="middle">196</text>
</g>
<g transform="translate(590.50 1181.10)"><!-- panel h -->
<ellipse cx="373.0" cy="406.6" rx="1.65" ry="1.20" fill="#1030ff" transform="rotate(-35 373.0 406.6)"/>
<ellipse cx="380.2" cy="413.5" rx="0.99" ry="0.72" fill="#ff4a10" transform="rotate(-35 380.2 413.5)"/>
<ellipse cx="383.3" cy="419.3" rx="2.20" ry="1.60" fill="#ff4a10" transform="rotate(-35 383.3 419.3)"/>
<ellipse cx="387.4" cy="419.6" rx="0.99" ry="0.72" fill="#ff4a10" transform="rotate(-35 387.4 419.6)"/>
<ellipse cx="380.2" cy="430.1" rx="0.99" ry="0.72" fill="#ff4a10" transform="rotate(-35 380.2 430.1)"/>
<ellipse cx="343.9" cy="438.2" rx="1.98" ry="1.44" fill="#ff4a10" transform="rotate(-35 343.9 438.2)"/>
<ellipse cx="339.4" cy="444.6" rx="1.76" ry="1.28" fill="#ff4a10" transform="rotate(-35 339.4 444.6)"/>
<ellipse cx="370.3" cy="455.0" rx="1.87" ry="1.36" fill="#ff4a10" transform="rotate(-35 370.3 455.0)"/>
<ellipse cx="372.1" cy="462.6" rx="0.99" ry="0.72" fill="#ff4a10" transform="rotate(-35 372.1 462.6)"/>
<ellipse cx="286.6" cy="473.1" rx="0.99" ry="0.72" fill="#ff4a10" transform="rotate(-35 286.6 473.1)"/>
<ellipse cx="286.3" cy="478.5" rx="1.65" ry="1.20" fill="#1030ff" transform="rotate(-35 286.3 478.5)"/>
<ellipse cx="292.9" cy="490.6" rx="0.99" ry="0.72" fill="#ff4a10" transform="rotate(-35 292.9 490.6)"/>
<ellipse cx="371.2" cy="484.7" rx="1.54" ry="1.12" fill="#ff4a10" transform="rotate(-35 371.2 484.7)"/>
<ellipse cx="376.6" cy="487.4" rx="0.99" ry="0.72" fill="#ff4a10" transform="rotate(-35 376.6 487.4)"/>
<ellipse cx="262.2" cy="517.4" rx="1.10" ry="0.80" fill="#ff4a10" transform="rotate(-35 262.2 517.4)"/>
<ellipse cx="268.2" cy="515.4" rx="0.99" ry="0.72" fill="#ff4a10" transform="rotate(-35 268.2 515.4)"/>
<ellipse cx="217.6" cy="528.6" rx="1.87" ry="1.36" fill="#ff4a10" transform="rotate(-35 217.6 528.6)"/>
<ellipse cx="221.9" cy="533.5" rx="0.99" ry="0.72" fill="#ff4a10" transform="rotate(-35 221.9 533.5)"/>
<ellipse cx="223.9" cy="534.6" rx="0.99" ry="0.72" fill="#ff4a10" transform="rotate(-35 223.9 534.6)"/>
<ellipse cx="239.3" cy="530.9" rx="1.21" ry="0.88" fill="#ff4a10" transform="rotate(-35 239.3 530.9)"/>
<ellipse cx="198.1" cy="544.3" rx="0.99" ry="0.72" fill="#ff4a10" transform="rotate(-35 198.1 544.3)"/>
<ellipse cx="284.4" cy="544.9" rx="0.99" ry="0.72" fill="#ff4a10" transform="rotate(-35 284.4 544.9)"/>
<circle cx="423.4" cy="396.5" r="1.0" fill="#1030ff"/>
<g stroke="#000" fill="none" stroke-width="1.15" stroke-dasharray="3.0 5.265">
<path d="M76.10 41.10V548.80"/>
<path d="M154.80 41.10V548.80"/>
<path d="M233.60 41.10V548.80"/>
<path d="M312.30 41.10V548.80"/>
<path d="M391.05 41.10V548.80"/>
<path d="M469.80 41.10V548.80"/>
<path d="M12.90 73.20H486.10"/>
<path d="M12.90 157.70H486.10"/>
<path d="M12.90 242.20H486.10"/>
<path d="M12.90 326.80H486.10"/>
<path d="M12.90 411.30H486.10"/>
<path d="M12.90 495.80H486.10"/>
</g>
<g stroke="#111" stroke-width="1.1" stroke-dasharray="11.6 11.94" fill="none">
<path d="M190.8 548.5Q335.8 427.5 486.1 313.1"/>
<path d="M334.5 548.5Q409.6 487.2 486.1 427.7"/>
</g>
<g font-size="12.3" text-anchor="middle">
<text x="75.70" y="306.0">-42</text>
<text x="154.40" y="306.0">-40</text>
<text x="233.20" y="306.0">-38</text>
<text x="311.90" y="306.0">-36</text>
<text x="390.65" y="306.0">-34</text>
<text x="469.40" y="306.0">-32</text>
<text x="253.7" y="72.90">16</text>
<text x="253.7" y="157.40">14</text>
<text x="253.7" y="241.90">12</text>
<text x="253.7" y="326.50">10</text>
<text x="253.7" y="411.00">8</text>
<text x="253.7" y="495.50">6</text>
</g>
<path d="M242.90 292.30h13.00v4.40h-13.00z M247.20 288.00h4.40v13.00h-4.40z" fill="#000"/>
<text x="37.30" y="66.50" font-size="25.0" xml:space="preserve">2A23 rain types</text>
<text x="438.4" y="522.8" font-size="30">(h)</text>
<rect x="494.80" y="41.20" width="9.50" height="169.10" fill="#ff4500"/>
<rect x="494.80" y="210.30" width="9.50" height="169.10" fill="#0000ff"/>
<rect x="494.80" y="41.20" width="9.50" height="507.30" fill="none" stroke="#111" stroke-width="0.9"/>
<rect x="504.30" y="40.65" width="2.6" height="1.1" fill="#222"/>
<text x="507.60" y="48.50" font-size="20">Conv</text>
<rect x="504.30" y="209.75" width="2.6" height="1.1" fill="#222"/>
<text x="507.60" y="217.60" font-size="20">Strat</text>
<rect x="504.30" y="378.85" width="2.6" height="1.1" fill="#222"/>
<text x="507.60" y="386.70" font-size="20">N/A</text>
</g>
<g transform="translate(1181.00 1181.10)"><!-- panel i -->
<ellipse cx="373.0" cy="406.6" rx="1.72" ry="1.27" fill="#dcdcdc" transform="rotate(-35 373.0 406.6)"/>
<ellipse cx="380.2" cy="413.5" rx="1.03" ry="0.77" fill="#dcdcdc" transform="rotate(-35 380.2 413.5)"/>
<ellipse cx="383.3" cy="419.3" rx="2.30" ry="1.70" fill="#dcdcdc" transform="rotate(-35 383.3 419.3)"/>
<ellipse cx="387.4" cy="419.6" rx="0.92" ry="0.68" fill="#dcdcdc" transform="rotate(-35 387.4 419.6)"/>
<ellipse cx="380.2" cy="430.1" rx="0.92" ry="0.68" fill="#dcdcdc" transform="rotate(-35 380.2 430.1)"/>
<ellipse cx="343.9" cy="438.2" rx="2.07" ry="1.53" fill="#dcdcdc" transform="rotate(-35 343.9 438.2)"/>
<ellipse cx="339.4" cy="444.6" rx="1.84" ry="1.36" fill="#dcdcdc" transform="rotate(-35 339.4 444.6)"/>
<ellipse cx="370.3" cy="455.0" rx="1.95" ry="1.44" fill="#dcdcdc" transform="rotate(-35 370.3 455.0)"/>
<ellipse cx="372.1" cy="462.6" rx="0.92" ry="0.68" fill="#dcdcdc" transform="rotate(-35 372.1 462.6)"/>
<ellipse cx="286.6" cy="473.1" rx="1.03" ry="0.77" fill="#dcdcdc" transform="rotate(-35 286.6 473.1)"/>
<ellipse cx="286.3" cy="478.5" rx="1.72" ry="1.27" fill="#dcdcdc" transform="rotate(-35 286.3 478.5)"/>
<ellipse cx="292.9" cy="490.6" rx="0.92" ry="0.68" fill="#dcdcdc" transform="rotate(-35 292.9 490.6)"/>
<ellipse cx="371.2" cy="484.7" rx="1.61" ry="1.19" fill="#dcdcdc" transform="rotate(-35 371.2 484.7)"/>
<ellipse cx="376.6" cy="487.4" rx="1.03" ry="0.77" fill="#dcdcdc" transform="rotate(-35 376.6 487.4)"/>
<ellipse cx="262.2" cy="517.4" rx="1.15" ry="0.85" fill="#dcdcdc" transform="rotate(-35 262.2 517.4)"/>
<ellipse cx="268.2" cy="515.4" rx="0.86" ry="0.64" fill="#dcdcdc" transform="rotate(-35 268.2 515.4)"/>
<ellipse cx="217.6" cy="528.6" rx="1.95" ry="1.44" fill="#dcdcdc" transform="rotate(-35 217.6 528.6)"/>
<ellipse cx="221.9" cy="533.5" rx="0.92" ry="0.68" fill="#dcdcdc" transform="rotate(-35 221.9 533.5)"/>
<ellipse cx="223.9" cy="534.6" rx="0.86" ry="0.64" fill="#dcdcdc" transform="rotate(-35 223.9 534.6)"/>
<ellipse cx="239.3" cy="530.9" rx="1.26" ry="0.94" fill="#dcdcdc" transform="rotate(-35 239.3 530.9)"/>
<ellipse cx="198.1" cy="544.3" rx="0.92" ry="0.68" fill="#dcdcdc" transform="rotate(-35 198.1 544.3)"/>
<ellipse cx="284.4" cy="544.9" rx="1.03" ry="0.77" fill="#dcdcdc" transform="rotate(-35 284.4 544.9)"/>
<circle cx="422.6" cy="396.5" r="0.9" fill="#5ab0ff"/>
<g stroke="#000" fill="none" stroke-width="1.15" stroke-dasharray="3.0 5.265">
<path d="M76.10 41.10V548.80"/>
<path d="M154.80 41.10V548.80"/>
<path d="M233.60 41.10V548.80"/>
<path d="M312.30 41.10V548.80"/>
<path d="M391.05 41.10V548.80"/>
<path d="M469.80 41.10V548.80"/>
<path d="M12.90 73.20H486.10"/>
<path d="M12.90 157.70H486.10"/>
<path d="M12.90 242.20H486.10"/>
<path d="M12.90 326.80H486.10"/>
<path d="M12.90 411.30H486.10"/>
<path d="M12.90 495.80H486.10"/>
</g>
<g stroke="#111" stroke-width="1.1" stroke-dasharray="11.6 11.94" fill="none">
<path d="M190.8 548.5Q335.8 427.5 486.1 313.1"/>
<path d="M334.5 548.5Q409.6 487.2 486.1 427.7"/>
</g>
<g font-size="12.3" text-anchor="middle">
<text x="75.70" y="306.0">-42</text>
<text x="154.40" y="306.0">-40</text>
<text x="233.20" y="306.0">-38</text>
<text x="311.90" y="306.0">-36</text>
<text x="390.65" y="306.0">-34</text>
<text x="469.40" y="306.0">-32</text>
<text x="253.7" y="72.90">16</text>
<text x="253.7" y="157.40">14</text>
<text x="253.7" y="241.90">12</text>
<text x="253.7" y="326.50">10</text>
<text x="253.7" y="411.00">8</text>
<text x="253.7" y="495.50">6</text>
</g>
<path d="M242.90 292.30h13.00v4.40h-13.00z M247.20 288.00h4.40v13.00h-4.40z" fill="#000"/>
<text x="37.30" y="66.50" font-size="25.0" xml:space="preserve">2A23 storm height (km)</text>
<text x="438.4" y="522.8" font-size="30">(i)</text>
<rect x="495.20" y="531.52" width="8.70" height="8.77" fill="#f5f5f5"/>
<rect x="495.20" y="523.06" width="8.70" height="8.77" fill="#eeeeee"/>
<rect x="495.20" y="514.59" width="8.70" height="8.77" fill="#e7e7e7"/>
<rect x="495.20" y="506.13" width="8.70" height="8.77" fill="#e0e0e0"/>
<rect x="495.20" y="497.66" width="8.70" height="8.77" fill="#d9d9d9"/>
<rect x="495.20" y="489.20" width="8.70" height="8.77" fill="#d2d2d2"/>
<rect x="495.20" y="480.73" width="8.70" height="8.77" fill="#cbcbcb"/>
<rect x="495.20" y="472.27" width="8.70" height="8.77" fill="#c4c4c4"/>
<rect x="495.20" y="463.80" width="8.70" height="8.77" fill="#bcbcbc"/>
<rect x="495.20" y="455.34" width="8.70" height="8.77" fill="#b5b5b5"/>
<rect x="495.20" y="446.87" width="8.70" height="8.77" fill="#adadad"/>
<rect x="495.20" y="438.41" width="8.70" height="8.77" fill="#a5a5a5"/>
<rect x="495.20" y="429.94" width="8.70" height="8.77" fill="#9e9e9e"/>
<rect x="495.20" y="421.48" width="8.70" height="8.77" fill="#969696"/>
<rect x="495.20" y="413.01" width="8.70" height="8.77" fill="#80e480"/>
<rect x="495.20" y="404.55" width="8.70" height="8.77" fill="#7ada7a"/>
<rect x="495.20" y="396.08" width="8.70" height="8.77" fill="#74d074"/>
<rect x="495.20" y="387.62" width="8.70" height="8.77" fill="#6ec66e"/>
<rect x="495.20" y="379.15" width="8.70" height="8.77" fill="#68bc68"/>
<rect x="495.20" y="370.69" width="8.70" height="8.77" fill="#d0d8ff"/>
<rect x="495.20" y="362.22" width="8.70" height="8.77" fill="#b7cdff"/>
<rect x="495.20" y="353.76" width="8.70" height="8.77" fill="#9ec2ff"/>
<rect x="495.20" y="345.29" width="8.70" height="8.77" fill="#82b8ff"/>
<rect x="495.20" y="336.83" width="8.70" height="8.77" fill="#64b0ff"/>
<rect x="495.20" y="328.36" width="8.70" height="8.77" fill="#4ea2ff"/>
<rect x="495.20" y="319.90" width="8.70" height="8.77" fill="#4789ff"/>
<rect x="495.20" y="311.43" width="8.70" height="8.77" fill="#4070ff"/>
<rect x="495.20" y="302.97" width="8.70" height="8.77" fill="#3955ff"/>
<rect x="495.20" y="294.50" width="8.70" height="8.77" fill="#3239ff"/>
<rect x="495.20" y="286.04" width="8.70" height="8.77" fill="#2222ff"/>
<rect x="495.20" y="277.57" width="8.70" height="8.77" fill="#0e0eff"/>
<rect x="495.20" y="269.11" width="8.70" height="8.77" fill="#0000f7"/>
<rect x="495.20" y="260.64" width="8.70" height="8.77" fill="#0000e0"/>
<rect x="495.20" y="252.18" width="8.70" height="8.77" fill="#0000c8"/>
<rect x="495.20" y="243.71" width="8.70" height="8.77" fill="#ffff00"/>
<rect x="495.20" y="235.25" width="8.70" height="8.77" fill="#fff400"/>
<rect x="495.20" y="226.78" width="8.70" height="8.77" fill="#ffe800"/>
<rect x="495.20" y="218.31" width="8.70" height="8.77" fill="#ffdd00"/>
<rect x="495.20" y="209.85" width="8.70" height="8.77" fill="#ffd200"/>
<rect x="495.20" y="201.38" width="8.70" height="8.77" fill="#ff9600"/>
<rect x="495.20" y="192.92" width="8.70" height="8.77" fill="#ff8e00"/>
<rect x="495.20" y="184.46" width="8.70" height="8.77" fill="#ff8700"/>
<rect x="495.20" y="175.99" width="8.70" height="8.77" fill="#ff8000"/>
<rect x="495.20" y="167.53" width="8.70" height="8.77" fill="#ff7800"/>
<rect x="495.20" y="159.06" width="8.70" height="8.77" fill="#ff3c00"/>
<rect x="495.20" y="150.60" width="8.70" height="8.77" fill="#ff3300"/>
<rect x="495.20" y="142.13" width="8.70" height="8.77" fill="#ff2a00"/>
<rect x="495.20" y="133.67" width="8.70" height="8.77" fill="#ff2100"/>
<rect x="495.20" y="125.20" width="8.70" height="8.77" fill="#ff1800"/>
<rect x="495.20" y="116.74" width="8.70" height="8.77" fill="#c80000"/>
<rect x="495.20" y="108.27" width="8.70" height="8.77" fill="#be0200"/>
<rect x="495.20" y="99.81" width="8.70" height="8.77" fill="#b40500"/>
<rect x="495.20" y="91.34" width="8.70" height="8.77" fill="#aa0800"/>
<rect x="495.20" y="82.88" width="8.70" height="8.77" fill="#a00a00"/>
<rect x="495.20" y="74.41" width="8.70" height="8.77" fill="#601008"/>
<rect x="495.20" y="65.95" width="8.70" height="8.77" fill="#5e120c"/>
<rect x="495.20" y="57.48" width="8.70" height="8.77" fill="#5d1410"/>
<rect x="495.20" y="49.02" width="8.70" height="8.77" fill="#5c1614"/>
<rect x="495.20" y="40.55" width="8.70" height="8.77" fill="#5a1818"/>
<rect x="503.90" y="547.90" width="2.3" height="1.0" fill="#333"/>
<text x="532.40" y="556.90" font-size="20.00" text-anchor="middle">0.0</text>
<rect x="503.90" y="497.11" width="2.3" height="1.0" fill="#333"/>
<text x="532.40" y="506.11" font-size="20.00" text-anchor="middle">2.0</text>
<rect x="503.90" y="446.32" width="2.3" height="1.0" fill="#333"/>
<text x="532.40" y="455.32" font-size="20.00" text-anchor="middle">4.0</text>
<rect x="503.90" y="395.53" width="2.3" height="1.0" fill="#333"/>
<text x="532.40" y="404.53" font-size="20.00" text-anchor="middle">6.0</text>
<rect x="503.90" y="344.74" width="2.3" height="1.0" fill="#333"/>
<text x="532.40" y="353.74" font-size="20.00" text-anchor="middle">8.0</text>
<rect x="503.90" y="293.95" width="2.3" height="1.0" fill="#333"/>
<text x="532.40" y="302.95" font-size="20.00" text-anchor="middle">10.0</text>
<rect x="503.90" y="243.16" width="2.3" height="1.0" fill="#333"/>
<text x="532.40" y="252.16" font-size="20.00" text-anchor="middle">12.0</text>
<rect x="503.90" y="192.37" width="2.3" height="1.0" fill="#333"/>
<text x="532.40" y="201.37" font-size="20.00" text-anchor="middle">14.0</text>
<rect x="503.90" y="141.58" width="2.3" height="1.0" fill="#333"/>
<text x="532.40" y="150.58" font-size="20.00" text-anchor="middle">16.0</text>
<rect x="503.90" y="90.79" width="2.3" height="1.0" fill="#333"/>
<text x="532.40" y="99.79" font-size="20.00" text-anchor="middle">18.0</text>
</g>
</svg></body></html>
